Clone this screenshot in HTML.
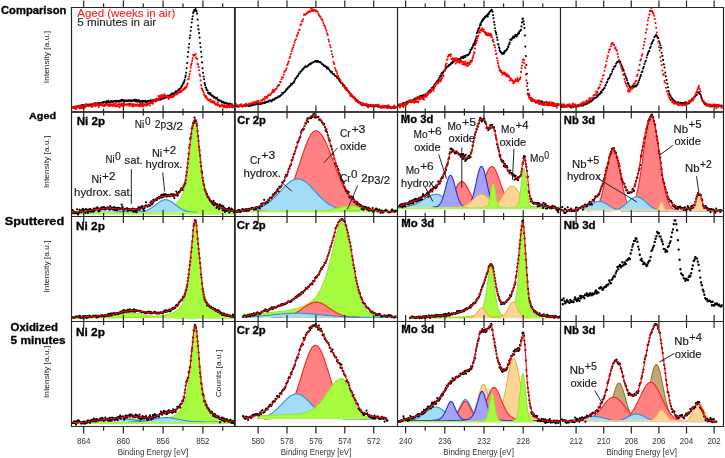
<!DOCTYPE html>
<html><head><meta charset="utf-8"><style>
html,body{margin:0;padding:0;background:#fff;width:725px;height:458px;overflow:hidden}
svg{display:block;will-change:transform}
text{font-family:"Liberation Sans",sans-serif}
</style></head><body><svg width="725" height="458" viewBox="0 0 725 458" font-family="Liberation Sans, sans-serif"><defs><clipPath id="c00"><rect x="71.50" y="7.50" width="163.30" height="104.50"/></clipPath><clipPath id="c01"><rect x="234.80" y="7.50" width="162.70" height="104.50"/></clipPath><clipPath id="c02"><rect x="397.50" y="7.50" width="163.00" height="104.50"/></clipPath><clipPath id="c03"><rect x="560.50" y="7.50" width="163.00" height="104.50"/></clipPath><clipPath id="c10"><rect x="71.50" y="112.00" width="163.30" height="104.50"/></clipPath><clipPath id="c11"><rect x="234.80" y="112.00" width="162.70" height="104.50"/></clipPath><clipPath id="c12"><rect x="397.50" y="112.00" width="163.00" height="104.50"/></clipPath><clipPath id="c13"><rect x="560.50" y="112.00" width="163.00" height="104.50"/></clipPath><clipPath id="c20"><rect x="71.50" y="216.50" width="163.30" height="105.00"/></clipPath><clipPath id="c21"><rect x="234.80" y="216.50" width="162.70" height="105.00"/></clipPath><clipPath id="c22"><rect x="397.50" y="216.50" width="163.00" height="105.00"/></clipPath><clipPath id="c23"><rect x="560.50" y="216.50" width="163.00" height="105.00"/></clipPath><clipPath id="c30"><rect x="71.50" y="321.50" width="163.30" height="105.00"/></clipPath><clipPath id="c31"><rect x="234.80" y="321.50" width="162.70" height="105.00"/></clipPath><clipPath id="c32"><rect x="397.50" y="321.50" width="163.00" height="105.00"/></clipPath><clipPath id="c33"><rect x="560.50" y="321.50" width="163.00" height="105.00"/></clipPath></defs><g clip-path="url(#c00)"><path d="M73 107.4h0M73.5 107.5h0M74 107.1h0M74.5 106.7h0M75 106.9h0M75.5 106.5h0M76 107h0M76.5 107.6h0M77 106.6h0M77.5 106.5h0M78 106.9h0M78.5 106.8h0M79 106.6h0M79.5 106h0M80 106.4h0M80.4 106.7h0M80.9 105.6h0M81.4 106h0M81.9 105.2h0M82.4 105.4h0M82.9 105.1h0M83.4 105.8h0M83.9 105.2h0M84.4 105.9h0M84.9 105.8h0M85.4 105.6h0M85.9 104.3h0M86.4 105.3h0M86.9 105.4h0M87.4 105.4h0M87.9 104.5h0M88.4 105h0M88.9 104.7h0M89.4 104.7h0M89.9 105.5h0M90.4 104.5h0M90.9 104.9h0M91.4 105.2h0M91.9 104.4h0M92.4 104.6h0M92.9 104.6h0M93.4 104.5h0M93.9 103.8h0M94.3 104.3h0M94.8 104.9h0M95.3 103.3h0M95.8 104.4h0M96.3 104h0M96.8 103.5h0M97.3 104.7h0M97.8 104h0M98.3 103h0M98.8 103.5h0M99.3 103.7h0M99.8 103.2h0M100.3 103.5h0M100.8 103.1h0M101.3 103.3h0M101.8 103.6h0M102.3 102.5h0M102.8 102.8h0M103.3 102.4h0M103.8 102.6h0M104.3 101.9h0M104.8 102.1h0M105.3 102.2h0M105.8 102.7h0M106.3 102.7h0M106.8 101.4h0M107.3 101.6h0M107.8 102.3h0M108.3 100.9h0M108.7 101.6h0M109.2 101.7h0M109.7 102.3h0M110.2 102h0M110.7 101.4h0M111.2 101.4h0M111.7 101.4h0M112.2 102.2h0M112.7 101.2h0M113.2 101.2h0M113.7 101.5h0M114.2 101.3h0M114.7 101.2h0M115.2 100.7h0M115.7 101.2h0M116.2 101h0M116.7 101.8h0M117.2 101.5h0M117.7 101.1h0M118.2 101.4h0M118.7 100.9h0M119.2 101.6h0M119.7 101h0M120.2 101.3h0M120.7 100.3h0M121.2 101.1h0M121.7 100.1h0M122.2 99.9h0M122.6 100.7h0M123.1 100.4h0M123.6 100.9h0M124.1 101.9h0M124.6 100.4h0M125.1 100.5h0M125.6 100.9h0M126.1 101h0M126.6 100.6h0M127.1 100.6h0M127.6 101.1h0M128.1 101h0M128.6 100.2h0M129.1 100.7h0M129.6 100.7h0M130.1 100.2h0M130.6 100.8h0M131.1 100.3h0M131.6 101.2h0M132.1 100.8h0M132.6 100.8h0M133.1 100.5h0M133.6 100.7h0M134.1 99.8h0M134.6 100.3h0M135.1 101.1h0M135.6 99.9h0M136.1 101.4h0M136.6 100.1h0M137 101.4h0M137.5 100.6h0M138 101.5h0M138.5 101.2h0M139 100.4h0M139.5 101.8h0M140 101.9h0M140.5 101.2h0M141 101.1h0M141.5 101.2h0M142 100.8h0M142.5 101.9h0M143 101.1h0M143.5 101.4h0M144 101h0M144.5 101.1h0M145 100.8h0M145.5 102h0M146 101.3h0M146.5 101.9h0M147 101.4h0M147.5 101h0M148 101.1h0M148.5 101h0M149 101.2h0M149.5 101h0M150 101h0M150.5 100.4h0M151 100.6h0M151.4 101.8h0M151.9 100.6h0M152.4 100.3h0M152.9 100.9h0M153.4 101.4h0M153.9 99.9h0M154.4 100.5h0M154.9 100.2h0M155.4 99.6h0M155.9 100.7h0M156.4 100.2h0M156.9 100.2h0M157.4 99.7h0M157.9 100.1h0M158.4 99.5h0M158.9 99.6h0M159.4 98.9h0M159.9 98.7h0M160.4 99.8h0M160.9 98.8h0M161.4 99h0M161.9 98.7h0M162.4 98.3h0M162.9 98.1h0M163.4 98.4h0M163.9 97.8h0M164.4 97.7h0M164.9 97.6h0M165.3 98h0M165.8 97.5h0M166.3 97.1h0M166.8 96.4h0M167.3 95.8h0M167.8 96.7h0M168.3 96.4h0M168.8 95.6h0M169.3 95.7h0M169.8 95.5h0M170.3 95.3h0M170.8 95h0M171.3 94.1h0M171.8 94.8h0M172.3 93.2h0M172.8 94h0M173.3 93.6h0M173.8 93.6h0M174.3 93.9h0M174.8 93.4h0M175.3 91.9h0M175.8 91.4h0M176.3 92.4h0M176.8 91.3h0M177.3 91.5h0M177.8 91.6h0M178.3 90h0M178.8 89.4h0M179.3 90.1h0M179.7 89.4h0M180.2 88.7h0M180.7 88.2h0M181.2 87.1h0M181.7 86h0M182.2 85.8h0M182.7 84.5h0M183.2 83.1h0M183.7 83h0M184.2 81.4h0M184.7 80h0M185.2 77.5h0M185.7 75.6h0M186.2 72.8h0M186.7 68.3h0M187.2 63.1h0M187.7 56.8h0M188.2 52.1h0M188.7 47.6h0M189.2 44h0M189.7 38.1h0M190.2 35.2h0M190.7 30.8h0M191.2 27.1h0M191.7 22.5h0M192.2 19.1h0M192.7 16.2h0M193.2 13.1h0M193.6 11.7h0M194.1 10.4h0M194.6 10.5h0M195.1 9.7h0M195.6 9.1h0M196.1 10.8h0M196.6 11.4h0M197.1 13.8h0M197.6 19.6h0M198.1 25.5h0M198.6 29.4h0M199.1 33.1h0M199.6 37.6h0M200.1 43.1h0M200.6 47.2h0M201.1 51.8h0M201.6 56.8h0M202.1 62.4h0M202.6 68.2h0M203.1 72.8h0M203.6 76.5h0M204.1 79.3h0M204.6 83.1h0M205.1 84.9h0M205.6 87.5h0M206.1 87.6h0M206.6 89.3h0M207.1 90.3h0M207.6 90.5h0M208 92.7h0M208.5 93.3h0M209 92.9h0M209.5 94h0M210 94.3h0M210.5 93.3h0M211 95.1h0M211.5 95.3h0M212 95.7h0M212.5 95.5h0M213 96.2h0M213.5 96.6h0M214 97.5h0M214.5 97.4h0M215 97.5h0M215.5 98.5h0M216 97.8h0M216.5 98.1h0M217 97.7h0M217.5 99.7h0M218 99.7h0M218.5 100h0M219 100.2h0M219.5 100.2h0M220 100.6h0M220.5 100.7h0M221 101h0M221.5 101.4h0M221.9 102.4h0M222.4 102.2h0M222.9 102.1h0M223.4 102.1h0M223.9 102.3h0M224.4 103.6h0M224.9 103.2h0M225.4 103.2h0M225.9 103.1h0M226.4 102.9h0M226.9 103.6h0M227.4 104.2h0M227.9 103.7h0M228.4 103.9h0M228.9 104h0M229.4 104.3h0M229.9 103.6h0M230.4 104.4h0M230.9 104.2h0M231.4 105.1h0M231.9 104.4h0M232.4 105.1h0M232.9 105.7h0" stroke="#000" stroke-width="2.1" stroke-linecap="round" fill="none"/><path d="M73 107.6h0M73.5 107.2h0M74 107.9h0M74.5 107.6h0M75 106.6h0M75.5 107.9h0M76 109.2h0M76.5 107.1h0M77 107h0M77.5 106.2h0M78 107.3h0M78.5 105.9h0M79 105.9h0M79.5 108h0M80 105.9h0M80.4 107.7h0M80.9 108h0M81.4 106.8h0M81.9 107h0M82.4 108.2h0M82.9 106.2h0M83.4 105.7h0M83.9 105h0M84.4 106.2h0M84.9 107.4h0M85.4 106.9h0M85.9 105.1h0M86.4 105.1h0M86.9 105.4h0M87.4 106h0M87.9 105.5h0M88.4 105.9h0M88.9 105.9h0M89.4 105.3h0M89.9 105.5h0M90.4 105.7h0M90.9 105.4h0M91.4 105.8h0M91.9 107h0M92.4 105.8h0M92.9 105.3h0M93.4 103.7h0M93.9 105.6h0M94.3 103.4h0M94.8 103.9h0M95.3 105.9h0M95.8 105.7h0M96.3 104.9h0M96.8 103.5h0M97.3 104.7h0M97.8 104.4h0M98.3 105.6h0M98.8 107h0M99.3 105.2h0M99.8 104.3h0M100.3 103.9h0M100.8 104.9h0M101.3 104.8h0M101.8 104h0M102.3 105.1h0M102.8 104h0M103.3 106h0M103.8 106h0M104.3 106h0M104.8 104.6h0M105.3 105.5h0M105.8 104.9h0M106.3 104.7h0M106.8 104.7h0M107.3 103.8h0M107.8 103.7h0M108.3 105.7h0M108.7 104.8h0M109.2 105.2h0M109.7 105.9h0M110.2 103.4h0M110.7 104.3h0M111.2 105.2h0M111.7 105.4h0M112.2 104.7h0M112.7 105.9h0M113.2 105.2h0M113.7 103.9h0M114.2 104.2h0M114.7 105.7h0M115.2 105.4h0M115.7 103.3h0M116.2 106.2h0M116.7 105.5h0M117.2 106.2h0M117.7 104.7h0M118.2 104.7h0M118.7 104h0M119.2 107.3h0M119.7 104.8h0M120.2 106.4h0M120.7 104.4h0M121.2 105.1h0M121.7 103.5h0M122.2 104.7h0M122.6 105.9h0M123.1 103.9h0M123.6 106h0M124.1 105.3h0M124.6 104.1h0M125.1 104.5h0M125.6 104.6h0M126.1 105h0M126.6 104.5h0M127.1 104.3h0M127.6 104.7h0M128.1 104.1h0M128.6 103.8h0M129.1 105h0M129.6 105.8h0M130.1 103.6h0M130.6 105h0M131.1 104.4h0M131.6 104.1h0M132.1 105.8h0M132.6 104.6h0M133.1 106.4h0M133.6 104.4h0M134.1 105.5h0M134.6 104.9h0M135.1 104.5h0M135.6 105.7h0M136.1 105.1h0M136.6 105.8h0M137 105.2h0M137.5 104.3h0M138 105.2h0M138.5 105.4h0M139 106.3h0M139.5 104.6h0M140 105.4h0M140.5 103.9h0M141 106.1h0M141.5 104.5h0M142 103.9h0M142.5 105.4h0M143 106.5h0M143.5 104.1h0M144 104.5h0M144.5 104.7h0M145 104.3h0M145.5 105.5h0M146 104.3h0M146.5 104.3h0M147 105.3h0M147.5 103.9h0M148 104.8h0M148.5 103.3h0M149 102.9h0M149.5 102.1h0M150 105.2h0M150.5 103h0M151 103.3h0M151.4 102.8h0M151.9 102.7h0M152.4 102.3h0M152.9 103.7h0M153.4 100.8h0M153.9 100.1h0M154.4 100.4h0M154.9 99.8h0M155.4 101.5h0M155.9 101.2h0M156.4 99.3h0M156.9 98.5h0M157.4 99h0M157.9 100.2h0M158.4 96h0M158.9 98.6h0M159.4 96.7h0M159.9 98.3h0M160.4 96h0M160.9 96.4h0M161.4 95.1h0M161.9 95.3h0M162.4 97.3h0M162.9 96.7h0M163.4 95.6h0M163.9 95.3h0M164.4 94.4h0M164.9 95.9h0M165.3 96.3h0M165.8 96.4h0M166.3 96.6h0M166.8 95.8h0M167.3 96.9h0M167.8 97h0M168.3 98.4h0M168.8 99h0M169.3 97.2h0M169.8 96.7h0M170.3 97.3h0M170.8 96.8h0M171.3 96.5h0M171.8 97h0M172.3 95.9h0M172.8 97.1h0M173.3 96.2h0M173.8 96.2h0M174.3 95.5h0M174.8 94.6h0M175.3 94.1h0M175.8 94.4h0M176.3 93.8h0M176.8 94.2h0M177.3 93.6h0M177.8 92.1h0M178.3 93.2h0M178.8 91.6h0M179.3 92h0M179.7 92.1h0M180.2 90.2h0M180.7 91.9h0M181.2 91.7h0M181.7 91.1h0M182.2 90.5h0M182.7 90.2h0M183.2 89.3h0M183.7 89.6h0M184.2 88.8h0M184.7 88.9h0M185.2 87.2h0M185.7 87.9h0M186.2 87.2h0M186.7 86.1h0M187.2 84.5h0M187.7 83.5h0M188.2 79.4h0M188.7 78.9h0M189.2 76.3h0M189.7 74h0M190.2 71.3h0M190.7 67.4h0M191.2 64.9h0M191.7 63.3h0M192.2 60.8h0M192.7 58.4h0M193.2 55h0M193.6 55.7h0M194.1 55.4h0M194.6 55h0M195.1 54.8h0M195.6 54h0M196.1 57.5h0M196.6 58.6h0M197.1 58.9h0M197.6 63.9h0M198.1 64.5h0M198.6 67.1h0M199.1 70.2h0M199.6 74.6h0M200.1 76.1h0M200.6 80.4h0M201.1 85.4h0M201.6 88.2h0M202.1 88.7h0M202.6 90.3h0M203.1 90.8h0M203.6 92.5h0M204.1 94.5h0M204.6 95.4h0M205.1 95.9h0M205.6 97.4h0M206.1 96.4h0M206.6 97.6h0M207.1 98.8h0M207.6 99.2h0M208 100h0M208.5 99.9h0M209 99.7h0M209.5 100.7h0M210 99.8h0M210.5 99.7h0M211 102h0M211.5 101.8h0M212 102.5h0M212.5 101h0M213 102.5h0M213.5 102.6h0M214 102.6h0M214.5 101.6h0M215 103.5h0M215.5 104.8h0M216 104.5h0M216.5 103.8h0M217 104.4h0M217.5 105.2h0M218 102.2h0M218.5 104.6h0M219 105.3h0M219.5 105.6h0M220 106.6h0M220.5 106.2h0M221 105.5h0M221.5 105.6h0M221.9 106.1h0M222.4 105h0M222.9 105.5h0M223.4 106.5h0M223.9 107.5h0M224.4 105.6h0M224.9 105.8h0M225.4 106.1h0M225.9 107.2h0M226.4 106h0M226.9 107.4h0M227.4 105.3h0M227.9 106h0M228.4 106.1h0M228.9 107h0M229.4 107.3h0M229.9 105h0M230.4 105.6h0M230.9 106.7h0M231.4 105.9h0M231.9 105.1h0M232.4 107.4h0M232.9 106.9h0" stroke="#f00" stroke-width="2.1" stroke-linecap="round" fill="none"/><text x="77.3" y="17" font-size="10.4" font-weight="normal" fill="#ff1a1a" text-anchor="start" textLength="98" lengthAdjust="spacingAndGlyphs" stroke="#ff1a1a" stroke-width="0.1">Aged (weeks in air)</text><text x="77.3" y="26.4" font-size="10.4" font-weight="normal" fill="#222" text-anchor="start" textLength="78.8" lengthAdjust="spacingAndGlyphs" stroke="#222" stroke-width="0.1">5 minutes in air</text></g><g clip-path="url(#c01)"><path d="M236 106.2h0M236.7 105.8h0M237.4 106.4h0M238.2 105.9h0M238.9 106.4h0M239.6 105.6h0M240.3 105.6h0M241.1 106h0M241.8 105.6h0M242.5 106.1h0M243.2 105.9h0M243.9 105.3h0M244.7 105.7h0M245.4 105.5h0M246.1 105.9h0M246.8 105.2h0M247.6 105.2h0M248.3 105.8h0M249 106.2h0M249.7 106h0M250.4 105.2h0M251.2 105.1h0M251.9 105.6h0M252.6 104.8h0M253.3 104.4h0M254.1 104.8h0M254.8 104.8h0M255.5 104.2h0M256.2 103.8h0M257 103.8h0M257.7 104.5h0M258.4 103.9h0M259.1 104h0M259.8 104h0M260.6 104h0M261.3 103.5h0M262 103.6h0M262.7 102.9h0M263.5 102.9h0M264.2 102.4h0M264.9 103.1h0M265.6 102.4h0M266.3 101.9h0M267.1 101.8h0M267.8 101.6h0M268.5 101.7h0M269.2 100.6h0M270 100.5h0M270.7 100.5h0M271.4 101.4h0M272.1 100.4h0M272.8 99.6h0M273.6 99.6h0M274.3 99.8h0M275 98.5h0M275.7 98h0M276.5 98.2h0M277.2 97.5h0M277.9 97.1h0M278.6 96.2h0M279.3 96.7h0M280.1 96.1h0M280.8 95.2h0M281.5 94.7h0M282.2 93h0M283 93.5h0M283.7 92.5h0M284.4 92.1h0M285.1 91.5h0M285.9 90.4h0M286.6 89.1h0M287.3 89.1h0M288 87.9h0M288.7 87.3h0M289.5 86.4h0M290.2 85.7h0M290.9 84.1h0M291.6 84.7h0M292.4 83.5h0M293.1 82.9h0M293.8 82.4h0M294.5 80.7h0M295.2 78.9h0M296 78.3h0M296.7 77.1h0M297.4 76.3h0M298.1 75.5h0M298.9 73.6h0M299.6 73.5h0M300.3 71.8h0M301 71.6h0M301.7 70.5h0M302.5 69.6h0M303.2 68.9h0M303.9 68h0M304.6 67.4h0M305.4 66.4h0M306.1 66.5h0M306.8 66.7h0M307.5 66.3h0M308.2 65.5h0M309 64.8h0M309.7 63.9h0M310.4 64.3h0M311.1 63.4h0M311.9 63h0M312.6 62.5h0M313.3 62.3h0M314 61.7h0M314.8 61.6h0M315.5 60.9h0M316.2 61h0M316.9 62h0M317.6 61.1h0M318.4 61.2h0M319.1 61.9h0M319.8 62.3h0M320.5 62.1h0M321.3 63h0M322 64h0M322.7 64.3h0M323.4 64.9h0M324.1 66.1h0M324.9 65.8h0M325.6 66.6h0M326.3 66.9h0M327 68.4h0M327.8 67.6h0M328.5 68.8h0M329.2 69.5h0M329.9 70.7h0M330.6 71.4h0M331.4 72.4h0M332.1 72h0M332.8 73.7h0M333.5 74h0M334.3 74.6h0M335 75.8h0M335.7 76h0M336.4 76.3h0M337.1 77.8h0M337.9 78.1h0M338.6 79.3h0M339.3 80.5h0M340 81.3h0M340.8 82.7h0M341.5 82.8h0M342.2 83.1h0M342.9 84.3h0M343.7 85.1h0M344.4 85.8h0M345.1 87.3h0M345.8 87.8h0M346.5 88.2h0M347.3 90.1h0M348 90.7h0M348.7 91.8h0M349.4 92.6h0M350.2 93.7h0M350.9 94.3h0M351.6 95.6h0M352.3 96.1h0M353 96.8h0M353.8 97.5h0M354.5 97.5h0M355.2 98.7h0M355.9 99.4h0M356.7 100.3h0M357.4 100.4h0M358.1 102.2h0M358.8 102.3h0M359.5 102.3h0M360.3 102.6h0M361 103.6h0M361.7 104h0M362.4 104h0M363.2 104.5h0M363.9 104.4h0M364.6 105h0M365.3 104.6h0M366 105h0M366.8 105.6h0M367.5 106.3h0M368.2 105h0M368.9 105.3h0M369.7 105.2h0M370.4 106h0M371.1 105.3h0M371.8 105.6h0M372.6 105.9h0M373.3 105.5h0M374 105.6h0M374.7 105.9h0M375.4 105.3h0M376.2 105.6h0M376.9 106.1h0M377.6 106.4h0M378.3 106.3h0M379.1 105.7h0M379.8 106.3h0M380.5 106.9h0M381.2 106.9h0M381.9 106.7h0M382.7 106.4h0M383.4 107.1h0M384.1 106.6h0M384.8 106.4h0M385.6 106.6h0M386.3 107.6h0M387 107.1h0M387.7 107.6h0M388.4 106.9h0M389.2 107.5h0M389.9 107h0M390.6 107.2h0M391.3 108.3h0M392.1 107.6h0M392.8 107.1h0M393.5 107.3h0M394.2 107.5h0M394.9 107.9h0M395.7 107.2h0" stroke="#000" stroke-width="2.1" stroke-linecap="round" fill="none"/><path d="M236 104.1h0M236.7 105.3h0M237.4 105.5h0M238.2 105.5h0M238.9 106.5h0M239.6 105.6h0M240.3 106h0M241.1 104.4h0M241.8 105.9h0M242.5 106.8h0M243.2 105.6h0M243.9 105.1h0M244.7 104.9h0M245.4 106.1h0M246.1 103.8h0M246.8 104.4h0M247.6 104.7h0M248.3 104.8h0M249 103.7h0M249.7 104.1h0M250.4 103.5h0M251.2 103.7h0M251.9 103.3h0M252.6 102.3h0M253.3 103h0M254.1 103.6h0M254.8 101.9h0M255.5 102.3h0M256.2 102.8h0M257 101.3h0M257.7 102.1h0M258.4 100.8h0M259.1 102.3h0M259.8 102.9h0M260.6 102.4h0M261.3 100.2h0M262 100.5h0M262.7 99.6h0M263.5 99.1h0M264.2 99.8h0M264.9 97h0M265.6 98.4h0M266.3 97h0M267.1 97.6h0M267.8 96.1h0M268.5 94.8h0M269.2 95h0M270 94.9h0M270.7 93.7h0M271.4 93.5h0M272.1 92.1h0M272.8 90.1h0M273.6 91.9h0M274.3 91h0M275 89.8h0M275.7 89h0M276.5 88.9h0M277.2 86.8h0M277.9 85.7h0M278.6 85.1h0M279.3 85.1h0M280.1 81.7h0M280.8 82.3h0M281.5 79.3h0M282.2 77.3h0M283 77.5h0M283.7 74.6h0M284.4 71.9h0M285.1 70.8h0M285.9 70h0M286.6 68.2h0M287.3 64.9h0M288 63.4h0M288.7 61.4h0M289.5 58h0M290.2 56.6h0M290.9 54h0M291.6 51.3h0M292.4 49.1h0M293.1 47.4h0M293.8 45.1h0M294.5 42.4h0M295.2 40.3h0M296 39.3h0M296.7 36.3h0M297.4 34.7h0M298.1 32.9h0M298.9 30.3h0M299.6 29.7h0M300.3 25.2h0M301 24.4h0M301.7 21.5h0M302.5 21.2h0M303.2 19.3h0M303.9 14.8h0M304.6 14.3h0M305.4 14.8h0M306.1 14.3h0M306.8 13.6h0M307.5 12.4h0M308.2 12.4h0M309 12.1h0M309.7 11.1h0M310.4 11.6h0M311.1 8.7h0M311.9 10.8h0M312.6 9.3h0M313.3 10.9h0M314 10h0M314.8 9.7h0M315.5 11.1h0M316.2 10.7h0M316.9 11.4h0M317.6 11.7h0M318.4 13.8h0M319.1 15.2h0M319.8 16.6h0M320.5 16.6h0M321.3 18.7h0M322 19.3h0M322.7 20.7h0M323.4 23h0M324.1 25.3h0M324.9 26.2h0M325.6 28.4h0M326.3 30.6h0M327 33.2h0M327.8 35.1h0M328.5 39.6h0M329.2 41.5h0M329.9 45.3h0M330.6 47.3h0M331.4 51.2h0M332.1 54.3h0M332.8 56.9h0M333.5 62.1h0M334.3 63.9h0M335 68h0M335.7 70.1h0M336.4 71.2h0M337.1 73.4h0M337.9 75.9h0M338.6 77.3h0M339.3 78.9h0M340 80.1h0M340.8 80.3h0M341.5 82.9h0M342.2 82.6h0M342.9 85.8h0M343.7 86h0M344.4 87h0M345.1 88.4h0M345.8 89.8h0M346.5 89.3h0M347.3 89.9h0M348 91.3h0M348.7 91.3h0M349.4 92.9h0M350.2 95.7h0M350.9 94.3h0M351.6 96.4h0M352.3 95.4h0M353 97.4h0M353.8 97.6h0M354.5 98.4h0M355.2 99.6h0M355.9 101.2h0M356.7 100.7h0M357.4 101.3h0M358.1 101h0M358.8 102.8h0M359.5 102.7h0M360.3 104h0M361 103.7h0M361.7 105.4h0M362.4 102.7h0M363.2 104.2h0M363.9 105.3h0M364.6 104.5h0M365.3 104.3h0M366 104.8h0M366.8 104.1h0M367.5 105.4h0M368.2 107.3h0M368.9 106.4h0M369.7 104.7h0M370.4 104.9h0M371.1 105.4h0M371.8 106.6h0M372.6 105.2h0M373.3 105.4h0M374 106.7h0M374.7 106.7h0M375.4 105.8h0M376.2 105.3h0M376.9 105h0M377.6 105.7h0M378.3 104.6h0M379.1 107h0M379.8 106h0M380.5 106.9h0M381.2 108.1h0M381.9 107.6h0M382.7 105.8h0M383.4 107.5h0M384.1 107.8h0M384.8 106.3h0M385.6 106.2h0M386.3 106.9h0M387 105.8h0M387.7 108.3h0M388.4 105.2h0M389.2 106.3h0M389.9 107h0M390.6 107h0M391.3 107.4h0M392.1 107.5h0M392.8 107.1h0M393.5 108.2h0M394.2 105.6h0M394.9 107.4h0M395.7 106.8h0" stroke="#f00" stroke-width="2.1" stroke-linecap="round" fill="none"/></g><g clip-path="url(#c02)"><path d="M399 105.6h0M399.5 105.4h0M400 104.6h0M400.5 104.6h0M401 105.2h0M401.5 104.8h0M401.9 104h0M402.4 105.4h0M402.9 105.4h0M403.4 102.9h0M403.9 103.8h0M404.4 104.9h0M404.9 103.7h0M405.4 103.2h0M405.9 102.7h0M406.4 102.3h0M406.8 102.3h0M407.3 101.9h0M407.8 102.5h0M408.3 101.6h0M408.8 101.4h0M409.3 100.8h0M409.8 101.3h0M410.3 100.6h0M410.8 100.8h0M411.3 101.3h0M411.7 100.7h0M412.2 100.6h0M412.7 100.4h0M413.2 100h0M413.7 99.7h0M414.2 99.4h0M414.7 99.9h0M415.2 98.6h0M415.7 99.9h0M416.2 98.9h0M416.6 98.3h0M417.1 98.3h0M417.6 98h0M418.1 98.3h0M418.6 97.6h0M419.1 98.5h0M419.6 97.2h0M420.1 96.1h0M420.6 96.8h0M421.1 95.8h0M421.5 96.8h0M422 97.2h0M422.5 96.7h0M423 95.3h0M423.5 95.4h0M424 96.6h0M424.5 95.5h0M425 95h0M425.5 95.3h0M426 95.8h0M426.4 94.8h0M426.9 93.7h0M427.4 93.4h0M427.9 93.1h0M428.4 91.9h0M428.9 91.2h0M429.4 91.4h0M429.9 90.3h0M430.4 90.3h0M430.9 89.8h0M431.3 90.6h0M431.8 88.1h0M432.3 88h0M432.8 87.4h0M433.3 87.2h0M433.8 87h0M434.3 85.4h0M434.8 84.7h0M435.3 83.5h0M435.8 83.3h0M436.2 83.5h0M436.7 82.4h0M437.2 81h0M437.7 80.7h0M438.2 80.1h0M438.7 79.6h0M439.2 78.1h0M439.7 77.5h0M440.2 75.8h0M440.7 75.4h0M441.1 76.3h0M441.6 73.3h0M442.1 73.6h0M442.6 73.2h0M443.1 72.2h0M443.6 71.3h0M444.1 71.1h0M444.6 70.5h0M445.1 69.8h0M445.6 68h0M446 68.4h0M446.5 67.4h0M447 66.9h0M447.5 66.8h0M448 66.5h0M448.5 66.1h0M449 64.7h0M449.5 65.1h0M450 64.8h0M450.5 64.3h0M450.9 64.1h0M451.4 62.9h0M451.9 62.6h0M452.4 62.9h0M452.9 61.3h0M453.4 62h0M453.9 61.3h0M454.4 61.1h0M454.9 60.1h0M455.4 60.4h0M455.8 60.7h0M456.3 61h0M456.8 60.9h0M457.3 60h0M457.8 59.7h0M458.3 59.1h0M458.8 59.7h0M459.3 59.1h0M459.8 59.3h0M460.3 59.8h0M460.7 58.5h0M461.2 57.4h0M461.7 57.5h0M462.2 57h0M462.7 56.9h0M463.2 58.2h0M463.7 57.3h0M464.2 56.1h0M464.7 57.1h0M465.2 57.2h0M465.6 56h0M466.1 55.5h0M466.6 55.4h0M467.1 55.4h0M467.6 55.2h0M468.1 55h0M468.6 54.4h0M469.1 53.8h0M469.6 53.2h0M470.1 52h0M470.5 49.9h0M471 49.8h0M471.5 49.2h0M472 47.8h0M472.5 47.6h0M473 45.8h0M473.5 44.4h0M474 44.8h0M474.5 43.1h0M475 41.5h0M475.4 40.3h0M475.9 38.7h0M476.4 36.5h0M476.9 33h0M477.4 32.3h0M477.9 30.8h0M478.4 28.9h0M478.9 28.3h0M479.4 27.8h0M479.9 25.6h0M480.3 24.1h0M480.8 24.9h0M481.3 22.4h0M481.8 21h0M482.3 21h0M482.8 20.3h0M483.3 18.9h0M483.8 19.1h0M484.3 17.8h0M484.8 17h0M485.2 17.2h0M485.7 17.1h0M486.2 15.8h0M486.7 15.9h0M487.2 15.2h0M487.7 16.4h0M488.2 13.8h0M488.7 14.3h0M489.2 12.7h0M489.7 11.8h0M490.1 11.5h0M490.6 10.9h0M491.1 10.6h0M491.6 9.9h0M492.1 10h0M492.6 11.8h0M493.1 15.1h0M493.6 18.2h0M494.1 22.1h0M494.6 24.8h0M495 28.2h0M495.5 31h0M496 32.9h0M496.5 34.7h0M497 37.6h0M497.5 40h0M498 44.1h0M498.5 44.6h0M499 47.4h0M499.5 48.6h0M499.9 50.7h0M500.4 51.6h0M500.9 52.1h0M501.4 52.9h0M501.9 53.6h0M502.4 53.7h0M502.9 53.1h0M503.4 53.2h0M503.9 53.8h0M504.4 51.4h0M504.8 52h0M505.3 50.7h0M505.8 50.8h0M506.3 50.5h0M506.8 49.4h0M507.3 49.1h0M507.8 46.7h0M508.3 47.1h0M508.8 44.8h0M509.3 44.2h0M509.7 42.6h0M510.2 39.7h0M510.7 39.7h0M511.2 39.4h0M511.7 39.6h0M512.2 38.3h0M512.7 37.9h0M513.2 36.5h0M513.7 37.8h0M514.2 37.7h0M514.6 36.3h0M515.1 35.9h0M515.6 34.7h0M516.1 35.8h0M516.6 36.6h0M517.1 34.9h0M517.6 34.8h0M518.1 33.9h0M518.6 32.5h0M519.1 33.3h0M519.5 31.2h0M520 31.1h0M520.5 30.5h0M521 29.7h0M521.5 26.4h0M522 22.4h0M522.5 18.9h0M523 18.6h0M523.5 21.4h0M524 24.3h0M524.4 28h0M524.9 35.5h0M525.4 46.6h0M525.9 56.1h0M526.4 65h0M526.9 73.8h0M527.4 83.2h0M527.9 89.7h0M528.4 94h0M528.9 93.7h0M529.3 95.8h0M529.8 97.9h0M530.3 98.2h0M530.8 98.9h0M531.3 100.6h0M531.8 99.6h0M532.3 99.4h0M532.8 99.6h0M533.3 100.8h0M533.8 101h0M534.2 100.1h0M534.7 100.6h0M535.2 101.6h0M535.7 101.8h0M536.2 101.2h0M536.7 102.1h0M537.2 102.2h0M537.7 100.9h0M538.2 101.8h0M538.7 102.4h0M539.1 101.9h0M539.6 101h0M540.1 102.2h0M540.6 102.9h0M541.1 103.5h0M541.6 101.3h0M542.1 104.3h0M542.6 102.1h0M543.1 103.5h0M543.6 103.7h0M544 103.7h0M544.5 103.3h0M545 102.6h0M545.5 103.7h0M546 103h0M546.5 102h0M547 105.3h0M547.5 104.1h0M548 104.9h0M548.5 103.3h0M548.9 104.8h0M549.4 105h0M549.9 105h0M550.4 104.1h0M550.9 103.5h0M551.4 104.2h0M551.9 103h0M552.4 103.4h0M552.9 104.5h0M553.4 103.9h0M553.8 104.5h0M554.3 104.6h0M554.8 105.8h0M555.3 105.5h0M555.8 104.7h0M556.3 105.5h0M556.8 104.4h0M557.3 104.7h0M557.8 105.5h0M558.3 104.2h0M558.7 104.8h0" stroke="#000" stroke-width="2.1" stroke-linecap="round" fill="none"/><path d="M399 104.5h0M399.5 106h0M400 107.5h0M400.5 104.7h0M401 105.6h0M401.5 104.2h0M401.9 103.8h0M402.4 103.6h0M402.9 106.4h0M403.4 107.2h0M403.9 105h0M404.4 103.5h0M404.9 104.9h0M405.4 103.6h0M405.9 104.7h0M406.4 103.9h0M406.8 103.8h0M407.3 104h0M407.8 102.5h0M408.3 102.5h0M408.8 100.9h0M409.3 102.1h0M409.8 100.9h0M410.3 102.1h0M410.8 101h0M411.3 102h0M411.7 102.2h0M412.2 100h0M412.7 100.5h0M413.2 100.2h0M413.7 101.9h0M414.2 102.8h0M414.7 101.7h0M415.2 100.2h0M415.7 102h0M416.2 98.6h0M416.6 101.8h0M417.1 99.2h0M417.6 96.7h0M418.1 102.5h0M418.6 101.2h0M419.1 98.1h0M419.6 99.2h0M420.1 98.6h0M420.6 98.8h0M421.1 96.8h0M421.5 97.5h0M422 98.5h0M422.5 98h0M423 98.9h0M423.5 97.4h0M424 99.6h0M424.5 96h0M425 96.8h0M425.5 94.1h0M426 94.5h0M426.4 97h0M426.9 94.1h0M427.4 95.3h0M427.9 94.2h0M428.4 92.7h0M428.9 92.9h0M429.4 92.3h0M429.9 91.8h0M430.4 92.6h0M430.9 91.9h0M431.3 90h0M431.8 89.1h0M432.3 89.8h0M432.8 88.8h0M433.3 89.5h0M433.8 90.7h0M434.3 88.1h0M434.8 86.5h0M435.3 85.8h0M435.8 84.5h0M436.2 83.8h0M436.7 83.2h0M437.2 83.3h0M437.7 82.6h0M438.2 83.3h0M438.7 81.4h0M439.2 81h0M439.7 79.2h0M440.2 81.6h0M440.7 79.6h0M441.1 80.2h0M441.6 78.2h0M442.1 78.1h0M442.6 75.2h0M443.1 75.2h0M443.6 76.2h0M444.1 70.5h0M444.6 71.2h0M445.1 69.5h0M445.6 65.9h0M446 64.4h0M446.5 63.5h0M447 59.8h0M447.5 59.4h0M448 56.6h0M448.5 55.7h0M449 54.9h0M449.5 55.1h0M450 55.4h0M450.5 56.1h0M450.9 54.4h0M451.4 58.9h0M451.9 58.6h0M452.4 58.8h0M452.9 58.3h0M453.4 59.1h0M453.9 60.3h0M454.4 60.4h0M454.9 58.2h0M455.4 61h0M455.8 63.6h0M456.3 58.3h0M456.8 61.6h0M457.3 61h0M457.8 60.5h0M458.3 62.2h0M458.8 59.4h0M459.3 61.1h0M459.8 62.7h0M460.3 60.9h0M460.7 60.9h0M461.2 61.8h0M461.7 61.5h0M462.2 64.1h0M462.7 61.8h0M463.2 64.2h0M463.7 62.2h0M464.2 64.7h0M464.7 64.1h0M465.2 61.5h0M465.6 64.6h0M466.1 63.4h0M466.6 64h0M467.1 66.1h0M467.6 62.9h0M468.1 62.7h0M468.6 65.1h0M469.1 63.2h0M469.6 64.3h0M470.1 62.4h0M470.5 60.5h0M471 60.8h0M471.5 61.7h0M472 60.6h0M472.5 58.5h0M473 57h0M473.5 55h0M474 52.4h0M474.5 53h0M475 48.5h0M475.4 44.9h0M475.9 43.3h0M476.4 42.6h0M476.9 40.6h0M477.4 38.1h0M477.9 36.2h0M478.4 35.6h0M478.9 32.4h0M479.4 31.5h0M479.9 32.7h0M480.3 30.1h0M480.8 30.2h0M481.3 30.4h0M481.8 29.3h0M482.3 28.4h0M482.8 31h0M483.3 29.9h0M483.8 29.6h0M484.3 31.9h0M484.8 32.6h0M485.2 32.2h0M485.7 34.2h0M486.2 34.7h0M486.7 33.1h0M487.2 35.2h0M487.7 35.1h0M488.2 34.9h0M488.7 33.5h0M489.2 35h0M489.7 35.4h0M490.1 35.5h0M490.6 34.1h0M491.1 36.5h0M491.6 35.2h0M492.1 37.5h0M492.6 40.6h0M493.1 39.9h0M493.6 41.7h0M494.1 45h0M494.6 45.2h0M495 47.5h0M495.5 50.6h0M496 54.3h0M496.5 53.5h0M497 58h0M497.5 60.6h0M498 63.1h0M498.5 65.6h0M499 67.5h0M499.5 70.1h0M499.9 69.6h0M500.4 71.2h0M500.9 72h0M501.4 71.1h0M501.9 72.5h0M502.4 74.5h0M502.9 73.3h0M503.4 72.5h0M503.9 73.4h0M504.4 72.6h0M504.8 74.2h0M505.3 75.1h0M505.8 73.5h0M506.3 74.5h0M506.8 76.4h0M507.3 74.9h0M507.8 76.2h0M508.3 75.3h0M508.8 76.1h0M509.3 77h0M509.7 80.5h0M510.2 78.2h0M510.7 78.6h0M511.2 79h0M511.7 79.9h0M512.2 81.1h0M512.7 80.9h0M513.2 83.2h0M513.7 81.2h0M514.2 82.6h0M514.6 81.3h0M515.1 81.6h0M515.6 79.3h0M516.1 80.7h0M516.6 80.7h0M517.1 80.4h0M517.6 78.2h0M518.1 81.4h0M518.6 79.8h0M519.1 79.6h0M519.5 79.6h0M520 78.9h0M520.5 77.3h0M521 71.9h0M521.5 68.2h0M522 65.6h0M522.5 62.2h0M523 59.7h0M523.5 59.4h0M524 60.3h0M524.4 63.2h0M524.9 67.2h0M525.4 67.7h0M525.9 74.6h0M526.4 80.4h0M526.9 86.1h0M527.4 93.6h0M527.9 94.4h0M528.4 95.1h0M528.9 96.4h0M529.3 98h0M529.8 98.7h0M530.3 98.9h0M530.8 100h0M531.3 97.8h0M531.8 101h0M532.3 99.1h0M532.8 100.2h0M533.3 100.7h0M533.8 100h0M534.2 100h0M534.7 100.5h0M535.2 101.8h0M535.7 102.6h0M536.2 102.7h0M536.7 101.1h0M537.2 101.4h0M537.7 101.4h0M538.2 103h0M538.7 100.4h0M539.1 104.1h0M539.6 102.3h0M540.1 102h0M540.6 103.3h0M541.1 104.2h0M541.6 103.5h0M542.1 104.4h0M542.6 103.5h0M543.1 104.8h0M543.6 104.9h0M544 103.5h0M544.5 105.2h0M545 103.9h0M545.5 103.9h0M546 102.9h0M546.5 103.7h0M547 104.9h0M547.5 102.7h0M548 104.9h0M548.5 104.7h0M548.9 104.7h0M549.4 102h0M549.9 104.4h0M550.4 105.3h0M550.9 103.8h0M551.4 104.8h0M551.9 102.2h0M552.4 105.6h0M552.9 104.2h0M553.4 105.9h0M553.8 103h0M554.3 105.8h0M554.8 104.9h0M555.3 106.1h0M555.8 104.2h0M556.3 104.6h0M556.8 107.8h0M557.3 104.4h0M557.8 104.6h0M558.3 105.1h0M558.7 104.3h0" stroke="#f00" stroke-width="2.1" stroke-linecap="round" fill="none"/></g><g clip-path="url(#c03)"><path d="M561 106.6h0M561.7 106.9h0M562.4 105.6h0M563.1 105.1h0M563.8 106.6h0M564.5 106.6h0M565.1 106.4h0M565.8 106.6h0M566.5 105.6h0M567.2 105.9h0M567.9 105.3h0M568.6 105.3h0M569.3 106.5h0M570 105.7h0M570.7 107.1h0M571.4 106h0M572 105.7h0M572.7 106.4h0M573.4 106.9h0M574.1 106.2h0M574.8 105.4h0M575.5 106.2h0M576.2 106.7h0M576.9 105.8h0M577.6 105.6h0M578.3 106.5h0M578.9 106h0M579.6 105.3h0M580.3 105.5h0M581 105.2h0M581.7 105.5h0M582.4 105.2h0M583.1 105.5h0M583.8 105h0M584.5 103.5h0M585.2 104.2h0M585.8 104.2h0M586.5 103.6h0M587.2 103.6h0M587.9 102.4h0M588.6 101.9h0M589.3 102.5h0M590 101.2h0M590.7 100.3h0M591.4 101.4h0M592.1 100.1h0M592.7 99.9h0M593.4 98.8h0M594.1 98.4h0M594.8 97.9h0M595.5 97.7h0M596.2 97.5h0M596.9 95.6h0M597.6 96.4h0M598.3 94.8h0M599 94.2h0M599.6 94.4h0M600.3 93.2h0M601 91.7h0M601.7 92.4h0M602.4 90.1h0M603.1 89.7h0M603.8 88.6h0M604.5 88h0M605.2 85.7h0M605.9 85h0M606.5 82.7h0M607.2 82.1h0M607.9 79.7h0M608.6 78.4h0M609.3 78.1h0M610 76h0M610.7 74.4h0M611.4 74h0M612.1 71.7h0M612.8 69.7h0M613.4 69.1h0M614.1 66.8h0M614.8 66.8h0M615.5 65.7h0M616.2 63.6h0M616.9 62.4h0M617.6 61.8h0M618.3 61.2h0M619 60.7h0M619.7 62.2h0M620.3 62.1h0M621 64.3h0M621.7 65.9h0M622.4 67.4h0M623.1 69.4h0M623.8 70.6h0M624.5 73.6h0M625.2 75.3h0M625.9 77.1h0M626.6 78.5h0M627.2 80.3h0M627.9 82.9h0M628.6 84h0M629.3 85.9h0M630 87.2h0M630.7 87.3h0M631.4 87.5h0M632.1 86.5h0M632.8 86h0M633.5 86.9h0M634.1 86.4h0M634.8 86.6h0M635.5 85.8h0M636.2 86.1h0M636.9 85.3h0M637.6 84h0M638.3 82.3h0M639 80.4h0M639.7 78.4h0M640.4 76.4h0M641 75h0M641.7 72.3h0M642.4 71.4h0M643.1 68.4h0M643.8 66.8h0M644.5 64h0M645.2 61.8h0M645.9 60.8h0M646.6 57.6h0M647.3 55.1h0M647.9 53.4h0M648.6 51.6h0M649.3 50.9h0M650 48h0M650.7 46.6h0M651.4 44h0M652.1 42.9h0M652.8 41.3h0M653.5 40.1h0M654.2 37.2h0M654.8 36.6h0M655.5 35.7h0M656.2 34.9h0M656.9 36.1h0M657.6 37.2h0M658.3 37.9h0M659 41.2h0M659.7 43.2h0M660.4 45.2h0M661.1 47.9h0M661.7 52.8h0M662.4 55.9h0M663.1 59.9h0M663.8 64.2h0M664.5 67.5h0M665.2 72.6h0M665.9 76.3h0M666.6 80.1h0M667.3 83.7h0M668 87.3h0M668.6 91.1h0M669.3 93.3h0M670 95h0M670.7 96.2h0M671.4 97.7h0M672.1 98.2h0M672.8 99.3h0M673.5 100.4h0M674.2 100.8h0M674.9 101.5h0M675.5 101.6h0M676.2 103.1h0M676.9 102.9h0M677.6 102.6h0M678.3 102.4h0M679 103.7h0M679.7 102.8h0M680.4 102.7h0M681.1 103h0M681.8 103.1h0M682.4 103.7h0M683.1 103h0M683.8 104.1h0M684.5 102.7h0M685.2 103.5h0M685.9 102.7h0M686.6 104.1h0M687.3 103h0M688 103.1h0M688.7 103.4h0M689.3 103.2h0M690 101.5h0M690.7 101.2h0M691.4 100h0M692.1 100h0M692.8 99.1h0M693.5 98.2h0M694.2 97.3h0M694.9 96.7h0M695.6 95.6h0M696.2 95.3h0M696.9 94.8h0M697.6 92.3h0M698.3 92.7h0M699 92.4h0M699.7 93.7h0M700.4 94.5h0M701.1 96.8h0M701.8 98.3h0M702.5 100.7h0M703.1 101.5h0M703.8 102.5h0M704.5 103.8h0M705.2 104.3h0M705.9 104.1h0M706.6 105.4h0M707.3 105.3h0M708 105.2h0M708.7 105.8h0M709.4 106h0M710 104.9h0M710.7 105.2h0M711.4 106.4h0M712.1 106.4h0M712.8 105.3h0M713.5 105.2h0M714.2 105.5h0M714.9 105.6h0M715.6 105.1h0M716.3 105.9h0M716.9 105.3h0M717.6 105.3h0M718.3 106.4h0M719 105.6h0M719.7 105.9h0M720.4 106.3h0M721.1 106.4h0M721.8 105.8h0" stroke="#000" stroke-width="2.1" stroke-linecap="round" fill="none"/><path d="M561 105h0M561.7 104.3h0M562.4 106.7h0M563.1 105.7h0M563.8 104.2h0M564.5 105.3h0M565.1 105.9h0M565.8 105.8h0M566.5 107h0M567.2 106.6h0M567.9 104.9h0M568.6 105.3h0M569.3 104.3h0M570 105.7h0M570.7 105.6h0M571.4 107.9h0M572 105.6h0M572.7 103.6h0M573.4 104.9h0M574.1 105.6h0M574.8 104.4h0M575.5 104.7h0M576.2 105.2h0M576.9 105.8h0M577.6 105.4h0M578.3 104.7h0M578.9 106.1h0M579.6 104.8h0M580.3 104.6h0M581 103.6h0M581.7 103.8h0M582.4 104.8h0M583.1 102.4h0M583.8 103.4h0M584.5 103.7h0M585.2 102.2h0M585.8 102.3h0M586.5 100.6h0M587.2 102.3h0M587.9 101.7h0M588.6 100.4h0M589.3 98.1h0M590 98.2h0M590.7 99.5h0M591.4 99.6h0M592.1 97.8h0M592.7 98h0M593.4 95.6h0M594.1 95.3h0M594.8 94.7h0M595.5 94.2h0M596.2 91.6h0M596.9 92.8h0M597.6 92.1h0M598.3 88.8h0M599 87.4h0M599.6 87.5h0M600.3 84.8h0M601 81.2h0M601.7 81.7h0M602.4 78.7h0M603.1 75.5h0M603.8 75.2h0M604.5 70.7h0M605.2 67.2h0M605.9 65.3h0M606.5 61.3h0M607.2 58.3h0M607.9 56.1h0M608.6 52.3h0M609.3 49.9h0M610 49.3h0M610.7 46.2h0M611.4 44.3h0M612.1 43h0M612.8 43h0M613.4 44.8h0M614.1 44.9h0M614.8 48.2h0M615.5 47.2h0M616.2 49.6h0M616.9 50.7h0M617.6 53.9h0M618.3 57h0M619 60.1h0M619.7 60.8h0M620.3 64h0M621 66.5h0M621.7 68.8h0M622.4 71h0M623.1 74.5h0M623.8 75.1h0M624.5 79.1h0M625.2 81.5h0M625.9 83.3h0M626.6 85.1h0M627.2 86.6h0M627.9 91h0M628.6 88.9h0M629.3 91.7h0M630 90.6h0M630.7 89.1h0M631.4 87.6h0M632.1 88.6h0M632.8 88.1h0M633.5 84.4h0M634.1 83.6h0M634.8 83.4h0M635.5 81.2h0M636.2 80.7h0M636.9 76.1h0M637.6 74.5h0M638.3 70.2h0M639 70.3h0M639.7 64.9h0M640.4 60.6h0M641 59.2h0M641.7 55.8h0M642.4 54.1h0M643.1 48.5h0M643.8 45.1h0M644.5 41.9h0M645.2 38.7h0M645.9 32.8h0M646.6 29.4h0M647.3 24.7h0M647.9 20.3h0M648.6 17.7h0M649.3 14.6h0M650 10.9h0M650.7 10.9h0M651.4 8h0M652.1 11h0M652.8 12.4h0M653.5 13.7h0M654.2 15.7h0M654.8 19h0M655.5 23.1h0M656.2 27.8h0M656.9 32.5h0M657.6 38.3h0M658.3 41.8h0M659 47.2h0M659.7 50.4h0M660.4 57.2h0M661.1 61.3h0M661.7 65.1h0M662.4 70.6h0M663.1 74.2h0M663.8 74.9h0M664.5 81h0M665.2 82.8h0M665.9 87.7h0M666.6 91.6h0M667.3 91.3h0M668 94.1h0M668.6 95.7h0M669.3 97.8h0M670 99.1h0M670.7 100.5h0M671.4 99.2h0M672.1 102.3h0M672.8 100.7h0M673.5 102.4h0M674.2 103.7h0M674.9 103.8h0M675.5 102.7h0M676.2 103.3h0M676.9 103.7h0M677.6 104.2h0M678.3 105.3h0M679 103.1h0M679.7 104.7h0M680.4 104.8h0M681.1 104.7h0M681.8 104.5h0M682.4 105.4h0M683.1 104.4h0M683.8 104.6h0M684.5 104.3h0M685.2 105.3h0M685.9 101.8h0M686.6 104.5h0M687.3 103h0M688 102.8h0M688.7 101.9h0M689.3 100.7h0M690 101.6h0M690.7 100.7h0M691.4 101.1h0M692.1 98.6h0M692.8 100.4h0M693.5 98.4h0M694.2 97h0M694.9 95.6h0M695.6 94.5h0M696.2 92.8h0M696.9 91.2h0M697.6 89.4h0M698.3 87.6h0M699 86.1h0M699.7 88.9h0M700.4 91.4h0M701.1 95.6h0M701.8 99.4h0M702.5 100.1h0M703.1 101.1h0M703.8 101.4h0M704.5 102.6h0M705.2 102.8h0M705.9 105.1h0M706.6 103.9h0M707.3 104.8h0M708 104.3h0M708.7 105.1h0M709.4 106.4h0M710 104.6h0M710.7 105h0M711.4 104.7h0M712.1 106.3h0M712.8 104.7h0M713.5 104.6h0M714.2 104.5h0M714.9 104.5h0M715.6 106.2h0M716.3 108.2h0M716.9 105h0M717.6 106.8h0M718.3 106.2h0M719 105h0M719.7 105.7h0M720.4 105.8h0M721.1 105.4h0M721.8 107.7h0" stroke="#f00" stroke-width="2.1" stroke-linecap="round" fill="none"/></g><g clip-path="url(#c10)"><path d="M72,212.3 L72,212.1 74,212.1 76,212.1 78,212.1 80,212.1 82,212 84,212 86,212 88,212 90,212 92,212 94,212 96,212 98,212 100,211.9 102,211.9 104,211.9 106,211.9 108,211.9 110,211.8 112,211.8 114,211.8 116,211.8 118,211.7 120,211.7 122,211.7 124,211.7 126,211.6 128,211.6 130,211.5 132,211.5 134,211.4 136,211.4 138,211.3 140,211.2 142,211.1 144,211.1 146,210.9 148,210.8 150,210.7 152,210.6 154,210.4 156,210.2 158,210 160,209.7 162,209.4 164,209 164.5,208.9 165,208.8 165.5,208.7 166,208.5 166.5,208.4 167,208.3 167.5,208.1 168,208 168.5,207.8 169,207.7 169.5,207.5 170,207.3 170.5,207.1 171,206.9 171.5,206.7 172,206.5 172.5,206.2 173,206 173.5,205.7 174,205.4 174.5,205.1 175,204.7 175.5,204.4 176,204 176.5,203.6 177,203.1 177.5,202.7 178,202.1 178.5,201.6 179,200.9 179.5,200.3 180,199.5 180.5,198.7 181,197.9 181.5,196.9 182,195.8 182.5,194.7 183,193.4 183.5,191.9 184,190.4 184.5,188.6 185,186.7 185.5,184.6 186,182.2 186.5,179.7 187,176.9 187.5,173.8 188,170.4 188.5,166.8 189,162.8 189.5,158.6 190,154.1 190.5,149.5 191,144.7 191.5,139.8 192,135.1 192.5,130.6 193,126.6 193.5,123.2 194,120.7 194.5,119.3 195,118.9 195.5,119.7 196,121.6 196.5,124.5 197,128.1 197.5,132.4 198,137 198.5,141.8 199,146.6 199.5,151.4 200,156 200.5,160.3 201,164.4 201.5,168.2 202,171.8 202.5,175 203,178 203.5,180.7 204,183.2 204.5,185.5 205,187.5 205.5,189.3 206,191 206.5,192.5 207,193.9 207.5,195.1 208,196.3 208.5,197.3 209,198.2 209.5,199.1 210,199.8 210.5,200.5 211,201.2 211.5,201.8 212,202.3 212.5,202.8 213,203.3 213.5,203.8 214,204.2 214.5,204.5 215,204.9 215.5,205.2 216,205.5 216.5,205.8 217,206.1 217.5,206.3 218,206.6 218.5,206.8 219,207 219.5,207.2 220,207.4 220.5,207.6 221,207.7 221.5,207.9 222,208.1 222.5,208.2 223,208.3 223.5,208.5 224,208.6 224.5,208.7 225,208.8 225.5,208.9 226,209 228,209.4 230,209.7 232,210 234,210.2 L234,212.3" fill="#a6fb3e" stroke="#8ee82c" stroke-width="1.05" stroke-linejoin="round"/><path d="M74.5,212.3 L74.5,212.2 75,212.2 75.5,212.2 76,212.2 76.5,212.2 77,212.2 77.5,212.2 78,212.2 78.5,212.1 79,212.1 79.5,212.1 80,212.1 80.5,212 81,212 81.5,212 82,211.9 82.5,211.9 83,211.9 83.5,211.8 84,211.8 84.5,211.7 85,211.6 85.5,211.6 86,211.5 86.5,211.5 87,211.4 87.5,211.3 88,211.2 88.5,211.1 89,211 89.5,211 90,210.9 90.5,210.8 91,210.7 91.5,210.6 92,210.4 92.5,210.3 93,210.2 93.5,210.1 94,210 94.5,209.9 95,209.8 95.5,209.7 96,209.6 96.5,209.5 97,209.4 97.5,209.3 98,209.2 98.5,209.1 99,209 99.5,208.9 100,208.9 100.5,208.8 101,208.8 101.5,208.7 102,208.7 102.5,208.6 103,208.6 103.5,208.6 104,208.6 104.5,208.6 105,208.6 105.5,208.6 106,208.7 106.5,208.7 107,208.8 107.5,208.8 108,208.9 108.5,208.9 109,209 109.5,209.1 110,209.2 110.5,209.3 111,209.4 111.5,209.5 112,209.6 112.5,209.7 113,209.8 113.5,209.9 114,210 114.5,210.1 115,210.2 115.5,210.3 116,210.4 116.5,210.6 117,210.7 117.5,210.8 118,210.9 118.5,211 119,211 119.5,211.1 120,211.2 120.5,211.3 121,211.4 121.5,211.5 122,211.5 122.5,211.6 123,211.6 123.5,211.7 124,211.8 124.5,211.8 125,211.9 125.5,211.9 126,211.9 126.5,212 127,212 127.5,212 128,212.1 128.5,212.1 129,212.1 129.5,212.1 130,212.2 130.5,212.2 131,212.2 131.5,212.2 132,212.2 132.5,212.2 133,212.2 133.5,212.2 L133.5,212.3" fill="#a3dcf7" stroke="#1f8fe0" stroke-width="1.05" stroke-linejoin="round"/><path d="M115,212.3 L115,212.2 115.5,212.2 116,212.2 116.5,212.2 117,212.2 117.5,212.2 118,212.1 118.5,212.1 119,212.1 119.5,212 120,212 120.5,212 121,211.9 121.5,211.8 122,211.8 122.5,211.7 123,211.6 123.5,211.6 124,211.5 124.5,211.4 125,211.3 125.5,211.2 126,211.1 126.5,211 127,210.9 127.5,210.8 128,210.7 128.5,210.6 129,210.5 129.5,210.4 130,210.3 130.5,210.2 131,210.2 131.5,210.1 132,210.1 132.5,210 133,210 133.5,210 134,210 134.5,210 135,210 135.5,210.1 136,210.1 136.5,210.2 137,210.3 137.5,210.3 138,210.4 138.5,210.5 139,210.6 139.5,210.7 140,210.8 140.5,210.9 141,211 141.5,211.1 142,211.2 142.5,211.3 143,211.4 143.5,211.5 144,211.6 144.5,211.6 145,211.7 145.5,211.8 146,211.9 146.5,211.9 147,212 147.5,212 148,212 148.5,212.1 149,212.1 149.5,212.1 150,212.2 150.5,212.2 151,212.2 151.5,212.2 152,212.2 152.5,212.2 L152.5,212.3" fill="#a3dcf7" stroke="#1f8fe0" stroke-width="1.05" stroke-linejoin="round"/><path d="M133.5,212.3 L133.5,212.2 134,212.2 134.5,212.2 135,212.2 135.5,212.2 136,212.2 136.5,212.2 137,212.1 137.5,212.1 138,212.1 138.5,212 139,212 139.5,211.9 140,211.9 140.5,211.8 141,211.8 141.5,211.7 142,211.6 142.5,211.5 143,211.4 143.5,211.3 144,211.2 144.5,211.1 145,210.9 145.5,210.8 146,210.6 146.5,210.4 147,210.2 147.5,210 148,209.8 148.5,209.6 149,209.3 149.5,209.1 150,208.8 150.5,208.5 151,208.2 151.5,207.9 152,207.5 152.5,207.2 153,206.8 153.5,206.5 154,206.1 154.5,205.7 155,205.3 155.5,204.9 156,204.5 156.5,204.1 157,203.7 157.5,203.4 158,203 158.5,202.6 159,202.3 159.5,201.9 160,201.6 160.5,201.3 161,201 161.5,200.8 162,200.5 162.5,200.3 163,200.1 163.5,200 164,199.9 164.5,199.8 165,199.7 165.5,199.7 166,199.7 166.5,199.8 167,199.8 167.5,199.9 168,200.1 168.5,200.2 169,200.4 169.5,200.7 170,200.9 170.5,201.2 171,201.5 171.5,201.8 172,202.1 172.5,202.5 173,202.8 173.5,203.2 174,203.6 174.5,204 175,204.4 175.5,204.8 176,205.2 176.5,205.5 177,205.9 177.5,206.3 178,206.7 178.5,207 179,207.4 179.5,207.7 180,208.1 180.5,208.4 181,208.7 181.5,209 182,209.2 182.5,209.5 183,209.7 183.5,210 184,210.2 184.5,210.4 185,210.5 185.5,210.7 186,210.9 186.5,211 187,211.2 187.5,211.3 188,211.4 188.5,211.5 189,211.6 189.5,211.7 190,211.7 190.5,211.8 191,211.9 191.5,211.9 192,212 192.5,212 193,212.1 193.5,212.1 194,212.1 194.5,212.1 195,212.2 195.5,212.2 196,212.2 196.5,212.2 197,212.2 197.5,212.2 198,212.2 L198,212.3" fill="#a3dcf7" stroke="#1f8fe0" stroke-width="1.05" stroke-linejoin="round"/><rect x="72" y="212.3" width="162.6" height="2.3" fill="#a6fb3e"/><path d="M72.5 210.2h0M73 212.9h0M73.5 212.8h0M74 211.6h0M74.5 212.4h0M75 213.2h0M75.5 212.3h0M76 212.5h0M76.5 212.8h0M77 209.4h0M77.5 213.6h0M78 214.5h0M78.5 212.9h0M79 212.8h0M79.5 209.8h0M79.9 211.3h0M80.4 210.4h0M80.9 210.6h0M81.4 212.4h0M81.9 210.2h0M82.4 211h0M82.9 208.8h0M83.4 210.8h0M83.9 211h0M84.4 210h0M84.9 209.9h0M85.4 213h0M85.9 209.2h0M86.4 209.4h0M86.9 209.6h0M87.4 211.9h0M87.9 213h0M88.4 210.8h0M88.9 209.5h0M89.4 209.7h0M89.9 211.5h0M90.4 209h0M90.9 211.8h0M91.4 211.7h0M91.9 210.1h0M92.4 210.7h0M92.9 210.8h0M93.4 211.7h0M93.8 208.5h0M94.3 211.1h0M94.8 209.2h0M95.3 208.6h0M95.8 209.6h0M96.3 209.2h0M96.8 208.2h0M97.3 207.4h0M97.8 208.1h0M98.3 210.9h0M98.8 211.5h0M99.3 209.9h0M99.8 210.4h0M100.3 208.3h0M100.8 208.8h0M101.3 209.2h0M101.8 207.4h0M102.3 207.5h0M102.8 208.7h0M103.3 208.1h0M103.8 207.1h0M104.3 208.8h0M104.8 207.9h0M105.3 209.4h0M105.8 208.1h0M106.3 207.8h0M106.8 208.3h0M107.3 207.9h0M107.8 207.3h0M108.2 207.6h0M108.7 209h0M109.2 208.9h0M109.7 209.7h0M110.2 206.2h0M110.7 207.8h0M111.2 207.8h0M111.7 208.5h0M112.2 207.8h0M112.7 207.8h0M113.2 209.4h0M113.7 208.7h0M114.2 207.1h0M114.7 210.2h0M115.2 209.8h0M115.7 208h0M116.2 209.7h0M116.7 207.9h0M117.2 210.2h0M117.7 208.6h0M118.2 207.9h0M118.7 208.5h0M119.2 208h0M119.7 209.2h0M120.2 209.2h0M120.7 209.1h0M121.2 208.4h0M121.7 204.7h0M122.1 209.2h0M122.6 206.9h0M123.1 209.5h0M123.6 210.6h0M124.1 209.6h0M124.6 208.8h0M125.1 209.1h0M125.6 209.1h0M126.1 208.7h0M126.6 208.7h0M127.1 208.3h0M127.6 210.8h0M128.1 209.4h0M128.6 210.6h0M129.1 209.2h0M129.6 209.6h0M130.1 209.3h0M130.6 210.1h0M131.1 210.5h0M131.6 209.8h0M132.1 208.8h0M132.6 208.6h0M133.1 211.6h0M133.6 209.3h0M134.1 209.2h0M134.6 211.4h0M135.1 210.9h0M135.6 210.2h0M136.1 209.1h0M136.5 212.3h0M137 209.9h0M137.5 210h0M138 209h0M138.5 207.4h0M139 207.4h0M139.5 209.4h0M140 209.2h0M140.5 208.3h0M141 207h0M141.5 206.5h0M142 207.7h0M142.5 206.2h0M143 208.9h0M143.5 209h0M144 210.8h0M144.5 208.3h0M145 206.3h0M145.5 205.7h0M146 202.3h0M146.5 205.5h0M147 205.7h0M147.5 206.8h0M148 206h0M148.5 205.7h0M149 204.9h0M149.5 205.1h0M150 205.8h0M150.5 202.4h0M150.9 202.8h0M151.4 201.3h0M151.9 204.5h0M152.4 203.7h0M152.9 202.7h0M153.4 199.9h0M153.9 201.2h0M154.4 200.3h0M154.9 200.4h0M155.4 199.7h0M155.9 200.2h0M156.4 198.7h0M156.9 199.9h0M157.4 198.8h0M157.9 197.8h0M158.4 197.7h0M158.9 197.1h0M159.4 198.3h0M159.9 196.8h0M160.4 197.3h0M160.9 196.3h0M161.4 194.9h0M161.9 197.6h0M162.4 195.1h0M162.9 197.1h0M163.4 196.7h0M163.9 194.1h0M164.4 194.8h0M164.8 195.3h0M165.3 194.9h0M165.8 194.4h0M166.3 196.7h0M166.8 195.5h0M167.3 196.2h0M167.8 195.2h0M168.3 196.1h0M168.8 194.8h0M169.3 195.6h0M169.8 196.3h0M170.3 195.6h0M170.8 195h0M171.3 194.2h0M171.8 195.6h0M172.3 195.8h0M172.8 195h0M173.3 194.3h0M173.8 195.8h0M174.3 198.1h0M174.8 194.6h0M175.3 195.3h0M175.8 195.2h0M176.3 191.5h0M176.8 194.6h0M177.3 193.4h0M177.8 195.7h0M178.3 193.3h0M178.8 192.1h0M179.2 192.2h0M179.7 192.1h0M180.2 190.7h0M180.7 190.6h0M181.2 188.4h0M181.7 188.9h0M182.2 189.3h0M182.7 189.8h0M183.2 187.3h0M183.7 185.6h0M184.2 185.4h0M184.7 183.8h0M185.2 183h0M185.7 180.2h0M186.2 175.7h0M186.7 172.2h0M187.2 167.8h0M187.7 163.4h0M188.2 159h0M188.7 153.7h0M189.2 147.7h0M189.7 144.9h0M190.2 138.9h0M190.7 137.4h0M191.2 133.8h0M191.7 128.5h0M192.2 128.2h0M192.7 125.7h0M193.1 122.8h0M193.6 123.2h0M194.1 122.1h0M194.6 117.6h0M195.1 120.2h0M195.6 120.2h0M196.1 121.4h0M196.6 123.7h0M197.1 125.5h0M197.6 131.2h0M198.1 136h0M198.6 141.1h0M199.1 147h0M199.6 150.4h0M200.1 155.6h0M200.6 162.2h0M201.1 166.2h0M201.6 171.4h0M202.1 172.9h0M202.6 177.9h0M203.1 181h0M203.6 184.1h0M204.1 185.5h0M204.6 189.3h0M205.1 189.8h0M205.6 191.3h0M206.1 192.5h0M206.6 194.4h0M207.1 194h0M207.5 196.8h0M208 196.9h0M208.5 197.4h0M209 198h0M209.5 199.4h0M210 200.6h0M210.5 201.2h0M211 201.2h0M211.5 202.3h0M212 202h0M212.5 203.8h0M213 202.8h0M213.5 200.8h0M214 205.3h0M214.5 204.2h0M215 203.1h0M215.5 204.6h0M216 204.1h0M216.5 208h0M217 206.4h0M217.5 204.2h0M218 207h0M218.5 206.1h0M219 209.2h0M219.5 205.8h0M220 204.6h0M220.5 207.6h0M221 207.3h0M221.4 207.4h0M221.9 205.5h0M222.4 208.7h0M222.9 210.4h0M223.4 206.3h0M223.9 210.1h0M224.4 208.2h0M224.9 211.8h0M225.4 209.7h0M225.9 209.1h0M226.4 210.8h0M226.9 210.2h0M227.4 209h0M227.9 210.7h0M228.4 209.3h0M228.9 207.9h0M229.4 212.6h0M229.9 209.8h0M230.4 209.6h0M230.9 210.9h0M231.4 208.7h0M231.9 209h0M232.4 210.1h0M232.9 210.2h0M233.4 210.9h0M233.9 212.3h0" stroke="#000" stroke-width="2.2" stroke-linecap="round" fill="none"/><polyline points="72.5,212.5 73.5,212.4 74.5,212.2 75.5,212.1 76.5,212 77.5,211.8 78.5,211.7 79.5,211.5 80.5,211.4 81.5,211.3 82.5,211.1 83.5,211 84.5,210.9 85.5,210.7 86.5,210.6 87.5,210.5 88.5,210.4 89.5,210.2 90.5,210.1 91.5,210 92.5,209.9 93.5,209.8 94.5,209.7 95.5,209.5 96.5,209.4 97.5,209.3 98.5,209.2 99.5,209.1 100.5,208.9 101.5,208.8 102.5,208.6 103.5,208.4 104.5,208.3 105.5,208.2 106.5,208.1 107.5,208.1 108.5,208.1 109.5,208.2 110.5,208.2 111.5,208.3 112.5,208.4 113.5,208.5 114.5,208.6 115.5,208.7 116.5,208.7 117.5,208.8 118.5,208.9 119.5,209 120.5,209 121.5,209.1 122.5,209.1 123.5,209.2 124.5,209.2 125.5,209.3 126.5,209.3 127.5,209.4 128.5,209.4 129.5,209.5 130.5,209.5 131.5,209.5 132.5,209.6 133.5,209.6 134.5,209.6 135.5,209.6 136.5,209.5 137.5,209.4 138.5,209.1 139.5,208.9 140.5,208.6 141.5,208.3 142.5,208 143.5,207.6 144.5,207.2 145.5,206.7 146.5,206.2 147.5,205.6 148.5,205 149.5,204.3 150.5,203.7 151.5,202.9 152.5,202.1 153.5,201.3 154.5,200.6 155.5,199.9 156.5,199.1 157.5,198.4 158.5,197.8 159.5,197.3 160.5,196.9 161.5,196.6 162.5,196.3 163.5,196.1 164.5,196 165.5,195.9 166.5,195.8 167.5,195.7 168.5,195.7 169.5,195.6 170.5,195.6 171.5,195.5 172.5,195.3 173.5,195.2 174.5,195 175.5,194.8 176.5,194.6 177.5,194.2 178.5,193.3 179.5,192.2 180.5,191 181.5,189.6 182.5,187.9 183.5,185.8 184.5,183.2 185.5,179.9 186.5,173.5 187.5,164.7 188.5,156.2 189.5,147.3 190.5,138.6 191.5,131.5 192.5,125.4 193.5,121.6 194.5,119.2 195.5,119.4 196.5,122.1 197.5,130.5 198.5,140.9 199.5,151.1 200.5,160.6 201.5,170.1 202.5,178.3 203.5,183.7 204.5,187.9 205.5,191.1 206.5,193.4 207.5,195.4 208.5,197.1 209.5,198.7 210.5,200.1 211.5,201.3 212.5,202.3 213.5,203.3 214.5,204.1 215.5,204.8 216.5,205.5 217.5,206.1 218.5,206.6 219.5,207.1 220.5,207.5 221.5,207.9 222.5,208.2 223.5,208.6 224.5,208.9 225.5,209.2 226.5,209.5 227.5,209.7 228.5,210 229.5,210.2 230.5,210.4 231.5,210.6 232.5,210.7 233.5,210.9" fill="none" stroke="#ff0000" stroke-width="1.1" stroke-linejoin="round"/></g><text x="76.7" y="125" font-size="10.6" font-weight="bold" fill="#000" stroke="#000" stroke-width="0.3" textLength="28.4" lengthAdjust="spacingAndGlyphs">Ni 2p</text><text x="134.7" y="127.9" font-size="10.3" fill="#161616" stroke="#161616" stroke-width="0.15" textLength="9.5" lengthAdjust="spacingAndGlyphs">Ni</text><text x="144.9" y="124.8" font-size="10.3" fill="#161616" stroke="#161616" stroke-width="0.15" textLength="5.6" lengthAdjust="spacingAndGlyphs">0</text><text x="154.8" y="127.9" font-size="10.3" fill="#161616" stroke="#161616" stroke-width="0.15" textLength="11.4" lengthAdjust="spacingAndGlyphs">2p</text><text x="166.2" y="130.3" font-size="10.3" fill="#161616" stroke="#161616" stroke-width="0.15" textLength="17" lengthAdjust="spacingAndGlyphs">3/2</text><text x="105.6" y="163.4" font-size="10.3" fill="#161616" stroke="#161616" stroke-width="0.15" textLength="9.1" lengthAdjust="spacingAndGlyphs">Ni</text><text x="115" y="159.6" font-size="10.3" fill="#161616" stroke="#161616" stroke-width="0.15" textLength="5.8" lengthAdjust="spacingAndGlyphs">0</text><text x="124.6" y="163.8" font-size="10.3" fill="#161616" stroke="#161616" stroke-width="0.15" textLength="18.1" lengthAdjust="spacingAndGlyphs">sat.</text><text x="152" y="157.1" font-size="10.3" fill="#161616" stroke="#161616" stroke-width="0.15" textLength="10.2" lengthAdjust="spacingAndGlyphs">Ni</text><text x="163" y="153.6" font-size="10.3" fill="#161616" stroke="#161616" stroke-width="0.15" textLength="13.1" lengthAdjust="spacingAndGlyphs">+2</text><text x="145.6" y="168.1" font-size="10.3" fill="#161616" stroke="#161616" stroke-width="0.15" textLength="36.9" lengthAdjust="spacingAndGlyphs">hydrox.</text><text x="91.5" y="183.2" font-size="10.3" fill="#161616" stroke="#161616" stroke-width="0.15" textLength="10" lengthAdjust="spacingAndGlyphs">Ni</text><text x="102" y="179.6" font-size="10.3" fill="#161616" stroke="#161616" stroke-width="0.15" textLength="13.5" lengthAdjust="spacingAndGlyphs">+2</text><text x="74.1" y="196.1" font-size="10.3" fill="#161616" stroke="#161616" stroke-width="0.15" textLength="58.8" lengthAdjust="spacingAndGlyphs">hydrox. sat.</text><line x1="131.3" y1="169.1" x2="131.3" y2="203.9" stroke="#222" stroke-width="1"/><line x1="162.7" y1="172.4" x2="164.7" y2="191.5" stroke="#222" stroke-width="1"/><g clip-path="url(#c11)"><path d="M255.8,210.6 L255.8,210.5 256.3,210.5 256.8,210.5 257.3,210.5 257.8,210.5 258.3,210.5 258.8,210.5 259.3,210.5 259.8,210.5 260.3,210.4 260.8,210.4 261.3,210.4 261.8,210.4 262.3,210.4 262.8,210.3 263.3,210.3 263.8,210.3 264.3,210.2 264.8,210.2 265.3,210.1 265.8,210.1 266.3,210 266.8,210 267.3,209.9 267.8,209.8 268.3,209.8 268.8,209.7 269.3,209.6 269.8,209.5 270.3,209.4 270.8,209.3 271.3,209.2 271.8,209 272.3,208.9 272.8,208.7 273.3,208.5 273.8,208.4 274.3,208.2 274.8,207.9 275.3,207.7 275.8,207.5 276.3,207.2 276.8,206.9 277.3,206.6 277.8,206.3 278.3,206 278.8,205.6 279.3,205.2 279.8,204.8 280.3,204.4 280.8,203.9 281.3,203.4 281.8,202.9 282.3,202.4 282.8,201.8 283.3,201.2 283.8,200.6 284.3,199.9 284.8,199.2 285.3,198.5 285.8,197.7 286.3,196.9 286.8,196.1 287.3,195.2 287.8,194.3 288.3,193.3 288.8,192.4 289.3,191.4 289.8,190.3 290.3,189.2 290.8,188.1 291.3,186.9 291.8,185.7 292.3,184.5 292.8,183.3 293.3,182 293.8,180.7 294.3,179.3 294.8,177.9 295.3,176.5 295.8,175.1 296.3,173.7 296.8,172.2 297.3,170.7 297.8,169.2 298.3,167.7 298.8,166.2 299.3,164.6 299.8,163.1 300.3,161.5 300.8,160 301.3,158.5 301.8,156.9 302.3,155.4 302.8,153.9 303.3,152.4 303.8,151 304.3,149.6 304.8,148.1 305.3,146.8 305.8,145.4 306.3,144.1 306.8,142.9 307.3,141.7 307.8,140.5 308.3,139.4 308.8,138.3 309.3,137.3 309.8,136.4 310.3,135.5 310.8,134.7 311.3,134 311.8,133.3 312.3,132.8 312.8,132.2 313.3,131.8 313.8,131.4 314.3,131.2 314.8,131 315.3,130.8 315.8,130.8 316.3,130.8 316.8,130.9 317.3,131.1 317.8,131.3 318.3,131.6 318.8,131.9 319.3,132.3 319.8,132.8 320.3,133.3 320.8,133.9 321.3,134.5 321.8,135.2 322.3,135.9 322.8,136.7 323.3,137.6 323.8,138.4 324.3,139.4 324.8,140.3 325.3,141.4 325.8,142.4 326.3,143.5 326.8,144.6 327.3,145.8 327.8,147 328.3,148.2 328.8,149.4 329.3,150.7 329.8,152 330.3,153.3 330.8,154.6 331.3,155.9 331.8,157.2 332.3,158.6 332.8,159.9 333.3,161.3 333.8,162.6 334.3,164 334.8,165.4 335.3,166.7 335.8,168 336.3,169.4 336.8,170.7 337.3,172 337.8,173.3 338.3,174.6 338.8,175.9 339.3,177.1 339.8,178.3 340.3,179.5 340.8,180.7 341.3,181.9 341.8,183 342.3,184.1 342.8,185.2 343.3,186.3 343.8,187.3 344.3,188.3 344.8,189.3 345.3,190.3 345.8,191.2 346.3,192.1 346.8,193 347.3,193.8 347.8,194.6 348.3,195.4 348.8,196.2 349.3,196.9 349.8,197.6 350.3,198.3 350.8,199 351.3,199.6 351.8,200.2 352.3,200.8 352.8,201.3 353.3,201.8 353.8,202.4 354.3,202.8 354.8,203.3 355.3,203.7 355.8,204.1 356.3,204.5 356.8,204.9 357.3,205.3 357.8,205.6 358.3,205.9 358.8,206.2 359.3,206.5 359.8,206.8 360.3,207 360.8,207.3 361.3,207.5 361.8,207.7 362.3,207.9 362.8,208.1 363.3,208.3 363.8,208.5 364.3,208.6 364.8,208.8 365.3,208.9 365.8,209 366.3,209.2 366.8,209.3 367.3,209.4 367.8,209.5 368.3,209.6 368.8,209.6 369.3,209.7 369.8,209.8 370.3,209.9 370.8,209.9 371.3,210 371.8,210 372.3,210.1 372.8,210.1 373.3,210.2 373.8,210.2 374.3,210.2 374.8,210.3 375.3,210.3 375.8,210.3 376.3,210.3 376.8,210.4 377.3,210.4 377.8,210.4 378.3,210.4 378.8,210.4 379.3,210.5 379.8,210.5 380.3,210.5 380.8,210.5 381.3,210.5 381.8,210.5 382.3,210.5 382.8,210.5 383.3,210.5 383.8,210.5 L383.8,210.6" fill="#ff8282" stroke="#ff1a1a" stroke-width="1.05" stroke-linejoin="round"/><path d="M235.8,210.6 L235.8,210.5 236.3,210.5 236.8,210.5 237.3,210.5 237.8,210.5 238.3,210.5 238.8,210.5 239.3,210.5 239.8,210.5 240.3,210.5 240.8,210.4 241.3,210.4 241.8,210.4 242.3,210.4 242.8,210.4 243.3,210.4 243.8,210.3 244.3,210.3 244.8,210.3 245.3,210.3 245.8,210.2 246.3,210.2 246.8,210.2 247.3,210.1 247.8,210.1 248.3,210 248.8,210 249.3,209.9 249.8,209.9 250.3,209.8 250.8,209.8 251.3,209.7 251.8,209.6 252.3,209.5 252.8,209.5 253.3,209.4 253.8,209.3 254.3,209.2 254.8,209.1 255.3,209 255.8,208.8 256.3,208.7 256.8,208.6 257.3,208.5 257.8,208.3 258.3,208.2 258.8,208 259.3,207.8 259.8,207.6 260.3,207.4 260.8,207.2 261.3,207 261.8,206.8 262.3,206.6 262.8,206.3 263.3,206.1 263.8,205.8 264.3,205.6 264.8,205.3 265.3,205 265.8,204.7 266.3,204.4 266.8,204 267.3,203.7 267.8,203.3 268.3,203 268.8,202.6 269.3,202.2 269.8,201.8 270.3,201.4 270.8,201 271.3,200.6 271.8,200.1 272.3,199.7 272.8,199.2 273.3,198.7 273.8,198.2 274.3,197.8 274.8,197.3 275.3,196.7 275.8,196.2 276.3,195.7 276.8,195.2 277.3,194.6 277.8,194.1 278.3,193.6 278.8,193 279.3,192.5 279.8,191.9 280.3,191.4 280.8,190.8 281.3,190.3 281.8,189.7 282.3,189.2 282.8,188.6 283.3,188.1 283.8,187.6 284.3,187 284.8,186.5 285.3,186 285.8,185.5 286.3,185 286.8,184.5 287.3,184.1 287.8,183.6 288.3,183.2 288.8,182.8 289.3,182.4 289.8,182 290.3,181.6 290.8,181.3 291.3,181 291.8,180.7 292.3,180.4 292.8,180.1 293.3,179.9 293.8,179.7 294.3,179.5 294.8,179.3 295.3,179.2 295.8,179.1 296.3,179 296.8,178.9 297.3,178.9 297.8,178.9 298.3,178.9 298.8,179 299.3,179 299.8,179.1 300.3,179.3 300.8,179.4 301.3,179.6 301.8,179.8 302.3,180 302.8,180.2 303.3,180.5 303.8,180.8 304.3,181.1 304.8,181.4 305.3,181.8 305.8,182.2 306.3,182.5 306.8,182.9 307.3,183.4 307.8,183.8 308.3,184.3 308.8,184.7 309.3,185.2 309.8,185.7 310.3,186.2 310.8,186.7 311.3,187.2 311.8,187.8 312.3,188.3 312.8,188.8 313.3,189.4 313.8,189.9 314.3,190.5 314.8,191 315.3,191.6 315.8,192.1 316.3,192.7 316.8,193.2 317.3,193.8 317.8,194.3 318.3,194.9 318.8,195.4 319.3,195.9 319.8,196.4 320.3,196.9 320.8,197.5 321.3,197.9 321.8,198.4 322.3,198.9 322.8,199.4 323.3,199.8 323.8,200.3 324.3,200.7 324.8,201.2 325.3,201.6 325.8,202 326.3,202.4 326.8,202.8 327.3,203.1 327.8,203.5 328.3,203.8 328.8,204.2 329.3,204.5 329.8,204.8 330.3,205.1 330.8,205.4 331.3,205.7 331.8,205.9 332.3,206.2 332.8,206.4 333.3,206.7 333.8,206.9 334.3,207.1 334.8,207.3 335.3,207.5 335.8,207.7 336.3,207.9 336.8,208.1 337.3,208.2 337.8,208.4 338.3,208.5 338.8,208.6 339.3,208.8 339.8,208.9 340.3,209 340.8,209.1 341.3,209.2 341.8,209.3 342.3,209.4 342.8,209.5 343.3,209.6 343.8,209.6 344.3,209.7 344.8,209.8 345.3,209.8 345.8,209.9 346.3,210 346.8,210 347.3,210.1 347.8,210.1 348.3,210.1 348.8,210.2 349.3,210.2 349.8,210.2 350.3,210.3 350.8,210.3 351.3,210.3 351.8,210.3 352.3,210.4 352.8,210.4 353.3,210.4 353.8,210.4 354.3,210.4 354.8,210.5 355.3,210.5 355.8,210.5 356.3,210.5 356.8,210.5 357.3,210.5 357.8,210.5 358.3,210.5 358.8,210.5 359.3,210.5 359.8,210.5 L359.8,210.6" fill="#a3dcf7" stroke="#1f8fe0" stroke-width="1.05" stroke-linejoin="round"/><path d="M316.8,210.6 L316.8,210.5 317.3,210.5 317.8,210.5 318.3,210.5 318.8,210.5 319.3,210.5 319.8,210.5 320.3,210.5 320.8,210.5 321.3,210.4 321.8,210.4 322.3,210.4 322.8,210.4 323.3,210.3 323.8,210.3 324.3,210.3 324.8,210.2 325.3,210.2 325.8,210.2 326.3,210.1 326.8,210.1 327.3,210 327.8,210 328.3,209.9 328.8,209.8 329.3,209.8 329.8,209.7 330.3,209.6 330.8,209.5 331.3,209.5 331.8,209.4 332.3,209.3 332.8,209.2 333.3,209.1 333.8,209 334.3,208.9 334.8,208.7 335.3,208.6 335.8,208.5 336.3,208.4 336.8,208.3 337.3,208.2 337.8,208 338.3,207.9 338.8,207.8 339.3,207.6 339.8,207.5 340.3,207.4 340.8,207.3 341.3,207.2 341.8,207 342.3,206.9 342.8,206.8 343.3,206.7 343.8,206.6 344.3,206.5 344.8,206.4 345.3,206.4 345.8,206.3 346.3,206.2 346.8,206.2 347.3,206.1 347.8,206.1 348.3,206 348.8,206 349.3,206 349.8,206 350.3,206 350.8,206 351.3,206 351.8,206.1 352.3,206.1 352.8,206.2 353.3,206.2 353.8,206.3 354.3,206.4 354.8,206.5 355.3,206.6 355.8,206.7 356.3,206.8 356.8,206.9 357.3,207 357.8,207.1 358.3,207.2 358.8,207.3 359.3,207.4 359.8,207.6 360.3,207.7 360.8,207.8 361.3,208 361.8,208.1 362.3,208.2 362.8,208.3 363.3,208.4 363.8,208.6 364.3,208.7 364.8,208.8 365.3,208.9 365.8,209 366.3,209.1 366.8,209.2 367.3,209.3 367.8,209.4 368.3,209.5 368.8,209.6 369.3,209.6 369.8,209.7 370.3,209.8 370.8,209.9 371.3,209.9 371.8,210 372.3,210 372.8,210.1 373.3,210.1 373.8,210.2 374.3,210.2 374.8,210.3 375.3,210.3 375.8,210.3 376.3,210.3 376.8,210.4 377.3,210.4 377.8,210.4 378.3,210.4 378.8,210.5 379.3,210.5 379.8,210.5 380.3,210.5 380.8,210.5 381.3,210.5 381.8,210.5 382.3,210.5 L382.3,210.6" fill="#a6fb3e" stroke="#8ee82c" stroke-width="1.05" stroke-linejoin="round"/><rect x="235" y="210.6" width="162.2" height="1.8" fill="#a6fb3e"/><path d="M236 211h0M236.7 212h0M237.4 212h0M238.2 210.1h0M238.9 211.4h0M239.6 210h0M240.3 212.1h0M241.1 211.3h0M241.8 210.7h0M242.5 209.1h0M243.2 210.6h0M243.9 209.5h0M244.7 211h0M245.4 210h0M246.1 209.1h0M246.8 210.8h0M247.6 210.5h0M248.3 208.9h0M249 210.6h0M249.7 208.9h0M250.4 208.7h0M251.2 209h0M251.9 207.8h0M252.6 208h0M253.3 208.1h0M254.1 209.7h0M254.8 209.5h0M255.5 207.3h0M256.2 209.1h0M257 207.1h0M257.7 207.3h0M258.4 207.5h0M259.1 206.5h0M259.8 208.5h0M260.6 205.7h0M261.3 203.7h0M262 206h0M262.7 203.6h0M263.5 203.3h0M264.2 199.8h0M264.9 203.7h0M265.6 202.9h0M266.3 202.4h0M267.1 202h0M267.8 202.2h0M268.5 199.7h0M269.2 200.2h0M270 197.8h0M270.7 197.6h0M271.4 198.5h0M272.1 197.1h0M272.8 194.5h0M273.6 195.7h0M274.3 194.3h0M275 192.9h0M275.7 193.4h0M276.5 191.7h0M277.2 189.6h0M277.9 189.2h0M278.6 191.4h0M279.3 186.8h0M280.1 187.7h0M280.8 187.1h0M281.5 185.9h0M282.2 182.6h0M283 182.2h0M283.7 181.3h0M284.4 180.5h0M285.1 177.4h0M285.9 175.2h0M286.6 176h0M287.3 174.4h0M288 171.9h0M288.7 169h0M289.5 168.2h0M290.2 165.9h0M290.9 164.7h0M291.6 160.3h0M292.4 159.8h0M293.1 157.4h0M293.8 154.2h0M294.5 153.5h0M295.2 151h0M296 148.2h0M296.7 146.8h0M297.4 142.6h0M298.1 141.9h0M298.9 140.4h0M299.6 138.2h0M300.3 137.1h0M301 132.6h0M301.7 130.4h0M302.5 130.5h0M303.2 129h0M303.9 129.1h0M304.6 126h0M305.4 123h0M306.1 123.5h0M306.8 120.3h0M307.5 118.4h0M308.2 121.8h0M309 118.4h0M309.7 118h0M310.4 117.3h0M311.1 118.2h0M311.9 116.1h0M312.6 116.8h0M313.3 114.3h0M314 114h0M314.8 117.3h0M315.5 117.6h0M316.2 116.8h0M316.9 116.9h0M317.6 117.2h0M318.4 116.8h0M319.1 119.8h0M319.8 119.4h0M320.5 120h0M321.3 120.7h0M322 122.5h0M322.7 123.1h0M323.4 124.6h0M324.1 123.9h0M324.9 127.2h0M325.6 130.7h0M326.3 129.4h0M327 131.9h0M327.8 135.4h0M328.5 138.1h0M329.2 140.4h0M329.9 140.7h0M330.6 145.7h0M331.4 146.4h0M332.1 149.3h0M332.8 153.3h0M333.5 155h0M334.3 158.7h0M335 163.7h0M335.7 163.5h0M336.4 165.8h0M337.1 166.3h0M337.9 168.8h0M338.6 170.6h0M339.3 173.4h0M340 174.8h0M340.8 177.2h0M341.5 179.5h0M342.2 180.3h0M342.9 181.5h0M343.7 183.2h0M344.4 186.7h0M345.1 187.8h0M345.8 190.2h0M346.5 191.5h0M347.3 191.2h0M348 193.4h0M348.7 192.2h0M349.4 197.3h0M350.2 197.1h0M350.9 196.6h0M351.6 196.5h0M352.3 199h0M353 197.4h0M353.8 199.4h0M354.5 201.8h0M355.2 201.7h0M355.9 201.7h0M356.7 203.9h0M357.4 202.3h0M358.1 204.4h0M358.8 204.1h0M359.5 204.3h0M360.3 206.2h0M361 205.1h0M361.7 208.8h0M362.4 206.5h0M363.2 209.7h0M363.9 206.6h0M364.6 208.7h0M365.3 207h0M366 207h0M366.8 208.9h0M367.5 209.6h0M368.2 207.7h0M368.9 210.6h0M369.7 208.5h0M370.4 209.7h0M371.1 210.2h0M371.8 210.5h0M372.6 208h0M373.3 211.9h0M374 210.9h0M374.7 209.9h0M375.4 209.3h0M376.2 208.7h0M376.9 209.2h0M377.6 211.4h0M378.3 210.5h0M379.1 209.7h0M379.8 210.4h0M380.5 212.8h0M381.2 210.7h0M381.9 210.5h0M382.7 212.7h0M383.4 211.8h0M384.1 211.4h0M384.8 210.8h0M385.6 209.8h0M386.3 210.2h0M387 211.1h0M387.7 211.4h0M388.4 212.1h0M389.2 212.3h0M389.9 212h0M390.6 212.1h0M391.3 210.7h0M392.1 209.5h0M392.8 211.3h0M393.5 210.9h0M394.2 211.2h0M394.9 211.7h0M395.7 210.6h0M396.4 210.8h0" stroke="#000" stroke-width="2.2" stroke-linecap="round" fill="none"/><polyline points="236,211.5 237,211.4 238,211.3 239,211.1 240,211 241,210.8 242,210.7 243,210.5 244,210.3 245,210.2 246,210 247,209.8 248,209.6 249,209.4 250,209.1 251,208.9 252,208.6 253,208.3 254,208.1 255,207.8 256,207.4 257,207.1 258,206.7 259,206.3 260,205.8 261,205.2 262,204.6 263,203.9 264,203.2 265,202.5 266,201.7 267,201 268,200.2 269,199.4 270,198.6 271,197.7 272,196.8 273,195.8 274,194.8 275,193.8 276,192.7 277,191.5 278,190.3 279,189 280,187.6 281,186.1 282,184.4 283,182.5 284,180.5 285,178.4 286,176.2 287,173.9 288,171.5 289,169 290,166.3 291,163.5 292,160.7 293,157.8 294,154.8 295,151.7 296,148.6 297,145.4 298,142.4 299,139.5 300,136.8 301,134 302,131.4 303,128.9 304,126.6 305,124.6 306,122.7 307,120.9 308,119.3 309,118 310,117 311,116.3 312,115.7 313,115.4 314,115.5 315,115.8 316,116.2 317,116.7 318,117.3 319,118 320,118.9 321,120 322,121.4 323,123 324,124.9 325,127 326,129.2 327,131.9 328,135.3 329,139 330,142.8 331,146.4 332,149.9 333,153.4 334,156.9 335,160.3 336,163.6 337,166.8 338,170 339,173 340,175.9 341,178.5 342,180.9 343,183.3 344,185.4 345,187.5 346,189.4 347,191.1 348,192.7 349,194.2 350,195.6 351,197 352,198.2 353,199.4 354,200.4 355,201.4 356,202.3 357,203.2 358,204 359,204.8 360,205.5 361,206.2 362,206.9 363,207.4 364,207.8 365,208.2 366,208.5 367,208.8 368,209 369,209.3 370,209.5 371,209.7 372,209.9 373,210.1 374,210.3 375,210.4 376,210.6 377,210.7 378,210.8 379,210.9 380,211 381,211.1 382,211.2 383,211.3 384,211.4 385,211.4 386,211.5 387,211.6 388,211.7 389,211.7 390,211.8 391,211.8 392,211.9 393,211.9 394,212 395,212 396,212" fill="none" stroke="#ff0000" stroke-width="1.1" stroke-linejoin="round"/></g><text x="237.2" y="123.6" font-size="10.6" font-weight="bold" fill="#000" stroke="#000" stroke-width="0.3" textLength="28.7" lengthAdjust="spacingAndGlyphs">Cr 2p</text><text x="339.9" y="136.6" font-size="10.3" fill="#161616" stroke="#161616" stroke-width="0.15" textLength="10.7" lengthAdjust="spacingAndGlyphs">Cr</text><text x="351.4" y="133.3" font-size="10.3" fill="#161616" stroke="#161616" stroke-width="0.15" textLength="14.1" lengthAdjust="spacingAndGlyphs">+3</text><text x="339.9" y="149.8" font-size="10.3" fill="#161616" stroke="#161616" stroke-width="0.15" textLength="26.5" lengthAdjust="spacingAndGlyphs">oxide</text><line x1="337.6" y1="147.8" x2="323.8" y2="162.9" stroke="#222" stroke-width="1"/><text x="250" y="164.2" font-size="10.3" fill="#161616" stroke="#161616" stroke-width="0.15" textLength="10.7" lengthAdjust="spacingAndGlyphs">Cr</text><text x="261.3" y="158.9" font-size="10.3" fill="#161616" stroke="#161616" stroke-width="0.15" textLength="13.9" lengthAdjust="spacingAndGlyphs">+3</text><text x="243.6" y="176.6" font-size="10.3" fill="#161616" stroke="#161616" stroke-width="0.15" textLength="37.4" lengthAdjust="spacingAndGlyphs">hydrox.</text><line x1="281" y1="181.9" x2="291.7" y2="191" stroke="#222" stroke-width="1"/><text x="339.9" y="182.2" font-size="10.3" fill="#161616" stroke="#161616" stroke-width="0.15" textLength="10.7" lengthAdjust="spacingAndGlyphs">Cr</text><text x="351.1" y="178.4" font-size="10.3" fill="#161616" stroke="#161616" stroke-width="0.15" textLength="6.4" lengthAdjust="spacingAndGlyphs">0</text><text x="361.3" y="182.2" font-size="10.3" fill="#161616" stroke="#161616" stroke-width="0.15" textLength="13" lengthAdjust="spacingAndGlyphs">2p</text><text x="374.3" y="183.7" font-size="10.3" fill="#161616" stroke="#161616" stroke-width="0.15" textLength="15.6" lengthAdjust="spacingAndGlyphs">3/2</text><line x1="357.7" y1="185.3" x2="347.4" y2="209.4" stroke="#222" stroke-width="1"/><g clip-path="url(#c12)"><path d="M398,207.2 L398,207 398.5,206.9 399,206.9 399.5,206.9 400,206.9 400.5,206.9 401,206.8 401.5,206.8 402,206.8 402.5,206.8 403,206.7 403.5,206.7 404,206.6 404.5,206.6 405,206.5 405.5,206.5 406,206.4 406.5,206.4 407,206.3 407.5,206.2 408,206.1 408.5,206 409,205.9 409.5,205.8 410,205.7 410.5,205.6 411,205.5 411.5,205.4 412,205.2 412.5,205.1 413,204.9 413.5,204.7 414,204.6 414.5,204.4 415,204.2 415.5,204 416,203.7 416.5,203.5 417,203.3 417.5,203 418,202.8 418.5,202.5 419,202.2 419.5,201.9 420,201.7 420.5,201.4 421,201.1 421.5,200.8 422,200.4 422.5,200.1 423,199.8 423.5,199.5 424,199.2 424.5,198.8 425,198.5 425.5,198.2 426,197.9 426.5,197.6 427,197.3 427.5,197 428,196.7 428.5,196.4 429,196.1 429.5,195.9 430,195.7 430.5,195.4 431,195.2 431.5,195 432,194.9 432.5,194.7 433,194.6 433.5,194.5 434,194.4 434.5,194.3 435,194.3 435.5,194.3 436,194.3 436.5,194.4 437,194.4 437.5,194.5 438,194.6 438.5,194.8 439,195 439.5,195.1 440,195.4 440.5,195.6 441,195.9 441.5,196.1 442,196.4 442.5,196.7 443,197 443.5,197.3 444,197.7 444.5,198 445,198.3 445.5,198.7 446,199 446.5,199.4 447,199.7 447.5,200.1 448,200.4 448.5,200.8 449,201.1 449.5,201.4 450,201.7 450.5,202 451,202.3 451.5,202.6 452,202.9 452.5,203.2 453,203.4 453.5,203.7 454,203.9 454.5,204.1 455,204.4 455.5,204.6 456,204.8 456.5,204.9 457,205.1 457.5,205.3 458,205.4 458.5,205.6 459,205.7 459.5,205.8 460,205.9 460.5,206 461,206.1 461.5,206.2 462,206.3 462.5,206.4 463,206.4 463.5,206.5 464,206.6 464.5,206.6 465,206.7 465.5,206.7 466,206.7 466.5,206.8 467,206.8 467.5,206.8 468,206.9 468.5,206.9 469,206.9 469.5,206.9 470,207 470.5,207 471,207 471.5,207 472,207 472.5,207 473,207 473.5,207 474,207 474.5,207 475,207.1 475.5,207.1 476,207.1 476.5,207.1 477,207.1 477.5,207.1 478,207.1 478.5,207.1 479,207.1 479.5,207.1 480,207.1 480.5,207.1 481,207.1 481.5,207.1 482,207.1 482.5,207.1 483,207.1 483.5,207.1 484,207.1 484.5,207.1 485,207.1 485.5,207.1 486,207.1 486.5,207.1 487,207.1 487.5,207.1 488,207.1 488.5,207.1 489,207.1 489.5,207.1 490,207.1 490.5,207.1 491,207.1 491.5,207.1 492,207.1 492.5,207.1 493,207.1 493.5,207.1 494,207.1 494.5,207.1 560,207.2 L560,207.2" fill="#a3dcf7" stroke="#1f8fe0" stroke-width="1.05" stroke-linejoin="round"/><path d="M435,207.2 L435,207.1 435.5,207.1 436,207.1 436.5,207.1 437,207.1 437.5,207 438,207 438.5,207 439,206.9 439.5,206.8 440,206.8 440.5,206.7 441,206.6 441.5,206.4 442,206.3 442.5,206.1 443,206 443.5,205.7 444,205.5 444.5,205.2 445,204.9 445.5,204.6 446,204.2 446.5,203.7 447,203.3 447.5,202.8 448,202.2 448.5,201.6 449,200.9 449.5,200.2 450,199.4 450.5,198.6 451,197.8 451.5,196.9 452,195.9 452.5,195 453,194 453.5,193 454,192 454.5,191 455,190 455.5,189 456,188 456.5,187.1 457,186.2 457.5,185.3 458,184.6 458.5,183.9 459,183.3 459.5,182.7 460,182.3 460.5,182 461,181.7 461.5,181.6 462,181.6 462.5,181.7 463,181.9 463.5,182.2 464,182.6 464.5,183.1 465,183.7 465.5,184.4 466,185.2 466.5,186 467,186.9 467.5,187.8 468,188.8 468.5,189.8 469,190.8 469.5,191.8 470,192.8 470.5,193.8 471,194.8 471.5,195.8 472,196.7 472.5,197.6 473,198.4 473.5,199.3 474,200 474.5,200.8 475,201.4 475.5,202.1 476,202.6 476.5,203.2 477,203.7 477.5,204.1 478,204.5 478.5,204.8 479,205.2 479.5,205.4 480,205.7 480.5,205.9 481,206.1 481.5,206.3 482,206.4 482.5,206.5 483,206.7 483.5,206.7 484,206.8 484.5,206.9 485,206.9 485.5,207 486,207 486.5,207.1 487,207.1 487.5,207.1 488,207.1 488.5,207.1 L488.5,207.2" fill="#ff8282" stroke="#ff1a1a" stroke-width="1.05" stroke-linejoin="round"/><path d="M461,207.2 L461,207.1 461.5,207.1 462,207.1 462.5,207.1 463,207.1 463.5,207 464,207 464.5,207 465,206.9 465.5,206.9 466,206.8 466.5,206.7 467,206.6 467.5,206.5 468,206.4 468.5,206.3 469,206.1 469.5,205.9 470,205.7 470.5,205.5 471,205.2 471.5,204.9 472,204.5 472.5,204.1 473,203.7 473.5,203.2 474,202.7 474.5,202.1 475,201.5 475.5,200.8 476,200 476.5,199.2 477,198.3 477.5,197.4 478,196.4 478.5,195.3 479,194.2 479.5,193 480,191.7 480.5,190.4 481,189.1 481.5,187.7 482,186.3 482.5,184.9 483,183.5 483.5,182 484,180.6 484.5,179.1 485,177.7 485.5,176.4 486,175 486.5,173.8 487,172.6 487.5,171.5 488,170.5 488.5,169.6 489,168.7 489.5,168.1 490,167.5 490.5,167.1 491,166.8 491.5,166.6 492,166.6 492.5,166.7 493,167 493.5,167.4 494,167.9 494.5,168.6 495,169.4 495.5,170.3 496,171.3 496.5,172.4 497,173.5 497.5,174.8 498,176.1 498.5,177.5 499,178.9 499.5,180.3 500,181.7 500.5,183.2 501,184.6 501.5,186.1 502,187.5 502.5,188.8 503,190.2 503.5,191.5 504,192.7 504.5,193.9 505,195.1 505.5,196.1 506,197.2 506.5,198.1 507,199 507.5,199.8 508,200.6 508.5,201.3 509,202 509.5,202.6 510,203.1 510.5,203.6 511,204 511.5,204.4 512,204.8 512.5,205.1 513,205.4 513.5,205.6 514,205.9 514.5,206.1 515,206.2 515.5,206.4 516,206.5 516.5,206.6 517,206.7 517.5,206.8 518,206.9 518.5,206.9 519,207 519.5,207 520,207 520.5,207.1 521,207.1 521.5,207.1 522,207.1 522.5,207.1 L522.5,207.2" fill="#ff8282" stroke="#ff1a1a" stroke-width="1.05" stroke-linejoin="round"/><path d="M433,207.2 L433,207.1 433.5,207.1 434,207.1 434.5,207.1 435,207 435.5,206.9 436,206.8 436.5,206.7 437,206.5 437.5,206.3 438,206 438.5,205.6 439,205.2 439.5,204.7 440,204 440.5,203.3 441,202.4 441.5,201.4 442,200.2 442.5,198.9 443,197.4 443.5,195.8 444,194 444.5,192.2 445,190.3 445.5,188.3 446,186.3 446.5,184.4 447,182.5 447.5,180.8 448,179.2 448.5,177.9 449,176.8 449.5,176 450,175.5 450.5,175.3 451,175.5 451.5,176 452,176.8 452.5,177.9 453,179.2 453.5,180.8 454,182.5 454.5,184.4 455,186.3 455.5,188.3 456,190.3 456.5,192.2 457,194 457.5,195.8 458,197.4 458.5,198.9 459,200.2 459.5,201.4 460,202.4 460.5,203.3 461,204 461.5,204.7 462,205.2 462.5,205.6 463,206 463.5,206.3 464,206.5 464.5,206.7 465,206.8 465.5,206.9 466,207 466.5,207.1 467,207.1 467.5,207.1 468,207.1 L468,207.2" fill="#a3a3f7" stroke="#2222ee" stroke-width="1.05" stroke-linejoin="round"/><path d="M462,207.2 L462,207.2 462.5,207.1 463,207.1 463.5,207.1 464,207 464.5,207 465,206.9 465.5,206.8 466,206.6 466.5,206.4 467,206.2 467.5,205.9 468,205.6 468.5,205.2 469,204.6 469.5,204 470,203.3 470.5,202.4 471,201.4 471.5,200.3 472,199 472.5,197.5 473,195.9 473.5,194.1 474,192.1 474.5,190.1 475,187.9 475.5,185.6 476,183.3 476.5,181 477,178.6 477.5,176.4 478,174.3 478.5,172.3 479,170.6 479.5,169.1 480,167.9 480.5,167 481,166.5 481.5,166.3 482,166.5 482.5,167 483,167.9 483.5,169.1 484,170.6 484.5,172.3 485,174.3 485.5,176.4 486,178.6 486.5,181 487,183.3 487.5,185.6 488,187.9 488.5,190.1 489,192.1 489.5,194.1 490,195.9 490.5,197.5 491,199 491.5,200.3 492,201.4 492.5,202.4 493,203.3 493.5,204 494,204.6 494.5,205.2 495,205.6 495.5,205.9 496,206.2 496.5,206.4 497,206.6 497.5,206.8 498,206.9 498.5,207 499,207 499.5,207.1 500,207.1 500.5,207.1 501,207.2 L501,207.2" fill="#a3a3f7" stroke="#2222ee" stroke-width="1.05" stroke-linejoin="round"/><path d="M454.5,207.2 L454.5,207.1 455,207.1 455.5,207.1 456,207.1 456.5,207.1 457,207.1 457.5,207 458,207 458.5,207 459,206.9 459.5,206.9 460,206.8 460.5,206.7 461,206.6 461.5,206.6 462,206.5 462.5,206.3 463,206.2 463.5,206.1 464,205.9 464.5,205.7 465,205.5 465.5,205.3 466,205 466.5,204.8 467,204.5 467.5,204.2 468,203.8 468.5,203.5 469,203.1 469.5,202.7 470,202.3 470.5,201.9 471,201.4 471.5,200.9 472,200.5 472.5,200 473,199.5 473.5,199 474,198.5 474.5,198 475,197.5 475.5,197.1 476,196.6 476.5,196.2 477,195.8 477.5,195.5 478,195.2 478.5,194.9 479,194.6 479.5,194.4 480,194.3 480.5,194.2 481,194.1 481.5,194.1 482,194.1 482.5,194.2 483,194.4 483.5,194.6 484,194.8 484.5,195.1 485,195.4 485.5,195.8 486,196.1 486.5,196.6 487,197 487.5,197.4 488,197.9 488.5,198.4 489,198.9 489.5,199.4 490,199.9 490.5,200.4 491,200.8 491.5,201.3 492,201.8 492.5,202.2 493,202.6 493.5,203 494,203.4 494.5,203.8 495,204.1 495.5,204.4 496,204.7 496.5,205 497,205.2 497.5,205.5 498,205.7 498.5,205.8 499,206 499.5,206.2 500,206.3 500.5,206.4 501,206.5 501.5,206.6 502,206.7 502.5,206.8 503,206.8 503.5,206.9 504,206.9 504.5,207 505,207 505.5,207.1 506,207.1 506.5,207.1 507,207.1 507.5,207.1 508,207.1 L508,207.2" fill="#fcd596" stroke="#f5ad42" stroke-width="1.05" stroke-linejoin="round"/><path d="M484,207.2 L484,207.1 484.5,207.1 485,207.1 485.5,207.1 486,207.1 486.5,207.1 487,207 487.5,207 488,206.9 488.5,206.9 489,206.8 489.5,206.8 490,206.7 490.5,206.6 491,206.5 491.5,206.4 492,206.2 492.5,206.1 493,205.9 493.5,205.7 494,205.4 494.5,205.2 495,204.9 495.5,204.6 496,204.2 496.5,203.8 497,203.4 497.5,203 498,202.5 498.5,201.9 499,201.4 499.5,200.8 500,200.2 500.5,199.5 501,198.8 501.5,198.1 502,197.3 502.5,196.6 503,195.8 503.5,195 504,194.2 504.5,193.4 505,192.6 505.5,191.8 506,191 506.5,190.3 507,189.6 507.5,189 508,188.4 508.5,187.8 509,187.3 509.5,186.9 510,186.5 510.5,186.3 511,186.1 511.5,185.9 512,185.9 512.5,185.9 513,186.1 513.5,186.3 514,186.5 514.5,186.9 515,187.3 515.5,187.8 516,188.4 516.5,189 517,189.6 517.5,190.3 518,191 518.5,191.8 519,192.6 519.5,193.4 520,194.2 520.5,195 521,195.8 521.5,196.6 522,197.3 522.5,198.1 523,198.8 523.5,199.5 524,200.2 524.5,200.8 525,201.4 525.5,201.9 526,202.5 526.5,203 527,203.4 527.5,203.8 528,204.2 528.5,204.6 529,204.9 529.5,205.2 530,205.4 530.5,205.7 531,205.9 531.5,206.1 532,206.2 532.5,206.4 533,206.5 533.5,206.6 534,206.7 534.5,206.8 535,206.8 535.5,206.9 536,206.9 536.5,207 537,207 537.5,207.1 538,207.1 538.5,207.1 539,207.1 539.5,207.1 540,207.1 L540,207.2" fill="#fcd596" stroke="#f5ad42" stroke-width="1.05" stroke-linejoin="round"/><path d="M485,207.2 L485,207.2 485.5,207.1 486,207 486.5,206.8 487,206.5 487.5,206 488,205.2 488.5,204.1 489,202.6 489.5,200.6 490,198.1 490.5,195.3 491,192.2 491.5,189.3 492,186.8 492.5,184.9 493,184 493.5,184.1 494,185.2 494.5,187.2 495,189.9 495.5,192.9 496,195.8 496.5,198.6 497,201 497.5,202.9 498,204.4 498.5,205.4 499,206.1 499.5,206.6 500,206.9 500.5,207 501,207.1 501.5,207.2 L501.5,207.2" fill="#a6fb3e" stroke="#8ee82c" stroke-width="1.05" stroke-linejoin="round"/><path d="M514.5,207.2 L514.5,207.2 515,207.1 515.5,207 516,206.9 516.5,206.6 517,206.2 517.5,205.5 518,204.5 518.5,203.1 519,201.1 519.5,198.5 520,195.2 520.5,191.3 521,187 521.5,182.4 522,177.9 522.5,173.9 523,170.8 523.5,169 524,168.5 524.5,169.6 525,171.9 525.5,175.4 526,179.6 526.5,184.2 527,188.7 527.5,192.9 528,196.6 528.5,199.6 529,202 529.5,203.7 530,205 530.5,205.8 531,206.4 531.5,206.7 532,207 532.5,207.1 533,207.1 533.5,207.2 L533.5,207.2" fill="#a6fb3e" stroke="#8ee82c" stroke-width="1.05" stroke-linejoin="round"/><rect x="398" y="207.2" width="162" height="1.8" fill="#a6fb3e"/><path d="M399 206.4h0M399.5 206.4h0M400 205.2h0M400.5 206.4h0M401 205.3h0M401.5 204.2h0M401.9 205.3h0M402.4 207.3h0M402.9 204.1h0M403.4 206.1h0M403.9 206.2h0M404.4 206.2h0M404.9 203.3h0M405.4 206.5h0M405.9 204.1h0M406.4 203.5h0M406.8 203.4h0M407.3 204.2h0M407.8 203.4h0M408.3 203h0M408.8 204.6h0M409.3 202h0M409.8 201.4h0M410.3 203.5h0M410.8 203.2h0M411.3 203.5h0M411.7 200.7h0M412.2 203.1h0M412.7 202.2h0M413.2 203.6h0M413.7 199.8h0M414.2 201.4h0M414.7 200.6h0M415.2 198.8h0M415.7 199.7h0M416.2 201.7h0M416.6 199.6h0M417.1 199.1h0M417.6 200.8h0M418.1 200.7h0M418.6 200.5h0M419.1 198.2h0M419.6 198.8h0M420.1 199.9h0M420.6 197.6h0M421.1 197.3h0M421.5 198.9h0M422 199.5h0M422.5 196h0M423 194h0M423.5 195.1h0M424 195.3h0M424.5 196h0M425 196.6h0M425.5 195.4h0M426 194.4h0M426.4 195.1h0M426.9 193.4h0M427.4 194.2h0M427.9 193.1h0M428.4 196.7h0M428.9 194.1h0M429.4 191.8h0M429.9 191.2h0M430.4 191.5h0M430.9 189.6h0M431.3 190.3h0M431.8 189.9h0M432.3 191.4h0M432.8 189.4h0M433.3 188.5h0M433.8 187.3h0M434.3 187.1h0M434.8 187.9h0M435.3 187.2h0M435.8 188.3h0M436.2 185.6h0M436.7 187h0M437.2 185.5h0M437.7 184.6h0M438.2 181.5h0M438.7 181.7h0M439.2 183.5h0M439.7 183.6h0M440.2 181.4h0M440.7 181.3h0M441.1 179.1h0M441.6 178.2h0M442.1 177h0M442.6 178h0M443.1 176.3h0M443.6 174.5h0M444.1 173.3h0M444.6 173.2h0M445.1 171.5h0M445.6 168.6h0M446 170h0M446.5 166.6h0M447 164.6h0M447.5 164.7h0M448 162.5h0M448.5 159.3h0M449 157.9h0M449.5 153.8h0M450 152.3h0M450.5 148.9h0M450.9 152.5h0M451.4 148.7h0M451.9 151.8h0M452.4 150.1h0M452.9 149.9h0M453.4 150.9h0M453.9 151.5h0M454.4 152h0M454.9 153.5h0M455.4 151.9h0M455.8 152.8h0M456.3 151.3h0M456.8 153.2h0M457.3 153h0M457.8 152.7h0M458.3 153.6h0M458.8 154.1h0M459.3 154.8h0M459.8 155.4h0M460.3 154.7h0M460.7 154.7h0M461.2 156.9h0M461.7 154.3h0M462.2 156h0M462.7 158.9h0M463.2 154.1h0M463.7 156.7h0M464.2 158.6h0M464.7 155.9h0M465.2 161h0M465.6 154.8h0M466.1 159.6h0M466.6 159.6h0M467.1 158.8h0M467.6 157.3h0M468.1 157.9h0M468.6 156.2h0M469.1 158.1h0M469.6 155.6h0M470.1 156.3h0M470.5 157.1h0M471 153.1h0M471.5 151.9h0M472 150h0M472.5 145.5h0M473 145.8h0M473.5 142.3h0M474 137.8h0M474.5 137.6h0M475 134.7h0M475.4 132.8h0M475.9 131.8h0M476.4 129.1h0M476.9 129.5h0M477.4 126.1h0M477.9 126.6h0M478.4 123.8h0M478.9 123.4h0M479.4 120.5h0M479.9 119.5h0M480.3 117.9h0M480.8 119.6h0M481.3 120h0M481.8 121.4h0M482.3 120.4h0M482.8 119.2h0M483.3 118.6h0M483.8 119.4h0M484.3 119h0M484.8 121.7h0M485.2 122.5h0M485.7 122.1h0M486.2 124.1h0M486.7 128h0M487.2 127.6h0M487.7 127.7h0M488.2 130.1h0M488.7 128.6h0M489.2 128.8h0M489.7 128.2h0M490.1 125.7h0M490.6 128.3h0M491.1 125.1h0M491.6 125.3h0M492.1 124.9h0M492.6 127.1h0M493.1 127h0M493.6 128.2h0M494.1 127.3h0M494.6 130.7h0M495 130.9h0M495.5 135.2h0M496 137.6h0M496.5 139.5h0M497 144.3h0M497.5 144.7h0M498 147.3h0M498.5 149.3h0M499 151.3h0M499.5 154.8h0M499.9 156.7h0M500.4 155.3h0M500.9 159.4h0M501.4 159.9h0M501.9 161.5h0M502.4 161.9h0M502.9 160.8h0M503.4 161.8h0M503.9 166.2h0M504.4 165.1h0M504.8 163.9h0M505.3 166.9h0M505.8 166.8h0M506.3 165.8h0M506.8 166h0M507.3 167.5h0M507.8 170.4h0M508.3 170.7h0M508.8 171h0M509.3 172.3h0M509.7 173.2h0M510.2 170.5h0M510.7 173.2h0M511.2 173.1h0M511.7 173.1h0M512.2 174.4h0M512.7 175.4h0M513.2 175.7h0M513.7 174.7h0M514.2 176.2h0M514.6 179.6h0M515.1 176.2h0M515.6 175.8h0M516.1 178.5h0M516.6 179.2h0M517.1 179.3h0M517.6 177.6h0M518.1 180.2h0M518.6 177.8h0M519.1 176.9h0M519.5 176.7h0M520 176.3h0M520.5 176h0M521 174.6h0M521.5 171.5h0M522 169h0M522.5 164.3h0M523 162.5h0M523.5 157.9h0M524 156.2h0M524.4 158.3h0M524.9 156.7h0M525.4 160.7h0M525.9 164.1h0M526.4 166.9h0M526.9 170.8h0M527.4 177.2h0M527.9 176.7h0M528.4 185h0M528.9 191.4h0M529.3 193h0M529.8 196.2h0M530.3 198.8h0M530.8 201.4h0M531.3 198.9h0M531.8 201.3h0M532.3 201.7h0M532.8 203.1h0M533.3 202.9h0M533.8 203.8h0M534.2 202.8h0M534.7 203.5h0M535.2 202.9h0M535.7 203.1h0M536.2 203.8h0M536.7 204h0M537.2 202.9h0M537.7 206.3h0M538.2 204.3h0M538.7 203h0M539.1 206h0M539.6 203.9h0M540.1 205.5h0M540.6 205h0M541.1 205.4h0M541.6 205.4h0M542.1 204.6h0M542.6 205.4h0M543.1 207.9h0M543.6 202.8h0M544 205.7h0M544.5 206.2h0M545 204.5h0M545.5 204.2h0M546 208.5h0M546.5 205.5h0M547 208.5h0M547.5 206.7h0M548 206.2h0M548.5 206.8h0M548.9 207.1h0M549.4 207.8h0M549.9 207h0M550.4 206.8h0M550.9 206.9h0M551.4 208.4h0M551.9 207.9h0M552.4 205.9h0M552.9 206.5h0M553.4 207.8h0M553.8 206.8h0M554.3 207.2h0M554.8 206.7h0M555.3 207.6h0M555.8 208.6h0M556.3 209.3h0M556.8 208.3h0M557.3 210.8h0M557.8 208.3h0M558.3 212.3h0M558.7 209.7h0M559.2 209.1h0" stroke="#000" stroke-width="2.2" stroke-linecap="round" fill="none"/><polyline points="399,206.5 400,206 401,205.6 402,205.2 403,204.9 404,204.5 405,204.2 406,203.9 407,203.6 408,203.3 409,203 410,202.6 411,202.2 412,201.9 413,201.5 414,201.2 415,200.8 416,200.4 417,200 418,199.6 419,199.2 420,198.7 421,198.2 422,197.7 423,197.1 424,196.5 425,195.9 426,195.2 427,194.5 428,193.8 429,193.1 430,192.3 431,191.5 432,190.6 433,189.7 434,188.7 435,187.7 436,186.6 437,185.4 438,184.2 439,182.9 440,181.4 441,179.8 442,178 443,176.1 444,173.9 445,171.3 446,168.1 447,164.7 448,161.3 449,157.2 450,152.9 451,151 452,151 453,151.1 454,151.2 455,151.4 456,151.8 457,152.5 458,153.4 459,154.3 460,155.1 461,155.8 462,156.5 463,157.2 464,157.7 465,157.9 466,157.9 467,157.7 468,157.5 469,157.1 470,156.7 471,154.5 472,149.9 473,144.4 474,139.5 475,135.4 476,131.5 477,128.1 478,125 479,122.1 480,119.8 481,118.9 482,118.9 483,118.9 484,118.9 485,120.6 486,124.1 487,126.9 488,128.4 489,129.2 490,128.3 491,126.7 492,125.8 493,126.9 494,129.2 495,132.5 496,137.1 497,141.8 498,146.7 499,151.7 500,155.6 501,158.3 502,160.5 503,162.5 504,164.2 505,165.9 506,167.5 507,169 508,170.4 509,171.6 510,172.8 511,173.9 512,174.9 513,175.8 514,176.7 515,177.4 516,178.1 517,178.7 518,179 519,178.3 520,176.5 521,173.9 522,167.8 523,161.3 524,158 525,158.6 526,164.8 527,172.3 528,180.8 529,190.1 530,196.9 531,199.7 532,201.6 533,202.6 534,203.2 535,203.6 536,203.9 537,204.2 538,204.5 539,204.7 540,204.9 541,205.1 542,205.3 543,205.4 544,205.6 545,205.7 546,205.9 547,206 548,206.2 549,206.3 550,206.5 551,206.7 552,207 553,207.3 554,207.6 555,207.8 556,208.1 557,208.3 558,208.4 559,208.5" fill="none" stroke="#ff0000" stroke-width="1.1" stroke-linejoin="round"/></g><text x="400.8" y="122.5" font-size="10.6" font-weight="bold" fill="#000" stroke="#000" stroke-width="0.3" textLength="32.5" lengthAdjust="spacingAndGlyphs">Mo 3d</text><text x="413.5" y="138.4" font-size="10.3" fill="#161616" stroke="#161616" stroke-width="0.15" textLength="14" lengthAdjust="spacingAndGlyphs">Mo</text><text x="428" y="134.5" font-size="10.3" fill="#161616" stroke="#161616" stroke-width="0.15" textLength="13.7" lengthAdjust="spacingAndGlyphs">+6</text><text x="414.2" y="151" font-size="10.3" fill="#161616" stroke="#161616" stroke-width="0.15" textLength="26.4" lengthAdjust="spacingAndGlyphs">oxide</text><line x1="438.7" y1="154.4" x2="446.5" y2="178.8" stroke="#222" stroke-width="1"/><text x="447.4" y="130.3" font-size="10.3" fill="#161616" stroke="#161616" stroke-width="0.15" textLength="14" lengthAdjust="spacingAndGlyphs">Mo</text><text x="462" y="125.6" font-size="10.3" fill="#161616" stroke="#161616" stroke-width="0.15" textLength="14.1" lengthAdjust="spacingAndGlyphs">+5</text><text x="448.6" y="141.8" font-size="10.3" fill="#161616" stroke="#161616" stroke-width="0.15" textLength="26.4" lengthAdjust="spacingAndGlyphs">oxide</text><line x1="461.8" y1="147.5" x2="461.8" y2="187.8" stroke="#222" stroke-width="1"/><text x="405.7" y="173.9" font-size="10.3" fill="#161616" stroke="#161616" stroke-width="0.15" textLength="14" lengthAdjust="spacingAndGlyphs">Mo</text><text x="420.2" y="170" font-size="10.3" fill="#161616" stroke="#161616" stroke-width="0.15" textLength="13.5" lengthAdjust="spacingAndGlyphs">+6</text><text x="401.1" y="186.5" font-size="10.3" fill="#161616" stroke="#161616" stroke-width="0.15" textLength="33" lengthAdjust="spacingAndGlyphs">hydrox</text><line x1="424.9" y1="186.7" x2="432.8" y2="201.5" stroke="#222" stroke-width="1"/><text x="501" y="132.6" font-size="10.3" fill="#161616" stroke="#161616" stroke-width="0.15" textLength="14" lengthAdjust="spacingAndGlyphs">Mo</text><text x="515.5" y="128.7" font-size="10.3" fill="#161616" stroke="#161616" stroke-width="0.15" textLength="13" lengthAdjust="spacingAndGlyphs">+4</text><text x="499.4" y="146" font-size="10.3" fill="#161616" stroke="#161616" stroke-width="0.15" textLength="26.8" lengthAdjust="spacingAndGlyphs">oxide</text><line x1="514" y1="148.7" x2="512.4" y2="179.7" stroke="#222" stroke-width="1"/><text x="530.1" y="162" font-size="10.3" fill="#161616" stroke="#161616" stroke-width="0.15" textLength="14" lengthAdjust="spacingAndGlyphs">Mo</text><text x="544.2" y="158.5" font-size="10.3" fill="#161616" stroke="#161616" stroke-width="0.15" textLength="4.9" lengthAdjust="spacingAndGlyphs">0</text><g clip-path="url(#c13)"><path d="M587,211 L587,210.9 587.5,210.9 588,210.9 588.5,210.9 589,210.8 589.5,210.8 590,210.7 590.5,210.7 591,210.6 591.5,210.5 592,210.4 592.5,210.2 593,210 593.5,209.8 594,209.6 594.5,209.3 595,208.9 595.5,208.5 596,208 596.5,207.4 597,206.8 597.5,206 598,205.2 598.5,204.2 599,203.1 599.5,202 600,200.6 600.5,199.2 601,197.6 601.5,195.8 602,193.9 602.5,191.9 603,189.8 603.5,187.5 604,185.2 604.5,182.7 605,180.1 605.5,177.5 606,174.9 606.5,172.3 607,169.6 607.5,167 608,164.5 608.5,162.1 609,159.9 609.5,157.8 610,155.9 610.5,154.2 611,152.7 611.5,151.6 612,150.7 612.5,150.1 613,149.8 613.5,149.9 614,150.2 614.5,150.8 615,151.8 615.5,153 616,154.5 616.5,156.2 617,158.2 617.5,160.3 618,162.6 618.5,165 619,167.6 619.5,170.1 620,172.8 620.5,175.4 621,178.1 621.5,180.7 622,183.2 622.5,185.6 623,188 623.5,190.2 624,192.3 624.5,194.3 625,196.2 625.5,197.9 626,199.5 626.5,200.9 627,202.2 627.5,203.4 628,204.4 628.5,205.4 629,206.2 629.5,206.9 630,207.5 630.5,208.1 631,208.6 631.5,209 632,209.3 632.5,209.6 633,209.9 633.5,210.1 634,210.3 634.5,210.4 635,210.5 635.5,210.6 636,210.7 636.5,210.8 637,210.8 637.5,210.9 638,210.9 638.5,210.9 639,210.9 639.5,210.9 L639.5,211" fill="#ff8282" stroke="#ff1a1a" stroke-width="1.05" stroke-linejoin="round"/><path d="M621,211 L621,210.9 621.5,210.9 622,210.9 622.5,210.9 623,210.9 623.5,210.8 624,210.8 624.5,210.7 625,210.6 625.5,210.6 626,210.5 626.5,210.3 627,210.2 627.5,210 628,209.8 628.5,209.6 629,209.3 629.5,209 630,208.6 630.5,208.1 631,207.6 631.5,207 632,206.3 632.5,205.6 633,204.7 633.5,203.7 634,202.6 634.5,201.3 635,199.9 635.5,198.4 636,196.7 636.5,194.8 637,192.8 637.5,190.6 638,188.2 638.5,185.7 639,183 639.5,180.1 640,177.1 640.5,173.9 641,170.6 641.5,167.2 642,163.7 642.5,160.1 643,156.4 643.5,152.7 644,149 644.5,145.4 645,141.8 645.5,138.4 646,135 646.5,131.8 647,128.9 647.5,126.1 648,123.7 648.5,121.5 649,119.6 649.5,118.1 650,116.9 650.5,116.1 651,115.7 651.5,115.6 652,116 652.5,116.7 653,117.8 653.5,119.3 654,121.1 654.5,123.2 655,125.6 655.5,128.3 656,131.2 656.5,134.4 657,137.7 657.5,141.1 658,144.7 658.5,148.3 659,152 659.5,155.7 660,159.3 660.5,162.9 661,166.5 661.5,169.9 662,173.3 662.5,176.5 663,179.5 663.5,182.4 664,185.2 664.5,187.7 665,190.1 665.5,192.4 666,194.4 666.5,196.3 667,198 667.5,199.6 668,201 668.5,202.3 669,203.5 669.5,204.5 670,205.4 670.5,206.2 671,206.9 671.5,207.5 672,208 672.5,208.5 673,208.9 673.5,209.2 674,209.5 674.5,209.8 675,210 675.5,210.2 676,210.3 676.5,210.4 677,210.5 677.5,210.6 678,210.7 678.5,210.8 679,210.8 679.5,210.8 680,210.9 680.5,210.9 681,210.9 681.5,210.9 L681.5,211" fill="#ff8282" stroke="#ff1a1a" stroke-width="1.05" stroke-linejoin="round"/><path d="M583,211 L583,208.8 583.5,208.6 584,208.4 584.5,208.1 585,207.9 585.5,207.6 586,207.4 586.5,207.1 587,206.8 587.5,206.5 588,206.2 588.5,205.9 589,205.6 589.5,205.3 590,205 590.5,204.7 591,204.3 591.5,204 592,203.7 592.5,203.5 593,203.2 593.5,202.9 594,202.7 594.5,202.5 595,202.2 595.5,202.1 596,201.9 596.5,201.7 597,201.6 597.5,201.5 598,201.5 598.5,201.4 599,201.4 599.5,201.4 600,201.5 600.5,201.5 601,201.6 601.5,201.7 602,201.9 602.5,202.1 603,202.2 603.5,202.5 604,202.7 604.5,202.9 605,203.2 605.5,203.5 606,203.7 606.5,204 607,204.3 607.5,204.7 608,205 608.5,205.3 609,205.6 609.5,205.9 610,206.2 610.5,206.5 611,206.8 611.5,207.1 612,207.4 612.5,207.6 613,207.9 613.5,208.1 614,208.4 614.5,208.6 615,208.8 615.5,209 616,209.2 616.5,209.3 617,209.5 617.5,209.6 618,209.8 618.5,209.9 619,210 619.5,210.1 620,210.2 620.5,210.3 621,210.4 621.5,210.5 622,210.5 622.5,210.6 623,210.6 623.5,210.7 624,210.7 624.5,210.8 625,210.8 625.5,210.8 626,210.9 626.5,210.9 627,210.9 627.5,210.9 628,210.9 628.5,210.9 629,210.9 723,211 L723,211" fill="#a3dcf7" stroke="#1f8fe0" stroke-width="1.05" stroke-linejoin="round"/><path d="M605.5,211 L605.5,210.9 606,210.9 606.5,210.9 607,210.9 607.5,210.9 608,210.9 608.5,210.9 609,210.8 609.5,210.8 610,210.8 610.5,210.7 611,210.7 611.5,210.6 612,210.6 612.5,210.5 613,210.4 613.5,210.4 614,210.3 614.5,210.2 615,210.1 615.5,209.9 616,209.8 616.5,209.7 617,209.5 617.5,209.3 618,209.1 618.5,208.9 619,208.7 619.5,208.4 620,208.2 620.5,207.9 621,207.6 621.5,207.3 622,207 622.5,206.6 623,206.2 623.5,205.8 624,205.4 624.5,205 625,204.6 625.5,204.2 626,203.7 626.5,203.3 627,202.8 627.5,202.3 628,201.9 628.5,201.4 629,201 629.5,200.5 630,200.1 630.5,199.7 631,199.3 631.5,198.9 632,198.6 632.5,198.2 633,197.9 633.5,197.7 634,197.4 634.5,197.2 635,197.1 635.5,196.9 636,196.9 636.5,196.8 637,196.8 637.5,196.8 638,196.9 638.5,197 639,197.2 639.5,197.4 640,197.6 640.5,197.9 641,198.2 641.5,198.5 642,198.8 642.5,199.2 643,199.6 643.5,200 644,200.4 644.5,200.9 645,201.3 645.5,201.8 646,202.3 646.5,202.7 647,203.2 647.5,203.6 648,204.1 648.5,204.5 649,204.9 649.5,205.4 650,205.8 650.5,206.2 651,206.5 651.5,206.9 652,207.2 652.5,207.5 653,207.8 653.5,208.1 654,208.4 654.5,208.6 655,208.9 655.5,209.1 656,209.3 656.5,209.5 657,209.6 657.5,209.8 658,209.9 658.5,210 659,210.2 659.5,210.3 660,210.3 660.5,210.4 661,210.5 661.5,210.6 662,210.6 662.5,210.7 663,210.7 663.5,210.8 664,210.8 664.5,210.8 665,210.9 665.5,210.9 666,210.9 666.5,210.9 667,210.9 667.5,210.9 668,210.9 L668,211" fill="#a3dcf7" stroke="#1f8fe0" stroke-width="1.05" stroke-linejoin="round"/><path d="M654.5,211 L654.5,211 655,210.9 655.5,210.8 656,210.6 656.5,210.4 657,209.9 657.5,209.3 658,208.5 658.5,207.4 659,206.2 659.5,204.9 660,203.7 660.5,202.7 661,202.1 661.5,201.9 662,202.3 662.5,203 663,204.1 663.5,205.4 664,206.7 664.5,207.9 665,208.8 665.5,209.6 666,210.1 666.5,210.5 667,210.7 667.5,210.9 668,210.9 668.5,211 L668.5,211" fill="#fcd596" stroke="#f5ad42" stroke-width="1.05" stroke-linejoin="round"/><path d="M691,211 L691,211 691.5,210.9 692,210.8 692.5,210.7 693,210.5 693.5,210.1 694,209.5 694.5,208.7 695,207.5 695.5,206 696,204.1 696.5,202 697,199.7 697.5,197.5 698,195.6 698.5,194.2 699,193.5 699.5,193.5 700,194.4 700.5,195.9 701,197.9 701.5,200.2 702,202.4 702.5,204.5 703,206.3 703.5,207.8 704,208.9 704.5,209.7 705,210.2 705.5,210.5 706,210.7 706.5,210.9 707,210.9 707.5,211 L707.5,211" fill="#fcd596" stroke="#f5ad42" stroke-width="1.05" stroke-linejoin="round"/><rect x="583" y="209.6" width="140" height="1.6" fill="#fcd596"/><path d="M561.5 210h0M562.2 207.2h0M562.9 210.4h0M563.6 210.8h0M564.3 212.9h0M565 208.9h0M565.6 212.8h0M566.3 210.2h0M567 211.3h0M567.7 207.3h0M568.4 210.5h0M569.1 209.9h0M569.8 211h0M570.5 210.2h0M571.2 208.7h0M571.9 211.1h0M572.5 210.7h0M573.2 210.5h0M573.9 210.9h0M574.6 210.9h0M575.3 209.4h0M576 207.7h0M576.7 207.5h0M577.4 210.6h0M578.1 209.7h0M578.8 208.7h0M579.4 207.8h0M580.1 208.1h0M580.8 207.9h0M581.5 207.2h0M582.2 206.4h0M582.9 209.6h0M583.6 206.9h0M584.3 205.6h0M585 204.5h0M585.7 204.8h0M586.3 206.2h0M587 205.9h0M587.7 204.3h0M588.4 204.2h0M589.1 203.3h0M589.8 201.9h0M590.5 204.3h0M591.2 202.6h0M591.9 204.6h0M592.6 200.1h0M593.2 200.2h0M593.9 200.8h0M594.6 198.8h0M595.3 196.7h0M596 196.4h0M596.7 196.8h0M597.4 196.1h0M598.1 194.5h0M598.8 194.7h0M599.5 193.4h0M600.1 191.2h0M600.8 189.2h0M601.5 186.9h0M602.2 185.7h0M602.9 183.9h0M603.6 180.4h0M604.3 178.3h0M605 174.8h0M605.7 170.8h0M606.4 168.3h0M607 167.4h0M607.7 164h0M608.4 162.5h0M609.1 157.6h0M609.8 155.6h0M610.5 153.8h0M611.2 151.9h0M611.9 148.9h0M612.6 148.6h0M613.3 148.9h0M613.9 148.1h0M614.6 151h0M615.3 153h0M616 152.7h0M616.7 157.6h0M617.4 157.5h0M618.1 160.5h0M618.8 163.4h0M619.5 165.9h0M620.2 170.6h0M620.8 173.6h0M621.5 178.7h0M622.2 180h0M622.9 182.1h0M623.6 183.3h0M624.3 183.7h0M625 186.9h0M625.7 187.3h0M626.4 190.4h0M627.1 190.1h0M627.7 192.9h0M628.4 192.5h0M629.1 193.1h0M629.8 192.6h0M630.5 192.4h0M631.2 192.5h0M631.9 192.1h0M632.6 189.2h0M633.3 189.6h0M634 190.9h0M634.6 186.2h0M635.3 184.1h0M636 181.2h0M636.7 177.6h0M637.4 177.9h0M638.1 173.6h0M638.8 170.5h0M639.5 168.4h0M640.2 165h0M640.9 156.7h0M641.5 154.9h0M642.2 150.5h0M642.9 146.4h0M643.6 142.8h0M644.3 138.5h0M645 136.9h0M645.7 132.5h0M646.4 129.1h0M647.1 127.1h0M647.8 123.8h0M648.4 120.9h0M649.1 119h0M649.8 119.4h0M650.5 116.7h0M651.2 115.4h0M651.9 114.6h0M652.6 116.5h0M653.3 117.6h0M654 121.2h0M654.7 124.1h0M655.3 124.8h0M656 131.3h0M656.7 136.3h0M657.4 140h0M658.1 143.3h0M658.8 150.8h0M659.5 153.4h0M660.2 157.6h0M660.9 162.8h0M661.6 169.2h0M662.2 175.2h0M662.9 179.5h0M663.6 181.9h0M664.3 183.4h0M665 187.1h0M665.7 189.5h0M666.4 192.6h0M667.1 192.7h0M667.8 196.6h0M668.5 198.8h0M669.1 199.3h0M669.8 201.3h0M670.5 200.8h0M671.2 201.1h0M671.9 202.8h0M672.6 205.6h0M673.3 206.1h0M674 204.9h0M674.7 207.4h0M675.4 206.1h0M676 208.8h0M676.7 207.9h0M677.4 207.1h0M678.1 208.9h0M678.8 207.2h0M679.5 207.2h0M680.2 206.6h0M680.9 208.6h0M681.6 208.2h0M682.3 208.2h0M682.9 207.8h0M683.6 210h0M684.3 207.8h0M685 207.4h0M685.7 209.8h0M686.4 210h0M687.1 208.7h0M687.8 206.2h0M688.5 207.6h0M689.2 209h0M689.8 208.3h0M690.5 210.1h0M691.2 206.3h0M691.9 208.2h0M692.6 205.9h0M693.3 207.4h0M694 204.8h0M694.7 205h0M695.4 201.8h0M696.1 198.8h0M696.7 196.6h0M697.4 195h0M698.1 193.2h0M698.8 195.2h0M699.5 195h0M700.2 194.6h0M700.9 195.2h0M701.6 198.8h0M702.3 200.2h0M703 205h0M703.6 205.9h0M704.3 208h0M705 207.8h0M705.7 206.2h0M706.4 208h0M707.1 207.9h0M707.8 209.9h0M708.5 209.8h0M709.2 208.9h0M709.9 209.6h0M710.5 212.1h0M711.2 209.2h0M711.9 209.3h0M712.6 210.2h0M713.3 209.7h0M714 210.1h0M714.7 211.2h0M715.4 212.7h0M716.1 208.5h0M716.8 210.6h0M717.4 210.6h0M718.1 210.5h0M718.8 210.4h0M719.5 210.2h0M720.2 211.8h0M720.9 210h0M721.6 210.4h0" stroke="#000" stroke-width="2.2" stroke-linecap="round" fill="none"/><polyline points="561.5,210.6 562.5,210.6 563.5,210.6 564.5,210.6 565.5,210.5 566.5,210.5 567.5,210.4 568.5,210.3 569.5,210.2 570.5,210.1 571.5,210 572.5,209.9 573.5,209.7 574.5,209.6 575.5,209.4 576.5,209.2 577.5,209 578.5,208.7 579.5,208.3 580.5,208 581.5,207.6 582.5,207.1 583.5,206.7 584.5,206.2 585.5,205.8 586.5,205.2 587.5,204.7 588.5,204.1 589.5,203.4 590.5,202.7 591.5,201.9 592.5,201.1 593.5,200.2 594.5,199.2 595.5,198.2 596.5,197 597.5,195.5 598.5,193.9 599.5,192.1 600.5,190 601.5,187.3 602.5,184.1 603.5,180.6 604.5,176.9 605.5,173.2 606.5,168.9 607.5,164.5 608.5,160.3 609.5,155.8 610.5,152.2 611.5,150.2 612.5,148.9 613.5,148.9 614.5,150.2 615.5,152.2 616.5,154.6 617.5,158.3 618.5,162.6 619.5,166.9 620.5,171.9 621.5,176.6 622.5,180.2 623.5,183.3 624.5,186 625.5,188 626.5,189.5 627.5,190.7 628.5,191.7 629.5,192.2 630.5,192.2 631.5,191.5 632.5,190.2 633.5,188.6 634.5,186.7 635.5,183.8 636.5,180.2 637.5,176 638.5,171.6 639.5,166 640.5,159.9 641.5,153.8 642.5,148.3 643.5,142.8 644.5,137.5 645.5,132.6 646.5,128.1 647.5,123.7 648.5,120.1 649.5,117.9 650.5,116.1 651.5,115.4 652.5,116.7 653.5,119.6 654.5,123.1 655.5,128.1 656.5,134.1 657.5,140.3 658.5,147.2 659.5,154.4 660.5,161.5 661.5,168.9 662.5,175.7 663.5,181 664.5,185.7 665.5,189.8 666.5,193.2 667.5,195.8 668.5,198.1 669.5,200.2 670.5,201.9 671.5,203.2 672.5,204.2 673.5,205 674.5,205.8 675.5,206.6 676.5,207.2 677.5,207.7 678.5,208.1 679.5,208.3 680.5,208.3 681.5,208.3 682.5,208.3 683.5,208.3 684.5,208.3 685.5,208.3 686.5,208.3 687.5,208.3 688.5,208.3 689.5,208.3 690.5,208.2 691.5,207.7 692.5,206.8 693.5,205.5 694.5,204.1 695.5,202.2 696.5,198.8 697.5,195.5 698.5,194 699.5,193.4 700.5,195.2 701.5,198.7 702.5,201.8 703.5,205.1 704.5,207.7 705.5,208.5 706.5,209 707.5,209.4 708.5,209.7 709.5,210 710.5,210.2 711.5,210.3 712.5,210.5 713.5,210.6 714.5,210.6 715.5,210.6 716.5,210.6 717.5,210.6 718.5,210.6 719.5,210.6 720.5,210.6 721.5,210.6" fill="none" stroke="#ff0000" stroke-width="1.1" stroke-linejoin="round"/></g><text x="563.8" y="123.9" font-size="10.6" font-weight="bold" fill="#000" stroke="#000" stroke-width="0.3" textLength="31.2" lengthAdjust="spacingAndGlyphs">Nb 3d</text><text x="571.9" y="168.2" font-size="10.3" fill="#161616" stroke="#161616" stroke-width="0.15" textLength="14.6" lengthAdjust="spacingAndGlyphs">Nb</text><text x="587" y="164" font-size="10.3" fill="#161616" stroke="#161616" stroke-width="0.15" textLength="12.4" lengthAdjust="spacingAndGlyphs">+5</text><text x="566.9" y="180.3" font-size="10.3" fill="#161616" stroke="#161616" stroke-width="0.15" textLength="33.9" lengthAdjust="spacingAndGlyphs">hydrox</text><line x1="597.8" y1="178.5" x2="636.8" y2="201.9" stroke="#222" stroke-width="1"/><text x="673.5" y="132.6" font-size="10.3" fill="#161616" stroke="#161616" stroke-width="0.15" textLength="14.5" lengthAdjust="spacingAndGlyphs">Nb</text><text x="688.5" y="128.4" font-size="10.3" fill="#161616" stroke="#161616" stroke-width="0.15" textLength="13" lengthAdjust="spacingAndGlyphs">+5</text><text x="674.4" y="145.3" font-size="10.3" fill="#161616" stroke="#161616" stroke-width="0.15" textLength="26.6" lengthAdjust="spacingAndGlyphs">oxide</text><line x1="672.8" y1="145.3" x2="659.1" y2="155.6" stroke="#222" stroke-width="1"/><text x="685" y="172.1" font-size="10.3" fill="#161616" stroke="#161616" stroke-width="0.15" textLength="14.5" lengthAdjust="spacingAndGlyphs">Nb</text><text x="700" y="168.4" font-size="10.3" fill="#161616" stroke="#161616" stroke-width="0.15" textLength="11.8" lengthAdjust="spacingAndGlyphs">+2</text><line x1="696.5" y1="176.2" x2="698.8" y2="192.3" stroke="#222" stroke-width="1"/><g clip-path="url(#c20)"><rect x="72" y="316.2" width="162.6" height="1.9" fill="#a6fb3e"/><path d="M72,318.1 L72,318 72.5,318 73,318 73.5,318 74,318 74.5,318 75,318 75.5,318 76,318 76.5,318 77,318 77.5,317.9 78,317.9 78.5,317.9 79,317.9 79.5,317.9 80,317.9 80.5,317.9 81,317.9 81.5,317.9 82,317.9 82.5,317.9 83,317.9 83.5,317.9 84,317.9 84.5,317.9 85,317.9 85.5,317.9 86,317.9 86.5,317.9 87,317.9 87.5,317.8 88,317.8 88.5,317.8 89,317.8 89.5,317.8 90,317.8 90.5,317.8 91,317.8 91.5,317.8 92,317.7 92.5,317.7 93,317.7 93.5,317.7 94,317.7 94.5,317.7 95,317.6 95.5,317.6 96,317.6 96.5,317.6 97,317.5 97.5,317.5 98,317.5 98.5,317.4 99,317.4 99.5,317.4 100,317.3 100.5,317.3 101,317.3 101.5,317.2 102,317.2 102.5,317.1 103,317.1 103.5,317 104,317 104.5,316.9 105,316.9 105.5,316.8 106,316.7 106.5,316.7 107,316.6 107.5,316.5 108,316.5 108.5,316.4 109,316.3 109.5,316.2 110,316.1 110.5,316 111,316 111.5,315.9 112,315.8 112.5,315.7 113,315.6 113.5,315.5 114,315.4 114.5,315.3 115,315.2 115.5,315.1 116,315 116.5,314.9 117,314.8 117.5,314.7 118,314.6 118.5,314.5 119,314.3 119.5,314.2 120,314.1 120.5,314 121,313.9 121.5,313.8 122,313.7 122.5,313.7 123,313.6 123.5,313.5 124,313.4 124.5,313.3 125,313.2 125.5,313.2 126,313.1 126.5,313 127,313 127.5,312.9 128,312.9 128.5,312.9 129,312.8 129.5,312.8 130,312.8 130.5,312.8 131,312.8 131.5,312.8 132,312.8 132.5,312.8 133,312.9 133.5,312.9 134,313 134.5,313 135,313.1 135.5,313.1 136,313.2 136.5,313.3 137,313.3 137.5,313.4 138,313.5 138.5,313.6 139,313.7 139.5,313.8 140,313.9 140.5,314 141,314.1 141.5,314.2 142,314.3 142.5,314.4 143,314.5 143.5,314.6 144,314.7 144.5,314.8 145,314.9 145.5,315 146,315.1 146.5,315.2 147,315.3 147.5,315.4 148,315.5 148.5,315.6 149,315.7 149.5,315.8 150,315.9 150.5,316 151,316.1 151.5,316.1 152,316.2 152.5,316.3 153,316.4 153.5,316.5 154,316.5 154.5,316.6 155,316.7 155.5,316.7 156,316.8 156.5,316.9 157,316.9 157.5,317 158,317 158.5,317.1 159,317.1 159.5,317.2 160,317.2 160.5,317.3 161,317.3 161.5,317.3 162,317.4 162.5,317.4 163,317.5 163.5,317.5 164,317.5 164.5,317.5 165,317.6 165.5,317.6 166,317.6 166.5,317.6 167,317.7 167.5,317.7 168,317.7 168.5,317.7 169,317.7 169.5,317.7 170,317.8 170.5,317.8 171,317.8 171.5,317.8 172,317.8 172.5,317.8 173,317.8 173.5,317.8 174,317.8 174.5,317.9 175,317.9 175.5,317.9 176,317.9 176.5,317.9 177,317.9 177.5,317.9 178,317.9 178.5,317.9 179,317.9 179.5,317.9 180,317.9 180.5,317.9 181,317.9 181.5,317.9 182,317.9 182.5,317.9 183,317.9 183.5,317.9 184,317.9 184.5,318 185,318 185.5,318 186,318 186.5,318 187,318 187.5,318 188,318 188.5,318 189,318 189.5,318 190,318 190.5,318 191,318 191.5,318 192,318 192.5,318 193,318 193.5,318 194,318 194.5,318 195,318 195.5,318 196,318 196.5,318 197,318 197.5,318 198,318 198.5,318 199,318 199.5,318 200,318 200.5,318 201,318 201.5,318 202,318 202.5,318 203,318 203.5,318 204,318 204.5,318 205,318 205.5,318 206,318 206.5,318 207,318 207.5,318 208,318 208.5,318 209,318 209.5,318 210,318 210.5,318 211,318 211.5,318 212,318 212.5,318 213,318 213.5,318 214,318 214.5,318 215,318 215.5,318 216,318 234,318.1 L234,318.1" fill="#a6fb3e" stroke="#8ee82c" stroke-width="1.05" stroke-linejoin="round"/><path d="M72,318.1 L72,317.9 74,317.9 76,317.9 78,317.9 80,317.9 82,317.9 84,317.9 86,317.9 88,317.9 90,317.9 92,317.8 94,317.8 96,317.8 98,317.8 100,317.8 102,317.8 104,317.8 106,317.8 108,317.7 110,317.7 112,317.7 114,317.7 116,317.7 118,317.6 120,317.6 122,317.6 124,317.6 126,317.5 128,317.5 130,317.5 132,317.4 134,317.4 136,317.3 138,317.3 140,317.2 142,317.1 144,317.1 146,317 148,316.9 150,316.8 152,316.6 154,316.5 156,316.3 158,316.1 160,315.9 162,315.6 164,315.3 166,315 168,314.5 169,314.2 169.5,314.1 170,313.9 170.5,313.8 171,313.6 171.5,313.4 172,313.2 172.5,313 173,312.8 173.5,312.5 174,312.3 174.5,312 175,311.7 175.5,311.4 176,311.1 176.5,310.8 177,310.4 177.5,310 178,309.5 178.5,309.1 179,308.6 179.5,308 180,307.4 180.5,306.8 181,306 181.5,305.3 182,304.4 182.5,303.5 183,302.4 183.5,301.3 184,300.1 184.5,298.7 185,297.1 185.5,295.4 186,293.5 186.5,291.4 187,289 187.5,286.4 188,283.4 188.5,280.1 189,276.5 189.5,272.4 190,267.9 190.5,262.9 191,257.5 191.5,251.8 192,245.8 192.5,239.8 193,234 193.5,228.7 194,224.3 194.5,221.2 195,219.6 195.5,219.8 196,221.7 196.5,225.1 197,229.7 197.5,235.1 198,241 198.5,247 199,253 199.5,258.6 200,263.9 200.5,268.8 201,273.2 201.5,277.2 202,280.8 202.5,284.1 203,287 203.5,289.5 204,291.9 204.5,293.9 205,295.8 205.5,297.5 206,299 206.5,300.3 207,301.5 207.5,302.7 208,303.7 208.5,304.6 209,305.4 209.5,306.2 210,306.9 210.5,307.5 211,308.1 211.5,308.7 212,309.2 212.5,309.6 213,310.1 213.5,310.5 214,310.8 214.5,311.2 215,311.5 215.5,311.8 216,312.1 216.5,312.4 217,312.6 217.5,312.8 218,313 218.5,313.2 219,313.4 219.5,313.6 220,313.8 220.5,314 221,314.1 221.5,314.3 222,314.4 224,314.9 226,315.3 228,315.6 230,315.9 232,316.1 234,316.3 L234,318.1" fill="#a6fb3e" stroke="#8ee82c" stroke-width="1.05" stroke-linejoin="round"/><path d="M72.5 317.4h0M73 317.5h0M73.5 317.3h0M74 317.9h0M74.5 317.3h0M75 317.4h0M75.5 317.2h0M76 316.6h0M76.5 316.6h0M77 316.5h0M77.5 317.2h0M78 316.6h0M78.5 316.4h0M79 317.1h0M79.5 317.3h0M79.9 315.9h0M80.4 317.9h0M80.9 316.9h0M81.4 316.8h0M81.9 317.5h0M82.4 316.8h0M82.9 316.4h0M83.4 318.1h0M83.9 316.1h0M84.4 316.6h0M84.9 317.2h0M85.4 316h0M85.9 316.5h0M86.4 316.8h0M86.9 318h0M87.4 316h0M87.9 316.5h0M88.4 316.9h0M88.9 316.5h0M89.4 315.7h0M89.9 316.7h0M90.4 316.4h0M90.9 316.6h0M91.4 317h0M91.9 316.9h0M92.4 316.5h0M92.9 316.5h0M93.4 315.6h0M93.8 316.2h0M94.3 316.3h0M94.8 316h0M95.3 316.2h0M95.8 315.7h0M96.3 317.1h0M96.8 317.4h0M97.3 315.9h0M97.8 316.3h0M98.3 315.9h0M98.8 316.8h0M99.3 316.3h0M99.8 316h0M100.3 315.8h0M100.8 316h0M101.3 315.3h0M101.8 316.3h0M102.3 315.4h0M102.8 316.1h0M103.3 315.9h0M103.8 316.4h0M104.3 315.7h0M104.8 316.3h0M105.3 315h0M105.8 315.9h0M106.3 315.3h0M106.8 315.5h0M107.3 315.4h0M107.8 315.8h0M108.2 314h0M108.7 315.3h0M109.2 314.1h0M109.7 315.6h0M110.2 313.6h0M110.7 314.1h0M111.2 313.6h0M111.7 315.5h0M112.2 313.7h0M112.7 314.4h0M113.2 313.9h0M113.7 313.1h0M114.2 313.9h0M114.7 314.4h0M115.2 313.7h0M115.7 314.3h0M116.2 313.4h0M116.7 313.5h0M117.2 313.1h0M117.7 313.4h0M118.2 314.2h0M118.7 313.2h0M119.2 312.9h0M119.7 312.3h0M120.2 312h0M120.7 313.2h0M121.2 311.5h0M121.7 311.5h0M122.1 311.9h0M122.6 311.5h0M123.1 312.8h0M123.6 310.1h0M124.1 311.7h0M124.6 311.8h0M125.1 310.6h0M125.6 310.8h0M126.1 311.4h0M126.6 312h0M127.1 310.4h0M127.6 309.9h0M128.1 311.4h0M128.6 311.7h0M129.1 310.5h0M129.6 309.3h0M130.1 311.5h0M130.6 310.4h0M131.1 311.2h0M131.6 310.5h0M132.1 310.3h0M132.6 310.2h0M133.1 311.4h0M133.6 311.4h0M134.1 309.3h0M134.6 310.1h0M135.1 311.7h0M135.6 310.5h0M136.1 310h0M136.5 310.9h0M137 310.9h0M137.5 310.9h0M138 310.8h0M138.5 310.9h0M139 310.9h0M139.5 311.4h0M140 310.8h0M140.5 311.2h0M141 311.3h0M141.5 312.3h0M142 311.8h0M142.5 311.6h0M143 312h0M143.5 312.1h0M144 312.5h0M144.5 312.3h0M145 313.1h0M145.5 312.9h0M146 312.2h0M146.5 312h0M147 312.9h0M147.5 312.7h0M148 312.4h0M148.5 311.7h0M149 311.5h0M149.5 312.9h0M150 313.2h0M150.5 313.2h0M150.9 312h0M151.4 313.4h0M151.9 312.5h0M152.4 313.1h0M152.9 313.2h0M153.4 312.5h0M153.9 312.6h0M154.4 311.8h0M154.9 312.5h0M155.4 312h0M155.9 313.3h0M156.4 313.1h0M156.9 313.6h0M157.4 313.3h0M157.9 312.7h0M158.4 313.3h0M158.9 312.8h0M159.4 313.4h0M159.9 313.2h0M160.4 312.3h0M160.9 312.8h0M161.4 312.8h0M161.9 312.4h0M162.4 313.1h0M162.9 313.4h0M163.4 312.1h0M163.9 312h0M164.4 310.7h0M164.8 311.9h0M165.3 311.6h0M165.8 310.4h0M166.3 311.7h0M166.8 311.8h0M167.3 310.8h0M167.8 310.9h0M168.3 310.3h0M168.8 311.2h0M169.3 309.6h0M169.8 310.1h0M170.3 311.3h0M170.8 309.9h0M171.3 309.9h0M171.8 309.3h0M172.3 308.4h0M172.8 308.8h0M173.3 308.8h0M173.8 307.6h0M174.3 308.1h0M174.8 308.2h0M175.3 307.7h0M175.8 305.7h0M176.3 305.6h0M176.8 304.8h0M177.3 305.9h0M177.8 305h0M178.3 304.5h0M178.8 302.8h0M179.2 302h0M179.7 302.1h0M180.2 301.5h0M180.7 300.4h0M181.2 300.4h0M181.7 300.2h0M182.2 299.5h0M182.7 298.1h0M183.2 296.8h0M183.7 297.1h0M184.2 296.3h0M184.7 294.7h0M185.2 293h0M185.7 290.9h0M186.2 289.7h0M186.7 286.9h0M187.2 284.6h0M187.7 281h0M188.2 277.8h0M188.7 274.4h0M189.2 269.6h0M189.7 265.2h0M190.2 261.5h0M190.7 257.7h0M191.2 252.1h0M191.7 247.6h0M192.2 241.5h0M192.7 236.4h0M193.1 230.4h0M193.6 226.1h0M194.1 224.1h0M194.6 221h0M195.1 220h0M195.6 220.7h0M196.1 222.5h0M196.6 225.6h0M197.1 231.8h0M197.6 238.7h0M198.1 243.9h0M198.6 248.9h0M199.1 253.6h0M199.6 257.9h0M200.1 263.2h0M200.6 268h0M201.1 274.5h0M201.6 277.8h0M202.1 283.6h0M202.6 289.2h0M203.1 291.6h0M203.6 294.5h0M204.1 297.3h0M204.6 299.6h0M205.1 300h0M205.6 301.6h0M206.1 302.2h0M206.6 302.7h0M207.1 305.5h0M207.5 304.2h0M208 304.4h0M208.5 305h0M209 306h0M209.5 306.5h0M210 307.1h0M210.5 307.2h0M211 306.6h0M211.5 308.2h0M212 308.1h0M212.5 308.4h0M213 308h0M213.5 308.9h0M214 309.1h0M214.5 309.8h0M215 309.2h0M215.5 310.4h0M216 310.7h0M216.5 310.2h0M217 310.8h0M217.5 310.9h0M218 312.2h0M218.5 310.4h0M219 312h0M219.5 311.4h0M220 312.4h0M220.5 313.4h0M221 312.8h0M221.4 313.4h0M221.9 313.1h0M222.4 315h0M222.9 314.6h0M223.4 314.9h0M223.9 313.6h0M224.4 313.9h0M224.9 315.4h0M225.4 314.8h0M225.9 314.9h0M226.4 315.4h0M226.9 314.6h0M227.4 315.9h0M227.9 315.5h0M228.4 315.9h0M228.9 315.3h0M229.4 316.1h0M229.9 315.4h0M230.4 316.5h0M230.9 316.7h0M231.4 316.6h0M231.9 316.4h0M232.4 316.6h0M232.9 314.6h0M233.4 316.8h0M233.9 316.1h0" stroke="#000" stroke-width="2.2" stroke-linecap="round" fill="none"/><polyline points="72.5,317.4 73.5,317.4 74.5,317.3 75.5,317.2 76.5,317.1 77.5,317.1 78.5,317 79.5,317 80.5,316.9 81.5,316.8 82.5,316.8 83.5,316.7 84.5,316.7 85.5,316.6 86.5,316.6 87.5,316.5 88.5,316.5 89.5,316.4 90.5,316.4 91.5,316.3 92.5,316.3 93.5,316.2 94.5,316.2 95.5,316.2 96.5,316.1 97.5,316.1 98.5,316.1 99.5,316 100.5,316 101.5,315.9 102.5,315.8 103.5,315.8 104.5,315.7 105.5,315.6 106.5,315.4 107.5,315.3 108.5,315.1 109.5,315 110.5,314.8 111.5,314.6 112.5,314.4 113.5,314.2 114.5,314 115.5,313.8 116.5,313.6 117.5,313.3 118.5,313 119.5,312.7 120.5,312.4 121.5,312.1 122.5,311.8 123.5,311.6 124.5,311.4 125.5,311.2 126.5,311.1 127.5,310.9 128.5,310.8 129.5,310.6 130.5,310.6 131.5,310.5 132.5,310.5 133.5,310.5 134.5,310.6 135.5,310.7 136.5,310.8 137.5,311 138.5,311.1 139.5,311.2 140.5,311.4 141.5,311.5 142.5,311.6 143.5,311.8 144.5,312 145.5,312.1 146.5,312.3 147.5,312.4 148.5,312.6 149.5,312.7 150.5,312.7 151.5,312.8 152.5,312.9 153.5,312.9 154.5,313 155.5,313 156.5,313.1 157.5,313.1 158.5,313.1 159.5,313 160.5,312.9 161.5,312.7 162.5,312.5 163.5,312.3 164.5,312 165.5,311.8 166.5,311.5 167.5,311.2 168.5,310.8 169.5,310.4 170.5,310 171.5,309.5 172.5,309 173.5,308.4 174.5,307.7 175.5,306.9 176.5,306 177.5,305 178.5,303.7 179.5,302.3 180.5,301.1 181.5,300.1 182.5,299 183.5,297.6 184.5,295.5 185.5,292.1 186.5,287.9 187.5,282.7 188.5,275.7 189.5,267.5 190.5,258.6 191.5,248.4 192.5,238.2 193.5,227.7 194.5,221.4 195.5,219.9 196.5,224.7 197.5,236.8 198.5,247.5 199.5,257.3 200.5,267.5 201.5,278.1 202.5,287.1 203.5,294.7 204.5,298.6 205.5,301.1 206.5,302.8 207.5,304.1 208.5,305.2 209.5,306.2 210.5,307.1 211.5,307.9 212.5,308.6 213.5,309.2 214.5,309.8 215.5,310.4 216.5,310.9 217.5,311.4 218.5,311.9 219.5,312.4 220.5,312.9 221.5,313.4 222.5,313.8 223.5,314.2 224.5,314.6 225.5,314.9 226.5,315.2 227.5,315.5 228.5,315.6 229.5,315.8 230.5,315.9 231.5,316.1 232.5,316.2 233.5,316.3" fill="none" stroke="#ff0000" stroke-width="1.1" stroke-linejoin="round"/></g><text x="75.9" y="230" font-size="10.6" font-weight="bold" fill="#000" stroke="#000" stroke-width="0.3" textLength="29" lengthAdjust="spacingAndGlyphs">Ni 2p</text><g clip-path="url(#c21)"><path d="M243,317.4 L243,314.3 245,314.2 247,314.1 249,314 251,313.9 253,313.8 255,313.7 257,313.6 259,313.5 261,313.3 263,313.2 265,313 267,312.9 269,312.7 271,312.5 273,312.3 274.5,312.2 275,312.1 275.5,312.1 276,312 276.5,312 277,311.9 277.5,311.9 278,311.8 278.5,311.7 279,311.7 279.5,311.6 280,311.6 280.5,311.5 281,311.4 281.5,311.4 282,311.3 282.5,311.2 283,311.2 283.5,311.1 284,311 284.5,310.9 285,310.9 285.5,310.8 286,310.7 286.5,310.6 287,310.5 287.5,310.4 288,310.4 288.5,310.3 289,310.2 289.5,310.1 290,310 290.5,309.9 291,309.8 291.5,309.7 292,309.6 292.5,309.5 293,309.4 293.5,309.2 294,309.1 294.5,309 295,308.9 295.5,308.8 296,308.6 296.5,308.5 297,308.4 297.5,308.2 298,308.1 298.5,307.9 299,307.8 299.5,307.6 300,307.4 300.5,307.3 301,307.1 301.5,306.9 302,306.7 302.5,306.5 303,306.3 303.5,306.1 304,305.9 304.5,305.7 305,305.5 305.5,305.2 306,305 306.5,304.7 307,304.4 307.5,304.2 308,303.9 308.5,303.6 309,303.2 309.5,302.9 310,302.5 310.5,302.2 311,301.8 311.5,301.4 312,301 312.5,300.5 313,300.1 313.5,299.6 314,299.1 314.5,298.6 315,298 315.5,297.4 316,296.8 316.5,296.2 317,295.5 317.5,294.8 318,294 318.5,293.2 319,292.4 319.5,291.5 320,290.6 320.5,289.7 321,288.7 321.5,287.6 322,286.6 322.5,285.4 323,284.2 323.5,283 324,281.7 324.5,280.3 325,278.9 325.5,277.5 326,275.9 326.5,274.4 327,272.7 327.5,271 328,269.3 328.5,267.4 329,265.6 329.5,263.7 330,261.7 330.5,259.7 331,257.6 331.5,255.5 332,253.4 332.5,251.2 333,249 333.5,246.8 334,244.6 334.5,242.5 335,240.3 335.5,238.2 336,236.2 336.5,234.2 337,232.3 337.5,230.6 338,228.9 338.5,227.5 339,226.1 339.5,225 340,224.1 340.5,223.3 341,222.8 341.5,222.6 342,222.5 342.5,222.7 343,223.2 343.5,223.9 344,224.8 344.5,226 345,227.3 345.5,228.9 346,230.6 346.5,232.5 347,234.6 347.5,236.8 348,239.1 348.5,241.6 349,244.1 349.5,246.7 350,249.3 350.5,252 351,254.8 351.5,257.5 352,260.2 352.5,263 353,265.7 353.5,268.4 354,271 354.5,273.6 355,276.1 355.5,278.5 356,280.9 356.5,283.2 357,285.4 357.5,287.5 358,289.6 358.5,291.5 359,293.3 359.5,295.1 360,296.7 360.5,298.3 361,299.7 361.5,301.1 362,302.4 362.5,303.6 363,304.7 363.5,305.7 364,306.7 364.5,307.5 365,308.3 365.5,309.1 366,309.8 366.5,310.4 367,311 367.5,311.5 368,312 368.5,312.4 369,312.8 369.5,313.1 370,313.5 370.5,313.8 371,314 371.5,314.2 372,314.5 372.5,314.6 373,314.8 373.5,315 374,315.1 374.5,315.2 375,315.4 375.5,315.5 376,315.6 376.5,315.6 377,315.7 377.5,315.8 378,315.8 378.5,315.9 379,316 379.5,316 380,316 380.5,316.1 381,316.1 381.5,316.2 382,316.2 382.5,316.2 383,316.3 383.5,316.3 384,316.3 384.5,316.3 385,316.4 385.5,316.4 386,316.4 386.5,316.4 387,316.5 387.5,316.5 388,316.5 388.5,316.5 389,316.5 389.5,316.6 390,316.6 390.5,316.6 391,316.6 391.5,316.6 392,316.6 392.5,316.6 393,316.7 393.5,316.7 394,316.7 394.5,316.7 395,316.7 395.5,316.7 396,316.7 396.5,316.7 397,316.8 L397,317.4" fill="#a6fb3e" stroke="#8ee82c" stroke-width="1.05" stroke-linejoin="round"/><path d="M272,317.4 L272,317.3 272.5,317.3 273,317.3 273.5,317.3 274,317.3 274.5,317.3 275,317.3 275.5,317.3 276,317.3 276.5,317.2 277,317.2 277.5,317.2 278,317.2 278.5,317.1 279,317.1 279.5,317.1 280,317.1 280.5,317 281,317 281.5,316.9 282,316.9 282.5,316.8 283,316.8 283.5,316.7 284,316.6 284.5,316.6 285,316.5 285.5,316.4 286,316.3 286.5,316.2 287,316.1 287.5,316 288,315.9 288.5,315.7 289,315.6 289.5,315.4 290,315.3 290.5,315.1 291,315 291.5,314.8 292,314.6 292.5,314.4 293,314.2 293.5,313.9 294,313.7 294.5,313.5 295,313.2 295.5,313 296,312.7 296.5,312.4 297,312.1 297.5,311.8 298,311.5 298.5,311.2 299,310.9 299.5,310.6 300,310.2 300.5,309.9 301,309.5 301.5,309.2 302,308.8 302.5,308.5 303,308.1 303.5,307.8 304,307.4 304.5,307.1 305,306.7 305.5,306.4 306,306.1 306.5,305.7 307,305.4 307.5,305.1 308,304.8 308.5,304.5 309,304.2 309.5,304 310,303.7 310.5,303.5 311,303.2 311.5,303 312,302.9 312.5,302.7 313,302.5 313.5,302.4 314,302.3 314.5,302.2 315,302.2 315.5,302.1 316,302.1 316.5,302.1 317,302.1 317.5,302.2 318,302.2 318.5,302.3 319,302.4 319.5,302.6 320,302.7 320.5,302.9 321,303.1 321.5,303.3 322,303.5 322.5,303.8 323,304 323.5,304.3 324,304.6 324.5,304.9 325,305.2 325.5,305.5 326,305.8 326.5,306.1 327,306.5 327.5,306.8 328,307.2 328.5,307.5 329,307.9 329.5,308.2 330,308.6 330.5,308.9 331,309.3 331.5,309.6 332,310 332.5,310.3 333,310.6 333.5,310.9 334,311.3 334.5,311.6 335,311.9 335.5,312.2 336,312.5 336.5,312.7 337,313 337.5,313.3 338,313.5 338.5,313.8 339,314 339.5,314.2 340,314.4 340.5,314.6 341,314.8 341.5,315 342,315.2 342.5,315.3 343,315.5 343.5,315.6 344,315.8 344.5,315.9 345,316 345.5,316.1 346,316.2 346.5,316.3 347,316.4 347.5,316.5 348,316.6 348.5,316.6 349,316.7 349.5,316.8 350,316.8 350.5,316.9 351,316.9 351.5,317 352,317 352.5,317.1 353,317.1 353.5,317.1 354,317.2 354.5,317.2 355,317.2 355.5,317.2 356,317.2 356.5,317.3 357,317.3 357.5,317.3 358,317.3 358.5,317.3 359,317.3 359.5,317.3 360,317.3 360.5,317.3 L360.5,317.4" fill="#ff8282" stroke="#ff1a1a" stroke-width="1.05" stroke-linejoin="round"/><path d="M243,317.4 L243,317 243.5,317 244,317 244.5,316.9 245,316.9 245.5,316.9 246,316.9 246.5,316.9 247,316.8 247.5,316.8 248,316.8 248.5,316.8 249,316.7 249.5,316.7 250,316.7 250.5,316.7 251,316.6 251.5,316.6 252,316.6 252.5,316.5 253,316.5 253.5,316.5 254,316.5 254.5,316.4 255,316.4 255.5,316.3 256,316.3 256.5,316.3 257,316.2 257.5,316.2 258,316.2 258.5,316.1 259,316.1 259.5,316 260,316 260.5,316 261,315.9 261.5,315.9 262,315.8 262.5,315.8 263,315.7 263.5,315.7 264,315.6 264.5,315.6 265,315.5 265.5,315.5 266,315.4 266.5,315.4 267,315.4 267.5,315.3 268,315.2 268.5,315.2 269,315.1 269.5,315.1 270,315 270.5,315 271,314.9 271.5,314.9 272,314.8 272.5,314.8 273,314.7 273.5,314.7 274,314.6 274.5,314.6 275,314.5 275.5,314.5 276,314.4 276.5,314.4 277,314.3 277.5,314.3 278,314.2 278.5,314.2 279,314.1 279.5,314.1 280,314 280.5,314 281,314 281.5,313.9 282,313.9 282.5,313.8 283,313.8 283.5,313.7 284,313.7 284.5,313.7 285,313.6 285.5,313.6 286,313.6 286.5,313.5 287,313.5 287.5,313.5 288,313.4 288.5,313.4 289,313.4 289.5,313.4 290,313.3 290.5,313.3 291,313.3 291.5,313.3 292,313.3 292.5,313.3 293,313.2 293.5,313.2 294,313.2 294.5,313.2 295,313.2 295.5,313.2 296,313.2 296.5,313.2 297,313.2 297.5,313.2 298,313.2 298.5,313.2 299,313.2 299.5,313.2 300,313.2 300.5,313.3 301,313.3 301.5,313.3 302,313.3 302.5,313.3 303,313.3 303.5,313.4 304,313.4 304.5,313.4 305,313.4 305.5,313.5 306,313.5 306.5,313.5 307,313.6 307.5,313.6 308,313.6 308.5,313.7 309,313.7 309.5,313.7 310,313.8 310.5,313.8 311,313.9 311.5,313.9 312,314 312.5,314 313,314 313.5,314.1 314,314.1 314.5,314.2 315,314.2 315.5,314.3 316,314.3 316.5,314.4 317,314.4 317.5,314.5 318,314.5 318.5,314.6 319,314.6 319.5,314.7 320,314.7 320.5,314.8 321,314.8 321.5,314.9 322,314.9 322.5,315 323,315 323.5,315.1 324,315.1 324.5,315.2 325,315.2 325.5,315.3 326,315.4 326.5,315.4 327,315.4 327.5,315.5 328,315.5 328.5,315.6 329,315.6 329.5,315.7 330,315.7 330.5,315.8 331,315.8 331.5,315.9 332,315.9 332.5,316 333,316 333.5,316 334,316.1 334.5,316.1 335,316.2 335.5,316.2 336,316.2 336.5,316.3 337,316.3 337.5,316.3 338,316.4 338.5,316.4 339,316.5 339.5,316.5 340,316.5 340.5,316.5 341,316.6 341.5,316.6 342,316.6 342.5,316.7 343,316.7 343.5,316.7 344,316.7 344.5,316.8 345,316.8 345.5,316.8 346,316.8 346.5,316.9 347,316.9 347.5,316.9 348,316.9 348.5,316.9 349,317 349.5,317 350,317 350.5,317 351,317 351.5,317.1 352,317.1 352.5,317.1 353,317.1 353.5,317.1 354,317.1 354.5,317.1 355,317.1 355.5,317.2 356,317.2 356.5,317.2 357,317.2 357.5,317.2 358,317.2 358.5,317.2 359,317.2 359.5,317.2 360,317.2 360.5,317.3 361,317.3 361.5,317.3 362,317.3 362.5,317.3 363,317.3 363.5,317.3 364,317.3 364.5,317.3 365,317.3 365.5,317.3 366,317.3 366.5,317.3 367,317.3 367.5,317.3 368,317.3 368.5,317.3 397,317.4 L397,317.4" fill="#a3dcf7" stroke="#1f8fe0" stroke-width="1.05" stroke-linejoin="round"/><path d="M243 316.8h0M243.7 316.4h0M244.4 315.6h0M245.2 315.9h0M245.9 316.5h0M246.6 316.8h0M247.3 315.4h0M248.1 315.1h0M248.8 316.3h0M249.5 314.7h0M250.2 316.3h0M250.9 315h0M251.7 314.2h0M252.4 315.1h0M253.1 315.4h0M253.8 313.3h0M254.6 314.9h0M255.3 313.6h0M256 314.5h0M256.7 313.2h0M257.4 312.3h0M258.2 313.3h0M258.9 313.4h0M259.6 313.9h0M260.3 313.4h0M261.1 312.6h0M261.8 311.8h0M262.5 311.4h0M263.2 311.3h0M264 310.8h0M264.7 310.9h0M265.4 309.3h0M266.1 310.7h0M266.8 310.3h0M267.6 311.6h0M268.3 310.3h0M269 309.3h0M269.7 309.7h0M270.5 308.3h0M271.2 308.5h0M271.9 307.4h0M272.6 309.2h0M273.3 308.4h0M274.1 307h0M274.8 307.4h0M275.5 307.8h0M276.2 307.2h0M277 306.9h0M277.7 305.9h0M278.4 305.7h0M279.1 305.9h0M279.8 306.1h0M280.6 304.7h0M281.3 304.3h0M282 305.3h0M282.7 303.8h0M283.5 304.7h0M284.2 303.9h0M284.9 303.9h0M285.6 304.1h0M286.3 303.1h0M287.1 302.9h0M287.8 301.5h0M288.5 301.3h0M289.2 301.7h0M290 301.9h0M290.7 301.4h0M291.4 301.5h0M292.1 299.9h0M292.9 299.5h0M293.6 299.5h0M294.3 298.5h0M295 298h0M295.7 296.9h0M296.5 297.6h0M297.2 295.9h0M297.9 296.3h0M298.6 294.7h0M299.4 295.6h0M300.1 293.8h0M300.8 294.4h0M301.5 292.3h0M302.2 292.4h0M303 292.8h0M303.7 291h0M304.4 290.9h0M305.1 289.9h0M305.9 288.1h0M306.6 289h0M307.3 288.4h0M308 286.8h0M308.7 287.1h0M309.5 285.6h0M310.2 284.7h0M310.9 284.5h0M311.6 283.3h0M312.4 284.2h0M313.1 281h0M313.8 281.5h0M314.5 280.7h0M315.2 277.9h0M316 277h0M316.7 277.4h0M317.4 275.7h0M318.1 275.1h0M318.9 274.4h0M319.6 272.4h0M320.3 270.8h0M321 268.6h0M321.8 269.2h0M322.5 267.2h0M323.2 266.7h0M323.9 265.2h0M324.6 262.8h0M325.4 263.2h0M326.1 261.2h0M326.8 259.4h0M327.5 256.5h0M328.3 254.9h0M329 252.6h0M329.7 250.3h0M330.4 247.4h0M331.1 245.7h0M331.9 243h0M332.6 240.6h0M333.3 237.5h0M334 235.9h0M334.8 232.6h0M335.5 228.4h0M336.2 227.6h0M336.9 226h0M337.6 224.8h0M338.4 222.5h0M339.1 221.5h0M339.8 220.5h0M340.5 220.6h0M341.3 219.4h0M342 219.1h0M342.7 219.3h0M343.4 220.8h0M344.1 221.2h0M344.9 221.7h0M345.6 224.6h0M346.3 226.1h0M347 229.6h0M347.8 232.6h0M348.5 236.2h0M349.2 239.5h0M349.9 242.3h0M350.7 246.4h0M351.4 249.8h0M352.1 256h0M352.8 259.9h0M353.5 265h0M354.3 268.2h0M355 271.4h0M355.7 277.6h0M356.4 280.5h0M357.2 283.8h0M357.9 286.8h0M358.6 289.9h0M359.3 292.4h0M360 293.4h0M360.8 297.1h0M361.5 297.9h0M362.2 299.5h0M362.9 302.3h0M363.7 303.2h0M364.4 303.7h0M365.1 304h0M365.8 306.2h0M366.5 307.3h0M367.3 307.8h0M368 307.9h0M368.7 308.9h0M369.4 309.4h0M370.2 310.9h0M370.9 311.8h0M371.6 312.4h0M372.3 311.7h0M373 312.7h0M373.8 313.2h0M374.5 312.9h0M375.2 313.5h0M375.9 315.1h0M376.7 314.2h0M377.4 314.9h0M378.1 314.3h0M378.8 314.8h0M379.6 313.9h0M380.3 315h0M381 315.9h0M381.7 316.6h0M382.4 316.1h0M383.2 315.9h0M383.9 315.7h0M384.6 315.4h0M385.3 315.8h0M386.1 316.3h0M386.8 315.6h0M387.5 316.7h0M388.2 315.6h0M388.9 315.2h0M389.7 315.8h0M390.4 315.4h0M391.1 315.7h0M391.8 317.2h0M392.6 316.5h0M393.3 316.8h0M394 317.4h0M394.7 317.4h0M395.4 316.4h0" stroke="#000" stroke-width="2.2" stroke-linecap="round" fill="none"/><polyline points="243,316.7 244,316.5 245,316.3 246,316.1 247,315.8 248,315.6 249,315.4 250,315.2 251,314.9 252,314.7 253,314.4 254,314.1 255,313.9 256,313.6 257,313.3 258,313.1 259,312.8 260,312.5 261,312.2 262,311.9 263,311.6 264,311.3 265,310.9 266,310.6 267,310.3 268,309.9 269,309.6 270,309.2 271,308.9 272,308.5 273,308.2 274,307.8 275,307.4 276,307 277,306.6 278,306.2 279,305.9 280,305.5 281,305.1 282,304.6 283,304.2 284,303.8 285,303.3 286,302.9 287,302.4 288,301.9 289,301.4 290,300.9 291,300.4 292,299.8 293,299.3 294,298.6 295,298 296,297.4 297,296.7 298,296 299,295.2 300,294.5 301,293.7 302,292.9 303,292.1 304,291.2 305,290.3 306,289.4 307,288.5 308,287.5 309,286.5 310,285.5 311,284.4 312,283.3 313,282.1 314,280.8 315,279.4 316,278 317,276.6 318,275.1 319,273.5 320,271.9 321,270.3 322,268.6 323,266.8 324,264.9 325,262.9 326,260.8 327,258.5 328,255.9 329,252.9 330,249.5 331,246 332,242.4 333,239 334,235.3 335,231.6 336,228.5 337,225.8 338,223.4 339,221.8 340,220.7 341,219.8 342,219.5 343,220 344,221.3 345,222.9 346,225.5 347,229.2 348,233.4 349,237.9 350,243 351,248.4 352,254.4 353,260.8 354,266.9 355,272.7 356,278.3 357,283.1 358,287.2 359,291 360,294.3 361,297 362,299.3 363,301.4 364,303.3 365,304.9 366,306.3 367,307.5 368,308.7 369,309.7 370,310.6 371,311.4 372,312 373,312.5 374,313 375,313.5 376,313.9 377,314.2 378,314.5 379,314.8 380,315 381,315.2 382,315.3 383,315.5 384,315.7 385,315.8 386,316 387,316.1 388,316.2 389,316.3 390,316.4 391,316.5 392,316.6 393,316.6 394,316.7 395,316.7 396,316.7" fill="none" stroke="#ff0000" stroke-width="1.1" stroke-linejoin="round"/></g><text x="236.8" y="228.6" font-size="10.6" font-weight="bold" fill="#000" stroke="#000" stroke-width="0.3" textLength="29" lengthAdjust="spacingAndGlyphs">Cr 2p</text><g clip-path="url(#c22)"><rect x="410" y="316.5" width="150" height="1.7" fill="#fcd596"/><path d="M410,317.9 L410,317.8 412,317.8 414,317.8 416,317.8 418,317.8 420,317.7 422,317.7 424,317.7 426,317.7 428,317.7 430,317.7 432,317.7 434,317.7 436,317.6 438,317.6 440,317.6 442,317.6 444,317.5 446,317.5 448,317.5 450,317.4 452,317.4 454,317.3 456,317.3 458,317.2 460,317.1 462,317 464,316.8 466,316.7 468,316.4 468.5,316.4 469,316.3 469.5,316.2 470,316.2 470.5,316.1 471,316 471.5,315.9 472,315.8 472.5,315.7 473,315.6 473.5,315.4 474,315.3 474.5,315.1 475,315 475.5,314.8 476,314.6 476.5,314.4 477,314.2 477.5,313.9 478,313.6 478.5,313.3 479,312.9 479.5,312.4 480,312 480.5,311.4 481,310.7 481.5,309.9 482,309 482.5,308 483,306.7 483.5,305.3 484,303.6 484.5,301.7 485,299.5 485.5,297 486,294.2 486.5,291.1 487,287.7 487.5,284.1 488,280.3 488.5,276.5 489,273 489.5,269.8 490,267.4 490.5,265.9 491,265.5 491.5,266.5 492,268.7 492.5,271.9 493,275.7 493.5,279.9 494,284.3 494.5,288.5 495,292.5 495.5,296.1 496,299.4 496.5,302.3 497,304.8 497.5,306.9 498,308.6 498.5,310.1 499,311.2 499.5,312.2 500,312.9 500.5,313.5 501,314 501.5,314.4 502,314.8 502.5,315 503,315.3 503.5,315.5 504,315.7 504.5,315.8 505,315.9 505.5,316.1 506,316.2 506.5,316.3 507,316.4 507.5,316.5 508,316.5 508.5,316.6 509,316.7 509.5,316.7 510,316.8 510.5,316.9 511,316.9 511.5,316.9 512,317 512.5,317 513,317.1 514,317.1 516,317.3 518,317.3 520,317.4 522,317.5 524,317.5 526,317.6 528,317.6 530,317.6 532,317.7 534,317.7 536,317.7 538,317.7 540,317.7 542,317.7 544,317.8 546,317.8 548,317.8 550,317.8 552,317.8 554,317.8 556,317.8 558,317.8 560,317.8 L560,317.9" fill="#a6fb3e" stroke="#8ee82c" stroke-width="1.05" stroke-linejoin="round"/><path d="M410,317.9 L410,317.8 412,317.8 414,317.8 416,317.8 418,317.8 420,317.8 422,317.8 424,317.8 426,317.8 428,317.8 430,317.8 432,317.8 434,317.8 436,317.8 438,317.7 440,317.7 442,317.7 444,317.7 446,317.7 448,317.7 450,317.7 452,317.7 454,317.7 456,317.7 458,317.6 460,317.6 462,317.6 464,317.6 466,317.6 468,317.5 470,317.5 472,317.5 474,317.4 476,317.4 478,317.4 480,317.3 482,317.2 484,317.2 486,317.1 488,317 490,316.9 492,316.8 494,316.6 496,316.4 498,316.2 500,315.8 502,315.4 503.5,315 504,314.9 504.5,314.7 505,314.6 505.5,314.4 506,314.2 506.5,314 507,313.7 507.5,313.5 508,313.2 508.5,312.9 509,312.5 509.5,312.1 510,311.7 510.5,311.2 511,310.7 511.5,310 512,309.3 512.5,308.5 513,307.6 513.5,306.4 514,305.1 514.5,303.5 515,301.6 515.5,299.3 516,296.6 516.5,293.4 517,289.5 517.5,285 518,279.8 518.5,273.9 519,267.2 519.5,259.9 520,252.1 520.5,244.1 521,236.4 521.5,229.7 522,224.8 522.5,222.2 523,222.6 523.5,226.1 524,232.2 524.5,240.1 525,248.9 525.5,257.9 526,266.6 526.5,274.7 527,281.9 527.5,288.2 528,293.6 528.5,298 529,301.5 529.5,304.4 530,306.6 530.5,308.3 531,309.7 531.5,310.8 532,311.6 532.5,312.3 533,312.8 533.5,313.3 534,313.7 534.5,314 535,314.3 535.5,314.6 536,314.8 536.5,315 537,315.2 537.5,315.4 538,315.5 538.5,315.7 539,315.8 539.5,315.9 540,316 540.5,316.1 541,316.2 541.5,316.3 542,316.4 544,316.6 546,316.8 548,317 550,317.1 552,317.2 554,317.3 556,317.4 558,317.4 560,317.5 L560,317.9" fill="#a6fb3e" stroke="#8ee82c" stroke-width="1.05" stroke-linejoin="round"/><path d="M468,317.9 L468,317.8 468.5,317.8 469,317.8 469.5,317.7 470,317.7 470.5,317.6 471,317.5 471.5,317.3 472,317.2 472.5,316.9 473,316.7 473.5,316.3 474,316 474.5,315.5 475,315 475.5,314.5 476,313.8 476.5,313.2 477,312.5 477.5,311.8 478,311.1 478.5,310.4 479,309.7 479.5,309.2 480,308.7 480.5,308.3 481,308 481.5,307.9 482,307.9 482.5,308.1 483,308.4 483.5,308.8 484,309.3 484.5,309.9 485,310.5 485.5,311.2 486,311.9 486.5,312.6 487,313.3 487.5,314 488,314.6 488.5,315.1 489,315.6 489.5,316 490,316.4 490.5,316.7 491,317 491.5,317.2 492,317.4 492.5,317.5 493,317.6 493.5,317.7 494,317.7 494.5,317.8 495,317.8 495.5,317.8 L495.5,317.9" fill="#fcd596" stroke="#f5ad42" stroke-width="1.05" stroke-linejoin="round"/><path d="M497,317.9 L497,317.9 497.5,317.8 498,317.8 498.5,317.8 499,317.7 499.5,317.6 500,317.6 500.5,317.4 501,317.3 501.5,317.1 502,316.9 502.5,316.6 503,316.2 503.5,315.8 504,315.3 504.5,314.8 505,314.1 505.5,313.4 506,312.6 506.5,311.7 507,310.8 507.5,309.8 508,308.8 508.5,307.8 509,306.7 509.5,305.8 510,304.9 510.5,304.1 511,303.4 511.5,302.8 512,302.4 512.5,302.2 513,302.1 513.5,302.2 514,302.5 514.5,303 515,303.6 515.5,304.4 516,305.2 516.5,306.2 517,307.2 517.5,308.2 518,309.2 518.5,310.2 519,311.2 519.5,312.1 520,312.9 520.5,313.7 521,314.4 521.5,315 522,315.5 522.5,316 523,316.4 523.5,316.7 524,317 524.5,317.2 525,317.3 525.5,317.5 526,317.6 526.5,317.7 527,317.7 527.5,317.8 528,317.8 528.5,317.8 L528.5,317.9" fill="#fcd596" stroke="#f5ad42" stroke-width="1.05" stroke-linejoin="round"/><path d="M410 318.1h0M410.5 317.5h0M411 317.3h0M411.5 317.6h0M412 316.4h0M412.5 316.8h0M412.9 317.2h0M413.4 317.6h0M413.9 317h0M414.4 317.2h0M414.9 317.8h0M415.4 318.1h0M415.9 317.7h0M416.4 318h0M416.9 316.9h0M417.4 317h0M417.8 317.3h0M418.3 316.9h0M418.8 316.8h0M419.3 318.1h0M419.8 316.9h0M420.3 316.5h0M420.8 317.3h0M421.3 318.1h0M421.8 317h0M422.3 317.7h0M422.7 316.7h0M423.2 316.6h0M423.7 316.4h0M424.2 316.7h0M424.7 317.9h0M425.2 316.1h0M425.7 317.7h0M426.2 316.1h0M426.7 316.5h0M427.2 317.1h0M427.6 317h0M428.1 316.7h0M428.6 315.6h0M429.1 316.7h0M429.6 315.9h0M430.1 318h0M430.6 316.3h0M431.1 316.5h0M431.6 315.6h0M432.1 316h0M432.5 315.5h0M433 316.8h0M433.5 316h0M434 316.5h0M434.5 315.7h0M435 315.7h0M435.5 316.8h0M436 315.4h0M436.5 314.8h0M437 316.1h0M437.4 315.1h0M437.9 315.5h0M438.4 316.3h0M438.9 315.2h0M439.4 316.2h0M439.9 315.2h0M440.4 316.5h0M440.9 316.3h0M441.4 315.2h0M441.9 315.3h0M442.3 314.9h0M442.8 315.4h0M443.3 315.9h0M443.8 314.3h0M444.3 315.7h0M444.8 314.3h0M445.3 314.5h0M445.8 313.9h0M446.3 316.1h0M446.8 314.8h0M447.2 314.9h0M447.7 314.2h0M448.2 315.2h0M448.7 313.2h0M449.2 314.4h0M449.7 315.6h0M450.2 314h0M450.7 314.1h0M451.2 314.4h0M451.7 313.4h0M452.1 313.8h0M452.6 314.3h0M453.1 313.7h0M453.6 313.7h0M454.1 313.2h0M454.6 313.5h0M455.1 313.2h0M455.6 313.9h0M456.1 313.4h0M456.6 312.7h0M457 311.2h0M457.5 313h0M458 312.9h0M458.5 311.7h0M459 310.9h0M459.5 311.3h0M460 312.4h0M460.5 311h0M461 311.2h0M461.5 311.4h0M461.9 311.8h0M462.4 310.9h0M462.9 310.6h0M463.4 310.2h0M463.9 311.3h0M464.4 310.7h0M464.9 309.8h0M465.4 308.8h0M465.9 308.9h0M466.4 309.5h0M466.8 308.4h0M467.3 309.1h0M467.8 308.5h0M468.3 308.1h0M468.8 308h0M469.3 307.5h0M469.8 306.4h0M470.3 306.3h0M470.8 307.5h0M471.3 305h0M471.7 305h0M472.2 305.5h0M472.7 304.4h0M473.2 303.5h0M473.7 302.8h0M474.2 303.4h0M474.7 303.2h0M475.2 302.9h0M475.7 301.5h0M476.2 301.5h0M476.6 299.6h0M477.1 299.6h0M477.6 298.4h0M478.1 298.1h0M478.6 297.6h0M479.1 296.7h0M479.6 294.3h0M480.1 294.4h0M480.6 292h0M481.1 290.3h0M481.5 289.4h0M482 287.2h0M482.5 286.7h0M483 285.5h0M483.5 283.9h0M484 283h0M484.5 281.1h0M485 279.9h0M485.5 277.6h0M486 277.1h0M486.4 275.1h0M486.9 273.8h0M487.4 272.5h0M487.9 270.9h0M488.4 268h0M488.9 266.4h0M489.4 265.9h0M489.9 265.3h0M490.4 264.3h0M490.9 264.1h0M491.3 264.5h0M491.8 264.9h0M492.3 265.9h0M492.8 266.9h0M493.3 268.7h0M493.8 271.4h0M494.3 274.8h0M494.8 278h0M495.3 281.1h0M495.8 284h0M496.2 287h0M496.7 289.1h0M497.2 291.6h0M497.7 293.8h0M498.2 295.3h0M498.7 296.7h0M499.2 298.9h0M499.7 300.1h0M500.2 300.9h0M500.7 301.8h0M501.1 304.2h0M501.6 302.9h0M502.1 303.4h0M502.6 303.6h0M503.1 302.6h0M503.6 303.2h0M504.1 303.9h0M504.6 303.1h0M505.1 302.6h0M505.6 302.3h0M506 301.6h0M506.5 301.8h0M507 300.6h0M507.5 299.9h0M508 299.6h0M508.5 299.5h0M509 298.4h0M509.5 297.8h0M510 295.4h0M510.5 296.4h0M510.9 296.2h0M511.4 294.7h0M511.9 292.6h0M512.4 291.1h0M512.9 290.5h0M513.4 288.3h0M513.9 287.7h0M514.4 285.3h0M514.9 284.3h0M515.4 282.3h0M515.8 277.5h0M516.3 275.7h0M516.8 271.5h0M517.3 267.2h0M517.8 263.6h0M518.3 259.5h0M518.8 255.3h0M519.3 248.3h0M519.8 244.6h0M520.3 240.2h0M520.7 234.6h0M521.2 230.1h0M521.7 225.9h0M522.2 221.3h0M522.7 220.5h0M523.2 222.4h0M523.7 227.1h0M524.2 233.2h0M524.7 238.5h0M525.2 245.7h0M525.6 253.7h0M526.1 259.8h0M526.6 267.7h0M527.1 275.2h0M527.6 281.7h0M528.1 288.9h0M528.6 293.7h0M529.1 298.4h0M529.6 300.8h0M530.1 302.4h0M530.5 303.5h0M531 305.6h0M531.5 306.9h0M532 306.8h0M532.5 308.5h0M533 309.5h0M533.5 309.9h0M534 311.4h0M534.5 311.8h0M535 311.1h0M535.4 312.2h0M535.9 312h0M536.4 313.2h0M536.9 312.6h0M537.4 313.9h0M537.9 313.8h0M538.4 314.4h0M538.9 313.9h0M539.4 313.3h0M539.9 315.4h0M540.3 314.4h0M540.8 315.4h0M541.3 315h0M541.8 315.3h0M542.3 316.1h0M542.8 315.3h0M543.3 316h0M543.8 314.4h0M544.3 315.9h0M544.8 315.3h0M545.2 315.5h0M545.7 315.6h0M546.2 315.9h0M546.7 316.8h0M547.2 314.8h0M547.7 316h0M548.2 315.6h0M548.7 316.8h0M549.2 316h0M549.7 316.6h0M550.1 316.1h0M550.6 316.8h0M551.1 317.1h0M551.6 316.4h0M552.1 316.7h0M552.6 315.9h0M553.1 317h0M553.6 317.4h0M554.1 316.6h0M554.6 317.7h0M555 315.8h0M555.5 316h0M556 316.3h0M556.5 316.9h0M557 317.2h0M557.5 317.2h0M558 317.3h0M558.5 317.8h0M559 317.1h0M559.5 316.6h0" stroke="#000" stroke-width="2.2" stroke-linecap="round" fill="none"/><polyline points="410,317.3 411,317.3 412,317.3 413,317.3 414,317.3 415,317.2 416,317.2 417,317.2 418,317.1 419,317.1 420,317.1 421,317 422,317 423,316.9 424,316.8 425,316.8 426,316.7 427,316.7 428,316.6 429,316.5 430,316.4 431,316.4 432,316.3 433,316.2 434,316.1 435,316 436,315.9 437,315.9 438,315.8 439,315.7 440,315.6 441,315.5 442,315.4 443,315.3 444,315.2 445,315 446,314.9 447,314.7 448,314.6 449,314.4 450,314.2 451,314 452,313.8 453,313.6 454,313.4 455,313.2 456,313 457,312.7 458,312.4 459,312.1 460,311.8 461,311.4 462,311.1 463,310.7 464,310.2 465,309.8 466,309.3 467,308.7 468,308.1 469,307.4 470,306.7 471,305.9 472,305.1 473,304.2 474,303.3 475,302.2 476,301 477,299.7 478,298.2 479,296.3 480,293.8 481,291.1 482,288.2 483,285.4 484,282.7 485,279.8 486,276.9 487,273.9 488,270.4 489,267 490,264.8 491,263.5 492,265 493,268.1 494,272.9 495,279.4 496,285.4 497,290.3 498,294.9 499,298.2 500,300.7 501,302.7 502,303.5 503,303.3 504,302.9 505,302.3 506,301.6 507,300.7 508,299.6 509,298.2 510,296.5 511,294.7 512,292.6 513,290 514,286.9 515,283.1 516,277.7 517,270.5 518,262.3 519,252.2 520,241.5 521,231.8 522,223.6 523,221 524,229.9 525,243.1 526,258.5 527,273.9 528,287.4 529,297 530,301.8 531,305.1 532,307.4 533,309.1 534,310.5 535,311.7 536,312.6 537,313.2 538,313.6 539,314 540,314.4 541,314.7 542,314.9 543,315.1 544,315.3 545,315.5 546,315.7 547,315.9 548,316 549,316.2 550,316.4 551,316.5 552,316.7 553,316.8 554,316.9 555,317 556,317.1 557,317.2 558,317.3 559,317.3" fill="none" stroke="#ff0000" stroke-width="1.1" stroke-linejoin="round"/></g><text x="401.2" y="227" font-size="10.6" font-weight="bold" fill="#000" stroke="#000" stroke-width="0.3" textLength="33.1" lengthAdjust="spacingAndGlyphs">Mo 3d</text><g clip-path="url(#c23)"><path d="M562 299.9h0M562.8 304.2h0M563.7 298.4h0M564.5 301.2h0M565.3 303.3h0M566.1 302h0M567 300.3h0M567.8 301.3h0M568.6 302.3h0M569.5 302.7h0M570.3 299.9h0M571.1 301.9h0M571.9 301.1h0M572.8 301.9h0M573.6 302h0M574.4 299.4h0M575.2 297.5h0M576.1 299.6h0M576.9 301h0M577.7 299.2h0M578.6 298.2h0M579.4 300.7h0M580.2 296h0M581 298.3h0M581.9 296.1h0M582.7 296.7h0M583.5 296.5h0M584.4 298.2h0M585.2 294.8h0M586 295.1h0M586.8 293.5h0M587.7 295.9h0M588.5 294.5h0M589.3 295.4h0M590.2 293.2h0M591 293.8h0M591.8 295.3h0M592.6 293.5h0M593.5 294.2h0M594.3 293.8h0M595.1 292.3h0M595.9 290.4h0M596.8 293.4h0M597.6 291.9h0M598.4 292.6h0M599.3 288.3h0M600.1 288.3h0M600.9 287.1h0M601.7 288.1h0M602.6 289.9h0M603.4 288.6h0M604.2 287.1h0M605.1 286.6h0M605.9 286.8h0M606.7 284.9h0M607.5 285.2h0M608.4 284.2h0M609.2 280.5h0M610 282.1h0M610.9 283.3h0M611.7 279.8h0M612.5 278.8h0M613.3 276.9h0M614.2 275.7h0M615 276.5h0M615.8 273.3h0M616.6 271h0M617.5 267h0M618.3 269.1h0M619.1 266.1h0M620 265h0M620.8 267.3h0M621.6 266.3h0M622.4 262.2h0M623.3 265.3h0M624.1 264.4h0M624.9 262.4h0M625.8 264h0M626.6 260.4h0M627.4 260.2h0M628.2 258.9h0M629.1 258.1h0M629.9 259h0M630.7 253.5h0M631.6 250h0M632.4 246.6h0M633.2 244.3h0M634 240.9h0M634.9 240.8h0M635.7 238.2h0M636.5 238.7h0M637.3 241.8h0M638.2 246.6h0M639 249.5h0M639.8 254.7h0M640.7 259.9h0M641.5 258.8h0M642.3 261.1h0M643.1 264.1h0M644 262.6h0M644.8 263.6h0M645.6 264.2h0M646.5 266.1h0M647.3 265.3h0M648.1 262.8h0M648.9 261.3h0M649.8 260.6h0M650.6 257h0M651.4 250.9h0M652.3 249.8h0M653.1 247.4h0M653.9 245.6h0M654.7 241.9h0M655.6 238.8h0M656.4 236.1h0M657.2 232h0M658 233.3h0M658.9 233.3h0M659.7 236.4h0M660.5 236.6h0M661.4 239.4h0M662.2 241.5h0M663 244.3h0M663.8 248.9h0M664.7 249.1h0M665.5 251.7h0M666.3 250.4h0M667.2 251.4h0M668 247h0M668.8 246h0M669.6 243.2h0M670.5 241.3h0M671.3 236.9h0M672.1 232.5h0M673 229.4h0M673.8 224.1h0M674.6 220.4h0M675.4 220.5h0M676.3 224.2h0M677.1 230.2h0M677.9 240.1h0M678.7 249.6h0M679.6 259.7h0M680.4 269.2h0M681.2 273.5h0M682.1 274.6h0M682.9 275.3h0M683.7 278.1h0M684.5 278.6h0M685.4 280.7h0M686.2 279h0M687 279.4h0M687.9 280h0M688.7 277.1h0M689.5 275.8h0M690.3 276.3h0M691.2 273.3h0M692 269h0M692.8 265.5h0M693.7 260.9h0M694.5 259.8h0M695.3 257.3h0M696.1 257.9h0M697 258.6h0M697.8 261.6h0M698.6 264.7h0M699.4 270.6h0M700.3 277.6h0M701.1 282.5h0M701.9 285.3h0M702.8 289.6h0M703.6 291.5h0M704.4 294.7h0M705.2 298.1h0M706.1 299.2h0M706.9 299.1h0M707.7 301.3h0M708.6 300.8h0M709.4 300.6h0M710.2 301h0M711 302h0M711.9 305.2h0M712.7 301.8h0M713.5 305.3h0M714.4 305.5h0M715.2 303.7h0M716 304.1h0M716.8 303.5h0M717.7 304.4h0M718.5 305.4h0M719.3 304.7h0M720.1 306.1h0M721 306.5h0M721.8 305.5h0" stroke="#000" stroke-width="2.4" stroke-linecap="round" fill="none"/></g><text x="563.7" y="228.6" font-size="10.6" font-weight="bold" fill="#000" stroke="#000" stroke-width="0.3" textLength="31.9" lengthAdjust="spacingAndGlyphs">Nb 3d</text><g clip-path="url(#c30)"><path d="M78,422 L78,421.8 80,421.8 82,421.8 84,421.8 86,421.8 88,421.7 90,421.7 92,421.7 94,421.7 96,421.7 98,421.7 100,421.7 102,421.7 104,421.6 106,421.6 108,421.6 110,421.6 112,421.6 114,421.6 116,421.5 118,421.5 120,421.5 122,421.5 124,421.4 126,421.4 128,421.4 130,421.3 132,421.3 134,421.2 136,421.2 138,421.1 140,421 142,421 144,420.9 146,420.8 148,420.7 150,420.6 152,420.4 154,420.3 156,420.1 158,419.9 160,419.7 162,419.4 164,419.1 166,418.7 168,418.2 168.5,418 169,417.9 169.5,417.7 170,417.6 170.5,417.4 171,417.2 171.5,417 172,416.8 172.5,416.6 173,416.4 173.5,416.1 174,415.8 174.5,415.6 175,415.3 175.5,414.9 176,414.6 176.5,414.2 177,413.8 177.5,413.4 178,412.9 178.5,412.4 179,411.9 179.5,411.3 180,410.7 180.5,410 181,409.3 181.5,408.5 182,407.6 182.5,406.6 183,405.5 183.5,404.3 184,403 184.5,401.6 185,400 185.5,398.3 186,396.3 186.5,394.1 187,391.7 187.5,389 188,386 188.5,382.7 189,379 189.5,374.9 190,370.5 190.5,365.6 191,360.4 191.5,354.8 192,349.1 192.5,343.4 193,337.9 193.5,332.9 194,328.8 194.5,326 195,324.5 195.5,324.7 196,326.4 196.5,329.6 197,333.8 197.5,338.9 198,344.5 198.5,350.2 199,355.9 199.5,361.4 200,366.6 200.5,371.4 201,375.8 201.5,379.8 202,383.4 202.5,386.7 203,389.6 203.5,392.2 204,394.6 204.5,396.7 205,398.6 205.5,400.3 206,401.9 206.5,403.3 207,404.6 207.5,405.7 208,406.8 208.5,407.7 209,408.6 209.5,409.4 210,410.2 210.5,410.8 211,411.5 211.5,412 212,412.6 212.5,413 213,413.5 213.5,413.9 214,414.3 214.5,414.7 215,415 215.5,415.3 216,415.6 216.5,415.9 217,416.2 217.5,416.4 218,416.6 218.5,416.8 219,417.1 219.5,417.2 220,417.4 220.5,417.6 221,417.8 221.5,417.9 222,418.1 222.5,418.2 224,418.6 226,419 228,419.3 230,419.6 232,419.9 234,420.1 L234,422" fill="#a6fb3e" stroke="#8ee82c" stroke-width="1.05" stroke-linejoin="round"/><path d="M99.5,422 L99.5,421.9 100,421.9 100.5,421.9 101,421.9 101.5,421.9 102,421.9 102.5,421.9 103,421.9 103.5,421.9 104,421.8 104.5,421.8 105,421.8 105.5,421.8 106,421.8 106.5,421.7 107,421.7 107.5,421.7 108,421.6 108.5,421.6 109,421.6 109.5,421.5 110,421.5 110.5,421.4 111,421.4 111.5,421.3 112,421.3 112.5,421.2 113,421.1 113.5,421.1 114,421 114.5,420.9 115,420.9 115.5,420.8 116,420.7 116.5,420.6 117,420.5 117.5,420.4 118,420.4 118.5,420.3 119,420.2 119.5,420.1 120,420 120.5,419.9 121,419.8 121.5,419.7 122,419.6 122.5,419.5 123,419.4 123.5,419.4 124,419.3 124.5,419.2 125,419.1 125.5,419 126,419 126.5,418.9 127,418.8 127.5,418.8 128,418.7 128.5,418.7 129,418.7 129.5,418.6 130,418.6 130.5,418.6 131,418.6 131.5,418.6 132,418.6 132.5,418.6 133,418.6 133.5,418.7 134,418.7 134.5,418.7 135,418.8 135.5,418.8 136,418.9 136.5,419 137,419 137.5,419.1 138,419.2 138.5,419.3 139,419.3 139.5,419.4 140,419.5 140.5,419.6 141,419.7 141.5,419.8 142,419.9 142.5,420 143,420.1 143.5,420.2 144,420.2 144.5,420.3 145,420.4 145.5,420.5 146,420.6 146.5,420.7 147,420.8 147.5,420.8 148,420.9 148.5,421 149,421.1 149.5,421.1 150,421.2 150.5,421.3 151,421.3 151.5,421.4 152,421.4 152.5,421.5 153,421.5 153.5,421.5 154,421.6 154.5,421.6 155,421.7 155.5,421.7 156,421.7 156.5,421.7 157,421.8 157.5,421.8 158,421.8 158.5,421.8 159,421.9 159.5,421.9 160,421.9 160.5,421.9 161,421.9 161.5,421.9 162,421.9 162.5,421.9 163,421.9 L163,422" fill="#a6fb3e" stroke="#8ee82c" stroke-width="1.05" stroke-linejoin="round"/><path d="M78,422 L78,421.8 78.5,421.8 79,421.8 79.5,421.8 80,421.7 80.5,421.7 81,421.7 81.5,421.7 82,421.7 82.5,421.6 83,421.6 83.5,421.6 84,421.6 84.5,421.5 85,421.5 85.5,421.5 86,421.5 86.5,421.4 87,421.4 87.5,421.4 88,421.3 88.5,421.3 89,421.3 89.5,421.2 90,421.2 90.5,421.1 91,421.1 91.5,421.1 92,421 92.5,421 93,420.9 93.5,420.9 94,420.8 94.5,420.8 95,420.7 95.5,420.7 96,420.6 96.5,420.6 97,420.5 97.5,420.5 98,420.4 98.5,420.3 99,420.3 99.5,420.2 100,420.2 100.5,420.1 101,420.1 101.5,420 102,419.9 102.5,419.9 103,419.8 103.5,419.8 104,419.7 104.5,419.7 105,419.6 105.5,419.6 106,419.5 106.5,419.5 107,419.4 107.5,419.4 108,419.3 108.5,419.3 109,419.2 109.5,419.2 110,419.1 110.5,419.1 111,419.1 111.5,419 112,419 112.5,419 113,418.9 113.5,418.9 114,418.9 114.5,418.9 115,418.8 115.5,418.8 116,418.8 116.5,418.8 117,418.8 117.5,418.8 118,418.8 118.5,418.8 119,418.8 119.5,418.8 120,418.8 120.5,418.8 121,418.8 121.5,418.9 122,418.9 122.5,418.9 123,418.9 123.5,419 124,419 124.5,419 125,419.1 125.5,419.1 126,419.1 126.5,419.2 127,419.2 127.5,419.3 128,419.3 128.5,419.4 129,419.4 129.5,419.5 130,419.5 130.5,419.6 131,419.6 131.5,419.7 132,419.7 132.5,419.8 133,419.8 133.5,419.9 134,419.9 134.5,420 135,420.1 135.5,420.1 136,420.2 136.5,420.2 137,420.3 137.5,420.3 138,420.4 138.5,420.5 139,420.5 139.5,420.6 140,420.6 140.5,420.7 141,420.7 141.5,420.8 142,420.8 142.5,420.9 143,420.9 143.5,421 144,421 144.5,421.1 145,421.1 145.5,421.1 146,421.2 146.5,421.2 147,421.3 147.5,421.3 148,421.3 148.5,421.4 149,421.4 149.5,421.4 150,421.5 150.5,421.5 151,421.5 151.5,421.5 152,421.6 152.5,421.6 153,421.6 153.5,421.6 154,421.7 154.5,421.7 155,421.7 155.5,421.7 156,421.7 156.5,421.8 157,421.8 157.5,421.8 158,421.8 158.5,421.8 159,421.8 159.5,421.8 160,421.8 160.5,421.9 161,421.9 161.5,421.9 162,421.9 162.5,421.9 163,421.9 163.5,421.9 164,421.9 164.5,421.9 165,421.9 165.5,421.9 166,421.9 234,422 L234,422" fill="#a3dcf7" stroke="#1f8fe0" stroke-width="1.05" stroke-linejoin="round"/><path d="M128.5,422 L128.5,421.9 129,421.9 129.5,421.9 130,421.9 130.5,421.9 131,421.9 131.5,421.9 132,421.9 132.5,421.9 133,421.8 133.5,421.8 134,421.8 134.5,421.8 135,421.8 135.5,421.7 136,421.7 136.5,421.7 137,421.7 137.5,421.6 138,421.6 138.5,421.6 139,421.5 139.5,421.5 140,421.5 140.5,421.4 141,421.4 141.5,421.3 142,421.3 142.5,421.2 143,421.1 143.5,421.1 144,421 144.5,420.9 145,420.9 145.5,420.8 146,420.7 146.5,420.6 147,420.6 147.5,420.5 148,420.4 148.5,420.3 149,420.2 149.5,420.1 150,420 150.5,419.9 151,419.8 151.5,419.7 152,419.6 152.5,419.5 153,419.4 153.5,419.3 154,419.2 154.5,419.1 155,419 155.5,418.9 156,418.8 156.5,418.7 157,418.6 157.5,418.5 158,418.4 158.5,418.3 159,418.2 159.5,418.1 160,418.1 160.5,418 161,417.9 161.5,417.9 162,417.8 162.5,417.8 163,417.7 163.5,417.7 164,417.7 164.5,417.6 165,417.6 165.5,417.6 166,417.6 166.5,417.6 167,417.6 167.5,417.6 168,417.7 168.5,417.7 169,417.7 169.5,417.8 170,417.8 170.5,417.9 171,417.9 171.5,418 172,418.1 172.5,418.1 173,418.2 173.5,418.3 174,418.4 174.5,418.5 175,418.6 175.5,418.7 176,418.8 176.5,418.9 177,419 177.5,419.1 178,419.2 178.5,419.3 179,419.4 179.5,419.5 180,419.6 180.5,419.7 181,419.8 181.5,419.9 182,420 182.5,420.1 183,420.2 183.5,420.3 184,420.4 184.5,420.5 185,420.6 185.5,420.6 186,420.7 186.5,420.8 187,420.9 187.5,420.9 188,421 188.5,421.1 189,421.1 189.5,421.2 190,421.3 190.5,421.3 191,421.4 191.5,421.4 192,421.5 192.5,421.5 193,421.5 193.5,421.6 194,421.6 194.5,421.6 195,421.7 195.5,421.7 196,421.7 196.5,421.7 197,421.8 197.5,421.8 198,421.8 198.5,421.8 199,421.8 199.5,421.9 200,421.9 200.5,421.9 201,421.9 201.5,421.9 202,421.9 202.5,421.9 203,421.9 203.5,421.9 L203.5,422" fill="#a3dcf7" stroke="#1f8fe0" stroke-width="1.05" stroke-linejoin="round"/><rect x="72" y="422" width="162.6" height="1.9" fill="#a6fb3e"/><path d="M72.5 422.9h0M73 422.5h0M73.5 422.9h0M74 421.4h0M74.5 422.9h0M75 422.7h0M75.5 421.6h0M76 424.6h0M76.5 421.4h0M77 421.5h0M77.5 422.7h0M78 420.4h0M78.5 421.6h0M79 420.8h0M79.5 421.4h0M79.9 422.2h0M80.4 422.6h0M80.9 423.4h0M81.4 423.1h0M81.9 423.5h0M82.4 422.8h0M82.9 421.8h0M83.4 423.3h0M83.9 421.7h0M84.4 421.6h0M84.9 423.7h0M85.4 422.9h0M85.9 422.3h0M86.4 422.8h0M86.9 422.8h0M87.4 420.5h0M87.9 421.7h0M88.4 420.5h0M88.9 421.7h0M89.4 420.9h0M89.9 422.8h0M90.4 421.8h0M90.9 420.4h0M91.4 421.1h0M91.9 419.8h0M92.4 420.9h0M92.9 421.4h0M93.4 421h0M93.8 418.7h0M94.3 420.2h0M94.8 421h0M95.3 420.7h0M95.8 421.5h0M96.3 419h0M96.8 420.7h0M97.3 419.5h0M97.8 420.3h0M98.3 420.4h0M98.8 420.6h0M99.3 419.3h0M99.8 420h0M100.3 418.6h0M100.8 418.3h0M101.3 420.2h0M101.8 419.6h0M102.3 417.9h0M102.8 418.7h0M103.3 419.5h0M103.8 421h0M104.3 420.4h0M104.8 420.1h0M105.3 417.5h0M105.8 419.1h0M106.3 419.6h0M106.8 419.5h0M107.3 419.5h0M107.8 418.8h0M108.2 420.7h0M108.7 420.4h0M109.2 418.7h0M109.7 417.8h0M110.2 420.8h0M110.7 418.1h0M111.2 419.8h0M111.7 420.5h0M112.2 417.6h0M112.7 418.7h0M113.2 418.1h0M113.7 418.9h0M114.2 418.6h0M114.7 420.2h0M115.2 418.8h0M115.7 418.2h0M116.2 419.2h0M116.7 417.8h0M117.2 417.7h0M117.7 420.2h0M118.2 417.1h0M118.7 417.4h0M119.2 417.9h0M119.7 416.7h0M120.2 415.6h0M120.7 418.7h0M121.2 416.8h0M121.7 417h0M122.1 417.1h0M122.6 416.5h0M123.1 416.3h0M123.6 417.5h0M124.1 419.7h0M124.6 417.9h0M125.1 417.9h0M125.6 415.5h0M126.1 416.9h0M126.6 415.7h0M127.1 417.5h0M127.6 416.4h0M128.1 416.5h0M128.6 416.3h0M129.1 415.7h0M129.6 414.7h0M130.1 416.7h0M130.6 414.7h0M131.1 414.8h0M131.6 415.7h0M132.1 415.2h0M132.6 416.2h0M133.1 417h0M133.6 416.3h0M134.1 416.3h0M134.6 416.2h0M135.1 417.1h0M135.6 414.5h0M136.1 416.8h0M136.5 415.6h0M137 415.4h0M137.5 416.7h0M138 416.4h0M138.5 417.5h0M139 418.1h0M139.5 414.7h0M140 417.1h0M140.5 419.2h0M141 418.2h0M141.5 418.8h0M142 417.5h0M142.5 416.1h0M143 416.5h0M143.5 418.4h0M144 418.7h0M144.5 417h0M145 417.6h0M145.5 418.1h0M146 416.2h0M146.5 417.6h0M147 419.6h0M147.5 420.1h0M148 417.8h0M148.5 419.7h0M149 417.3h0M149.5 416.9h0M150 415.4h0M150.5 418.5h0M150.9 417h0M151.4 419.6h0M151.9 417.5h0M152.4 417.2h0M152.9 415.1h0M153.4 418.3h0M153.9 416.3h0M154.4 416.3h0M154.9 414.2h0M155.4 417.2h0M155.9 417.1h0M156.4 415.3h0M156.9 415.8h0M157.4 415.9h0M157.9 416.3h0M158.4 415.3h0M158.9 416.7h0M159.4 414.5h0M159.9 413.9h0M160.4 413.8h0M160.9 411.6h0M161.4 413.1h0M161.9 414.7h0M162.4 413.8h0M162.9 412.5h0M163.4 413.5h0M163.9 410.9h0M164.4 412.5h0M164.8 413.2h0M165.3 413.3h0M165.8 411.7h0M166.3 413.3h0M166.8 414.2h0M167.3 411.8h0M167.8 412.9h0M168.3 410.5h0M168.8 410h0M169.3 412.5h0M169.8 411.9h0M170.3 411.9h0M170.8 411.1h0M171.3 411.2h0M171.8 412.2h0M172.3 413h0M172.8 410.9h0M173.3 409.3h0M173.8 412h0M174.3 411.1h0M174.8 410.9h0M175.3 410.1h0M175.8 412h0M176.3 409.4h0M176.8 409.5h0M177.3 406.8h0M177.8 407.7h0M178.3 407.2h0M178.8 407.4h0M179.2 407.3h0M179.7 405.7h0M180.2 407.6h0M180.7 404.1h0M181.2 403.9h0M181.7 403.6h0M182.2 401h0M182.7 401.4h0M183.2 399.9h0M183.7 397.2h0M184.2 397.4h0M184.7 392.8h0M185.2 389.8h0M185.7 385.5h0M186.2 382.3h0M186.7 381.4h0M187.2 380h0M187.7 378.2h0M188.2 377.7h0M188.7 372.6h0M189.2 371.4h0M189.7 367.6h0M190.2 366.9h0M190.7 360.7h0M191.2 356.1h0M191.7 350.8h0M192.2 348.1h0M192.7 342.1h0M193.1 337.6h0M193.6 330.6h0M194.1 330.2h0M194.6 326.4h0M195.1 324.9h0M195.6 326.6h0M196.1 328h0M196.6 331.3h0M197.1 336.5h0M197.6 341.3h0M198.1 346h0M198.6 352.5h0M199.1 358.7h0M199.6 366.7h0M200.1 372.9h0M200.6 376.9h0M201.1 383.3h0M201.6 384.1h0M202.1 389.1h0M202.6 394.1h0M203.1 394.7h0M203.6 395.8h0M204.1 400.8h0M204.6 401.7h0M205.1 401.6h0M205.6 405h0M206.1 404.5h0M206.6 405.4h0M207.1 407.6h0M207.5 408h0M208 408.1h0M208.5 409.5h0M209 409.4h0M209.5 411.1h0M210 411.5h0M210.5 412.8h0M211 412.1h0M211.5 411.6h0M212 412.1h0M212.5 413.5h0M213 415.7h0M213.5 415.4h0M214 414.2h0M214.5 416.1h0M215 414.3h0M215.5 416.8h0M216 415.7h0M216.5 417.1h0M217 417.2h0M217.5 416.6h0M218 417.5h0M218.5 416.3h0M219 417.6h0M219.5 419h0M220 422.3h0M220.5 419.1h0M221 418.7h0M221.4 417.8h0M221.9 420.1h0M222.4 417.6h0M222.9 418.7h0M223.4 420h0M223.9 418.6h0M224.4 421.6h0M224.9 421.3h0M225.4 419.7h0M225.9 419.9h0M226.4 419.3h0M226.9 419.3h0M227.4 421.2h0M227.9 421.5h0M228.4 421.3h0M228.9 421.3h0M229.4 420.5h0M229.9 421.5h0M230.4 419.8h0M230.9 421.3h0M231.4 422.8h0M231.9 422.7h0M232.4 421h0M232.9 421.2h0M233.4 422.9h0M233.9 423.3h0" stroke="#000" stroke-width="2.2" stroke-linecap="round" fill="none"/><polyline points="72.5,422.6 73.5,422.6 74.5,422.5 75.5,422.5 76.5,422.5 77.5,422.4 78.5,422.4 79.5,422.4 80.5,422.4 81.5,422.3 82.5,422.3 83.5,422.3 84.5,422.2 85.5,422.2 86.5,422.1 87.5,421.9 88.5,421.7 89.5,421.6 90.5,421.3 91.5,421.1 92.5,420.9 93.5,420.7 94.5,420.6 95.5,420.4 96.5,420.3 97.5,420.2 98.5,420.1 99.5,419.9 100.5,419.8 101.5,419.7 102.5,419.6 103.5,419.5 104.5,419.4 105.5,419.3 106.5,419.2 107.5,419.1 108.5,419 109.5,418.9 110.5,418.7 111.5,418.6 112.5,418.5 113.5,418.4 114.5,418.3 115.5,418.2 116.5,418.1 117.5,418 118.5,417.9 119.5,417.8 120.5,417.7 121.5,417.6 122.5,417.5 123.5,417.4 124.5,417.3 125.5,417.1 126.5,416.9 127.5,416.7 128.5,416.5 129.5,416.3 130.5,416.1 131.5,416 132.5,416 133.5,416.1 134.5,416.2 135.5,416.4 136.5,416.6 137.5,416.8 138.5,417 139.5,417.1 140.5,417.3 141.5,417.4 142.5,417.6 143.5,417.7 144.5,417.8 145.5,417.9 146.5,418 147.5,418 148.5,417.9 149.5,417.8 150.5,417.6 151.5,417.3 152.5,417.1 153.5,416.8 154.5,416.5 155.5,416.3 156.5,415.9 157.5,415.6 158.5,415.2 159.5,414.7 160.5,414.3 161.5,413.9 162.5,413.5 163.5,413.1 164.5,412.8 165.5,412.6 166.5,412.4 167.5,412.2 168.5,412.1 169.5,411.9 170.5,411.7 171.5,411.5 172.5,411.2 173.5,410.9 174.5,410.4 175.5,409.9 176.5,409.2 177.5,408.5 178.5,407.7 179.5,406.8 180.5,405.5 181.5,403.9 182.5,401.5 183.5,398.3 184.5,394 185.5,387.7 186.5,382.8 187.5,379.3 188.5,375.8 189.5,370.6 190.5,362.8 191.5,353.4 192.5,344.1 193.5,334 194.5,326.8 195.5,324.9 196.5,330.6 197.5,339.6 198.5,351 199.5,364.7 200.5,376 201.5,385 202.5,392 203.5,397.1 204.5,401 205.5,404.1 206.5,406.7 207.5,408.5 208.5,409.8 209.5,411 210.5,412.1 211.5,413 212.5,413.8 213.5,414.5 214.5,415.2 215.5,415.8 216.5,416.4 217.5,416.9 218.5,417.5 219.5,418 220.5,418.4 221.5,418.9 222.5,419.3 223.5,419.7 224.5,420.1 225.5,420.4 226.5,420.7 227.5,420.9 228.5,421 229.5,421.2 230.5,421.3 231.5,421.4 232.5,421.5 233.5,421.6" fill="none" stroke="#ff0000" stroke-width="1.1" stroke-linejoin="round"/></g><text x="75.9" y="335.5" font-size="10.6" font-weight="bold" fill="#000" stroke="#000" stroke-width="0.3" textLength="29" lengthAdjust="spacingAndGlyphs">Ni 2p</text><g clip-path="url(#c31)"><path d="M264,419 L264,418.9 264.5,418.9 265,418.9 265.5,418.9 266,418.9 266.5,418.9 267,418.9 267.5,418.9 268,418.8 268.5,418.8 269,418.8 269.5,418.8 270,418.7 270.5,418.7 271,418.7 271.5,418.6 272,418.6 272.5,418.5 273,418.4 273.5,418.4 274,418.3 274.5,418.2 275,418.1 275.5,418 276,417.9 276.5,417.8 277,417.7 277.5,417.5 278,417.4 278.5,417.2 279,417 279.5,416.8 280,416.6 280.5,416.3 281,416.1 281.5,415.8 282,415.5 282.5,415.1 283,414.8 283.5,414.4 284,414 284.5,413.5 285,413.1 285.5,412.6 286,412 286.5,411.4 287,410.8 287.5,410.2 288,409.5 288.5,408.8 289,408 289.5,407.2 290,406.3 290.5,405.4 291,404.5 291.5,403.5 292,402.5 292.5,401.4 293,400.3 293.5,399.1 294,397.9 294.5,396.7 295,395.4 295.5,394 296,392.7 296.5,391.3 297,389.8 297.5,388.3 298,386.8 298.5,385.3 299,383.7 299.5,382.1 300,380.5 300.5,378.9 301,377.3 301.5,375.6 302,374 302.5,372.4 303,370.7 303.5,369.1 304,367.5 304.5,365.9 305,364.3 305.5,362.8 306,361.3 306.5,359.8 307,358.4 307.5,357 308,355.7 308.5,354.5 309,353.3 309.5,352.1 310,351.1 310.5,350.1 311,349.2 311.5,348.4 312,347.7 312.5,347.1 313,346.5 313.5,346.1 314,345.7 314.5,345.5 315,345.3 315.5,345.3 316,345.3 316.5,345.5 317,345.7 317.5,346.1 318,346.5 318.5,347.1 319,347.7 319.5,348.4 320,349.2 320.5,350.1 321,351.1 321.5,352.1 322,353.3 322.5,354.5 323,355.7 323.5,357 324,358.4 324.5,359.8 325,361.3 325.5,362.8 326,364.3 326.5,365.9 327,367.5 327.5,369.1 328,370.7 328.5,372.4 329,374 329.5,375.6 330,377.3 330.5,378.9 331,380.5 331.5,382.1 332,383.7 332.5,385.3 333,386.8 333.5,388.3 334,389.8 334.5,391.3 335,392.7 335.5,394 336,395.4 336.5,396.7 337,397.9 337.5,399.1 338,400.3 338.5,401.4 339,402.5 339.5,403.5 340,404.5 340.5,405.4 341,406.3 341.5,407.2 342,408 342.5,408.8 343,409.5 343.5,410.2 344,410.8 344.5,411.4 345,412 345.5,412.6 346,413.1 346.5,413.5 347,414 347.5,414.4 348,414.8 348.5,415.1 349,415.5 349.5,415.8 350,416.1 350.5,416.3 351,416.6 351.5,416.8 352,417 352.5,417.2 353,417.4 353.5,417.5 354,417.7 354.5,417.8 355,417.9 355.5,418 356,418.1 356.5,418.2 357,418.3 357.5,418.4 358,418.4 358.5,418.5 359,418.6 359.5,418.6 360,418.7 360.5,418.7 361,418.7 361.5,418.8 362,418.8 362.5,418.8 363,418.8 363.5,418.9 364,418.9 364.5,418.9 365,418.9 365.5,418.9 366,418.9 366.5,418.9 367,418.9 L367,419" fill="#ff8282" stroke="#ff1a1a" stroke-width="1.05" stroke-linejoin="round"/><path d="M258,419 L258,418.3 258.5,418.2 259,418.1 259.5,418.1 260,418 260.5,417.9 261,417.8 261.5,417.7 262,417.6 262.5,417.4 263,417.3 263.5,417.2 264,417 264.5,416.8 265,416.7 265.5,416.5 266,416.3 266.5,416.1 267,415.9 267.5,415.7 268,415.4 268.5,415.2 269,414.9 269.5,414.6 270,414.3 270.5,414 271,413.7 271.5,413.4 272,413.1 272.5,412.7 273,412.3 273.5,411.9 274,411.5 274.5,411.1 275,410.7 275.5,410.3 276,409.8 276.5,409.4 277,408.9 277.5,408.4 278,408 278.5,407.5 279,407 279.5,406.4 280,405.9 280.5,405.4 281,404.9 281.5,404.4 282,403.8 282.5,403.3 283,402.8 283.5,402.3 284,401.7 284.5,401.2 285,400.7 285.5,400.2 286,399.7 286.5,399.3 287,398.8 287.5,398.3 288,397.9 288.5,397.5 289,397.1 289.5,396.7 290,396.3 290.5,396 291,395.7 291.5,395.4 292,395.1 292.5,394.8 293,394.6 293.5,394.4 294,394.3 294.5,394.1 295,394 295.5,394 296,393.9 296.5,393.9 297,393.9 297.5,394 298,394 298.5,394.1 299,394.3 299.5,394.4 300,394.6 300.5,394.8 301,395.1 301.5,395.4 302,395.7 302.5,396 303,396.3 303.5,396.7 304,397.1 304.5,397.5 305,397.9 305.5,398.3 306,398.8 306.5,399.3 307,399.7 307.5,400.2 308,400.7 308.5,401.2 309,401.7 309.5,402.3 310,402.8 310.5,403.3 311,403.8 311.5,404.4 312,404.9 312.5,405.4 313,405.9 313.5,406.4 314,407 314.5,407.5 315,408 315.5,408.4 316,408.9 316.5,409.4 317,409.8 317.5,410.3 318,410.7 318.5,411.1 319,411.5 319.5,411.9 320,412.3 320.5,412.7 321,413.1 321.5,413.4 322,413.7 322.5,414 323,414.3 323.5,414.6 324,414.9 324.5,415.2 325,415.4 325.5,415.7 326,415.9 326.5,416.1 327,416.3 327.5,416.5 328,416.7 328.5,416.8 329,417 329.5,417.2 330,417.3 330.5,417.4 331,417.6 331.5,417.7 332,417.8 332.5,417.9 333,418 333.5,418.1 334,418.1 334.5,418.2 335,418.3 335.5,418.3 336,418.4 336.5,418.5 337,418.5 337.5,418.6 338,418.6 338.5,418.6 339,418.7 339.5,418.7 340,418.7 340.5,418.8 341,418.8 341.5,418.8 342,418.8 342.5,418.8 343,418.9 343.5,418.9 344,418.9 344.5,418.9 345,418.9 345.5,418.9 346,418.9 346.5,418.9 347,418.9 387,419 L387,419" fill="#a3dcf7" stroke="#1f8fe0" stroke-width="1.05" stroke-linejoin="round"/><path d="M258,419 L258,415.6 259.5,415.5 260,415.5 260.5,415.5 261,415.5 261.5,415.5 262,415.5 262.5,415.4 263,415.4 263.5,415.4 264,415.4 264.5,415.4 265,415.4 265.5,415.3 266,415.3 266.5,415.3 267,415.3 267.5,415.3 268,415.3 268.5,415.2 269,415.2 269.5,415.2 270,415.2 270.5,415.2 271,415.2 271.5,415.1 272,415.1 272.5,415.1 273,415.1 273.5,415.1 274,415 274.5,415 275,415 275.5,415 276,415 276.5,415 277,414.9 277.5,414.9 278,414.9 278.5,414.9 279,414.9 279.5,414.8 280,414.8 280.5,414.8 281,414.8 281.5,414.8 282,414.7 282.5,414.7 283,414.7 283.5,414.7 284,414.7 284.5,414.6 285,414.6 285.5,414.6 286,414.6 286.5,414.6 287,414.5 287.5,414.5 288,414.5 288.5,414.5 289,414.4 289.5,414.4 290,414.4 290.5,414.4 291,414.3 291.5,414.3 292,414.3 292.5,414.3 293,414.2 293.5,414.2 294,414.2 294.5,414.1 295,414.1 295.5,414 296,414 296.5,414 297,413.9 297.5,413.9 298,413.8 298.5,413.8 299,413.7 299.5,413.7 300,413.6 300.5,413.5 301,413.4 301.5,413.4 302,413.3 302.5,413.2 303,413.1 303.5,413 304,412.9 304.5,412.8 305,412.7 305.5,412.5 306,412.4 306.5,412.2 307,412.1 307.5,411.9 308,411.7 308.5,411.5 309,411.3 309.5,411.1 310,410.9 310.5,410.7 311,410.4 311.5,410.1 312,409.8 312.5,409.5 313,409.2 313.5,408.9 314,408.5 314.5,408.2 315,407.8 315.5,407.4 316,406.9 316.5,406.5 317,406 317.5,405.5 318,405 318.5,404.5 319,404 319.5,403.4 320,402.8 320.5,402.3 321,401.6 321.5,401 322,400.4 322.5,399.7 323,399 323.5,398.3 324,397.6 324.5,396.9 325,396.2 325.5,395.5 326,394.7 326.5,394 327,393.3 327.5,392.5 328,391.8 328.5,391 329,390.3 329.5,389.5 330,388.8 330.5,388.1 331,387.4 331.5,386.7 332,386 332.5,385.3 333,384.7 333.5,384 334,383.4 334.5,382.9 335,382.3 335.5,381.8 336,381.3 336.5,380.9 337,380.4 337.5,380.1 338,379.7 338.5,379.4 339,379.1 339.5,378.9 340,378.7 340.5,378.6 341,378.5 341.5,378.4 342,378.4 342.5,378.6 343,378.8 343.5,379.2 344,379.7 344.5,380.2 345,380.9 345.5,381.6 346,382.4 346.5,383.3 347,384.3 347.5,385.3 348,386.4 348.5,387.5 349,388.7 349.5,389.9 350,391.1 350.5,392.3 351,393.6 351.5,394.8 352,396 352.5,397.3 353,398.5 353.5,399.6 354,400.8 354.5,401.9 355,403 355.5,404.1 356,405.1 356.5,406.1 357,407 357.5,407.9 358,408.7 358.5,409.5 359,410.3 359.5,411 360,411.7 360.5,412.3 361,412.9 361.5,413.4 362,413.9 362.5,414.4 363,414.8 363.5,415.2 364,415.5 364.5,415.8 365,416.1 365.5,416.4 366,416.6 366.5,416.9 367,417.1 367.5,417.2 368,417.4 368.5,417.5 369,417.7 369.5,417.8 370,417.9 370.5,418 371,418.1 371.5,418.1 372,418.2 372.5,418.3 373,418.3 373.5,418.4 374,418.4 374.5,418.4 375,418.5 375.5,418.5 376,418.5 376.5,418.5 377,418.6 377.5,418.6 378,418.6 378.5,418.6 379,418.6 379.5,418.6 380,418.6 380.5,418.7 381,418.7 381.5,418.7 382,418.7 382.5,418.7 383,418.7 383.5,418.7 384,418.7 384.5,418.7 385,418.7 385.5,418.7 386,418.7 386.5,418.7 387,418.8 L387,419" fill="#a6fb3e" stroke="#8ee82c" stroke-width="1.05" stroke-linejoin="round"/><path d="M243 416h0M243.7 417.2h0M244.4 417.9h0M245.2 418.9h0M245.9 416.6h0M246.6 418.1h0M247.3 417h0M248.1 419.9h0M248.8 417.6h0M249.5 416.9h0M250.2 416.5h0M250.9 417.9h0M251.7 417.3h0M252.4 415.2h0M253.1 416.5h0M253.8 414.6h0M254.6 415.1h0M255.3 414.4h0M256 414.1h0M256.7 414.6h0M257.4 414h0M258.2 415.3h0M258.9 415.3h0M259.6 413.8h0M260.3 412.4h0M261.1 414.1h0M261.8 410.6h0M262.5 410.2h0M263.2 412.7h0M264 412.2h0M264.7 412h0M265.4 410.2h0M266.1 408.5h0M266.8 408.8h0M267.6 409.3h0M268.3 407.2h0M269 406.6h0M269.7 405.1h0M270.5 404.6h0M271.2 406h0M271.9 404.8h0M272.6 402.2h0M273.3 401.4h0M274.1 401.2h0M274.8 401.6h0M275.5 398.9h0M276.2 399.1h0M277 396.1h0M277.7 396.2h0M278.4 397.2h0M279.1 396.8h0M279.8 393.6h0M280.6 393.1h0M281.3 393.8h0M282 391.4h0M282.7 390.2h0M283.5 390.2h0M284.2 388.6h0M284.9 388.3h0M285.6 386.6h0M286.3 383.7h0M287.1 382.7h0M287.8 381.2h0M288.5 378.3h0M289.2 377.1h0M290 377.6h0M290.7 373.1h0M291.4 374.2h0M292.1 371.5h0M292.9 369.2h0M293.6 367.9h0M294.3 365.9h0M295 364.7h0M295.7 360.9h0M296.5 359.1h0M297.2 357.2h0M297.9 357.5h0M298.6 354.5h0M299.4 350.3h0M300.1 348.9h0M300.8 346.5h0M301.5 345.4h0M302.2 343.8h0M303 344.4h0M303.7 338.2h0M304.4 339.8h0M305.1 337.6h0M305.9 334.9h0M306.6 334.1h0M307.3 332.4h0M308 331.8h0M308.7 331.7h0M309.5 327.9h0M310.2 329.9h0M310.9 326.9h0M311.6 327.9h0M312.4 325.9h0M313.1 326.1h0M313.8 325.1h0M314.5 325.7h0M315.2 324.8h0M316 324.2h0M316.7 326.4h0M317.4 327.1h0M318.1 329.4h0M318.9 325.6h0M319.6 328.4h0M320.3 330.6h0M321 329h0M321.8 331.2h0M322.5 335.1h0M323.2 335.6h0M323.9 334.5h0M324.6 338.4h0M325.4 339.6h0M326.1 340.5h0M326.8 341.4h0M327.5 342.6h0M328.3 342.8h0M329 344.7h0M329.7 347.5h0M330.4 348.2h0M331.1 351.5h0M331.9 350.5h0M332.6 349.5h0M333.3 353h0M334 354.9h0M334.8 356.3h0M335.5 357.2h0M336.2 357.4h0M336.9 361.2h0M337.6 360.1h0M338.4 362.9h0M339.1 363.1h0M339.8 363.5h0M340.5 367.7h0M341.3 364.7h0M342 368h0M342.7 370.8h0M343.4 371.5h0M344.1 374.2h0M344.9 375h0M345.6 376.3h0M346.3 381h0M347 380.3h0M347.8 382.2h0M348.5 383.1h0M349.2 385.3h0M349.9 388.6h0M350.7 390.3h0M351.4 391.4h0M352.1 392.5h0M352.8 395.8h0M353.5 394.9h0M354.3 398h0M355 399.7h0M355.7 400.5h0M356.4 403h0M357.2 403.4h0M357.9 404.6h0M358.6 408.7h0M359.3 408.7h0M360 410.3h0M360.8 410h0M361.5 411.9h0M362.2 412.3h0M362.9 413.4h0M363.7 415.2h0M364.4 412.9h0M365.1 413.9h0M365.8 414h0M366.5 410.6h0M367.3 413.3h0M368 415.2h0M368.7 416.2h0M369.4 415.1h0M370.2 417.2h0M370.9 417.5h0M371.6 415.8h0M372.3 418h0M373 418.5h0M373.8 417.2h0M374.5 415.7h0M375.2 418.5h0M375.9 416.8h0M376.7 416.6h0M377.4 417.2h0M378.1 416.6h0M378.8 418.5h0M379.6 418.2h0M380.3 418.8h0M381 418.2h0M381.7 416.8h0M382.4 417.7h0M383.2 419h0M383.9 417.7h0M384.6 421.6h0M385.3 418.4h0M386.1 418.4h0M386.8 420.6h0M387.5 420.6h0" stroke="#000" stroke-width="2.2" stroke-linecap="round" fill="none"/><polyline points="243,417.7 244,417.7 245,417.6 246,417.6 247,417.4 248,417.3 249,417.2 250,417 251,416.8 252,416.6 253,416.4 254,416.1 255,415.9 256,415.6 257,415.3 258,414.9 259,414.4 260,413.9 261,413.3 262,412.7 263,412.1 264,411.5 265,410.8 266,410.1 267,409.3 268,408.4 269,407.4 270,406.4 271,405.3 272,404.2 273,403.1 274,401.9 275,400.8 276,399.7 277,398.5 278,397.3 279,396 280,394.7 281,393.4 282,391.9 283,390.4 284,388.7 285,387 286,385 287,383 288,380.9 289,378.7 290,376.5 291,374.1 292,371.6 293,369 294,366.2 295,363.5 296,360.7 297,358 298,355.3 299,352.4 300,349.6 301,346.8 302,344.2 303,341.8 304,339.6 305,337.5 306,335.4 307,333.6 308,331.8 309,330.3 310,328.8 311,327.2 312,325.9 313,324.9 314,324.5 315,324.7 316,325.2 317,326 318,327 319,328 320,329.1 321,330.4 322,331.9 323,333.7 324,335.7 325,337.6 326,339.5 327,341.4 328,343.3 329,345.3 330,347.3 331,349.2 332,351.1 333,352.9 334,354.6 335,356.3 336,358 337,359.7 338,361.5 339,363.3 340,365.2 341,367 342,369 343,371 344,373.1 345,375.4 346,377.9 347,380.4 348,383 349,385.6 350,388.1 351,390.5 352,393 353,395.5 354,397.8 355,400 356,402 357,403.9 358,405.7 359,407.4 360,409 361,410.3 362,411.3 363,412.1 364,412.9 365,413.6 366,414.2 367,414.7 368,415.2 369,415.6 370,415.9 371,416.1 372,416.4 373,416.5 374,416.7 375,416.8 376,416.9 377,417.1 378,417.2 379,417.3 380,417.4 381,417.6 382,417.8 383,418 384,418.2 385,418.5 386,419 387,419.5 388,420" fill="none" stroke="#ff0000" stroke-width="1.1" stroke-linejoin="round"/></g><text x="236.8" y="333.6" font-size="10.6" font-weight="bold" fill="#000" stroke="#000" stroke-width="0.3" textLength="29" lengthAdjust="spacingAndGlyphs">Cr 2p</text><g clip-path="url(#c32)"><path d="M401.5,420.9 L401.5,420.8 402,420.8 402.5,420.8 403,420.8 403.5,420.8 404,420.8 404.5,420.8 405,420.7 405.5,420.7 406,420.7 406.5,420.7 407,420.6 407.5,420.6 408,420.5 408.5,420.5 409,420.4 409.5,420.3 410,420.3 410.5,420.2 411,420.1 411.5,420 412,419.9 412.5,419.8 413,419.7 413.5,419.5 414,419.4 414.5,419.2 415,419 415.5,418.8 416,418.6 416.5,418.4 417,418.2 417.5,417.9 418,417.7 418.5,417.4 419,417.1 419.5,416.8 420,416.5 420.5,416.1 421,415.8 421.5,415.4 422,415 422.5,414.7 423,414.3 423.5,413.9 424,413.5 424.5,413.1 425,412.6 425.5,412.2 426,411.8 426.5,411.4 427,411 427.5,410.6 428,410.2 428.5,409.8 429,409.5 429.5,409.1 430,408.8 430.5,408.5 431,408.2 431.5,408 432,407.8 432.5,407.6 433,407.4 433.5,407.2 434,407.1 434.5,407.1 435,407 435.5,407 436,407 436.5,407.1 437,407.2 437.5,407.3 438,407.4 438.5,407.6 439,407.8 439.5,408.1 440,408.3 440.5,408.6 441,408.9 441.5,409.3 442,409.6 442.5,410 443,410.4 443.5,410.8 444,411.2 444.5,411.6 445,412 445.5,412.4 446,412.8 446.5,413.2 447,413.6 447.5,414 448,414.4 448.5,414.8 449,415.2 449.5,415.6 450,415.9 450.5,416.3 451,416.6 451.5,416.9 452,417.2 452.5,417.5 453,417.8 453.5,418 454,418.3 454.5,418.5 455,418.7 455.5,418.9 456,419.1 456.5,419.3 457,419.4 457.5,419.6 458,419.7 458.5,419.8 459,419.9 459.5,420.1 460,420.1 460.5,420.2 461,420.3 461.5,420.4 462,420.4 462.5,420.5 463,420.5 463.5,420.6 464,420.6 464.5,420.7 465,420.7 465.5,420.7 466,420.7 466.5,420.8 467,420.8 467.5,420.8 468,420.8 468.5,420.8 469,420.8 469.5,420.8 L469.5,420.9" fill="#a3dcf7" stroke="#1f8fe0" stroke-width="1.05" stroke-linejoin="round"/><path d="M398,420.9 L398,420.8 400,420.8 402,420.8 404,420.8 406,420.8 408,420.8 410,420.8 412,420.8 414,420.7 416,420.7 418,420.7 420,420.7 422,420.7 424,420.7 426,420.6 428,420.6 430,420.6 430.5,420.6 431,420.6 431.5,420.5 432,420.5 432.5,420.5 433,420.5 433.5,420.5 434,420.5 434.5,420.5 435,420.5 435.5,420.5 436,420.4 436.5,420.4 437,420.4 437.5,420.4 438,420.4 438.5,420.4 439,420.3 439.5,420.3 440,420.3 440.5,420.3 441,420.2 441.5,420.2 442,420.2 442.5,420.2 443,420.1 443.5,420.1 444,420.1 444.5,420 445,420 445.5,419.9 446,419.9 446.5,419.8 447,419.7 447.5,419.6 448,419.5 448.5,419.4 449,419.3 449.5,419.2 450,419 450.5,418.8 451,418.6 451.5,418.3 452,418.1 452.5,417.7 453,417.4 453.5,417 454,416.5 454.5,416 455,415.5 455.5,414.8 456,414.2 456.5,413.4 457,412.7 457.5,411.8 458,410.9 458.5,410 459,409 459.5,408 460,407 460.5,406 461,405 461.5,404 462,403.1 462.5,402.2 463,401.4 463.5,400.7 464,400.2 464.5,399.8 465,399.6 465.5,399.5 466,399.6 466.5,399.9 467,400.4 467.5,401 468,401.7 468.5,402.5 469,403.4 469.5,404.4 470,405.4 470.5,406.4 471,407.4 471.5,408.4 472,409.4 472.5,410.4 473,411.3 473.5,412.2 474,413 474.5,413.7 475,414.4 475.5,415.1 476,415.7 476.5,416.2 477,416.7 477.5,417.1 478,417.5 478.5,417.9 479,418.2 479.5,418.4 480,418.7 480.5,418.9 481,419.1 481.5,419.2 482,419.3 482.5,419.5 483,419.6 483.5,419.7 484,419.7 484.5,419.8 485,419.9 485.5,419.9 486,420 486.5,420 487,420.1 487.5,420.1 488,420.1 488.5,420.2 489,420.2 489.5,420.2 490,420.3 490.5,420.3 491,420.3 491.5,420.3 492,420.3 492.5,420.4 493,420.4 493.5,420.4 494,420.4 494.5,420.4 495,420.4 495.5,420.5 496,420.5 496.5,420.5 497,420.5 497.5,420.5 498,420.5 498.5,420.5 499,420.5 499.5,420.6 500,420.6 502,420.6 504,420.6 506,420.7 508,420.7 510,420.7 512,420.7 514,420.7 516,420.7 518,420.8 520,420.8 522,420.8 524,420.8 526,420.8 528,420.8 530,420.8 532,420.8 534,420.8 536,420.8 538,420.8 540,420.8 542,420.8 544,420.8 546,420.8 548,420.8 560,420.9 L560,420.9" fill="#a3dcf7" stroke="#1f8fe0" stroke-width="1.05" stroke-linejoin="round"/><path d="M398,420.9 L398,420.8 400,420.8 402,420.8 404,420.8 406,420.8 408,420.8 410,420.8 412,420.8 414,420.8 416,420.8 418,420.8 420,420.8 422,420.8 424,420.8 426,420.8 428,420.8 430,420.7 432,420.7 434,420.7 436,420.7 438,420.7 440,420.7 442,420.6 444,420.6 446,420.6 448,420.5 450,420.5 451,420.5 451.5,420.5 452,420.4 452.5,420.4 453,420.4 453.5,420.4 454,420.4 454.5,420.4 455,420.4 455.5,420.3 456,420.3 456.5,420.3 457,420.3 457.5,420.2 458,420.2 458.5,420.2 459,420.2 459.5,420.1 460,420.1 460.5,420.1 461,420 461.5,420 462,420 462.5,419.9 463,419.9 463.5,419.8 464,419.7 464.5,419.7 465,419.6 465.5,419.5 466,419.4 466.5,419.2 467,419.1 467.5,418.9 468,418.7 468.5,418.5 469,418.2 469.5,417.9 470,417.5 470.5,417 471,416.5 471.5,415.9 472,415.2 472.5,414.4 473,413.5 473.5,412.5 474,411.3 474.5,410.1 475,408.7 475.5,407.3 476,405.7 476.5,404 477,402.2 477.5,400.4 478,398.5 478.5,396.6 479,394.7 479.5,392.9 480,391.1 480.5,389.4 481,387.9 481.5,386.6 482,385.6 482.5,384.8 483,384.4 483.5,384.3 484,384.5 484.5,385.1 485,386 485.5,387.1 486,388.5 486.5,390.1 487,391.8 487.5,393.6 488,395.5 488.5,397.4 489,399.3 489.5,401.1 490,403 490.5,404.7 491,406.3 491.5,407.9 492,409.3 492.5,410.6 493,411.8 493.5,412.9 494,413.8 494.5,414.7 495,415.5 495.5,416.1 496,416.7 496.5,417.2 497,417.6 497.5,418 498,418.3 498.5,418.6 499,418.8 499.5,419 500,419.2 500.5,419.3 501,419.4 501.5,419.5 502,419.6 502.5,419.7 503,419.8 503.5,419.8 504,419.9 504.5,419.9 505,420 505.5,420 506,420.1 506.5,420.1 507,420.1 507.5,420.2 508,420.2 508.5,420.2 509,420.2 509.5,420.3 510,420.3 510.5,420.3 511,420.3 511.5,420.3 512,420.4 512.5,420.4 513,420.4 513.5,420.4 514,420.4 514.5,420.4 515,420.5 515.5,420.5 516,420.5 518,420.5 520,420.6 522,420.6 524,420.6 526,420.7 528,420.7 530,420.7 532,420.7 534,420.7 536,420.7 538,420.7 540,420.8 542,420.8 544,420.8 546,420.8 548,420.8 550,420.8 552,420.8 554,420.8 556,420.8 558,420.8 560,420.8 L560,420.9" fill="#fcd596" stroke="#f5ad42" stroke-width="1.05" stroke-linejoin="round"/><path d="M398,420.9 L398,420.8 400,420.8 402,420.8 404,420.8 406,420.8 408,420.8 410,420.8 412,420.8 414,420.8 416,420.8 418,420.8 420,420.8 422,420.8 424,420.8 426,420.7 428,420.7 430,420.7 432,420.7 434,420.7 436,420.7 438,420.7 440,420.7 442,420.7 444,420.7 446,420.6 448,420.6 450,420.6 452,420.6 454,420.6 456,420.5 458,420.5 460,420.5 462,420.5 464,420.4 466,420.4 468,420.3 470,420.3 472,420.2 474,420.2 474.5,420.1 475,420.1 475.5,420.1 476,420.1 476.5,420.1 477,420 477.5,420 478,420 478.5,420 479,419.9 479.5,419.9 480,419.9 480.5,419.9 481,419.8 481.5,419.8 482,419.8 482.5,419.7 483,419.7 483.5,419.7 484,419.6 484.5,419.6 485,419.5 485.5,419.5 486,419.4 486.5,419.4 487,419.3 487.5,419.3 488,419.2 488.5,419.1 489,419 489.5,419 490,418.9 490.5,418.8 491,418.6 491.5,418.5 492,418.4 492.5,418.2 493,418 493.5,417.8 494,417.5 494.5,417.3 495,416.9 495.5,416.6 496,416.2 496.5,415.7 497,415.2 497.5,414.5 498,413.9 498.5,413.1 499,412.2 499.5,411.3 500,410.2 500.5,409 501,407.7 501.5,406.2 502,404.7 502.5,403 503,401.1 503.5,399.2 504,397.1 504.5,394.9 505,392.6 505.5,390.1 506,387.6 506.5,385.1 507,382.4 507.5,379.8 508,377.2 508.5,374.6 509,372 509.5,369.6 510,367.3 510.5,365.2 511,363.3 511.5,361.6 512,360.3 512.5,359.3 513,358.7 513.5,358.4 514,358.5 514.5,359 515,359.9 515.5,361.1 516,362.6 516.5,364.4 517,366.4 517.5,368.6 518,371 518.5,373.5 519,376.1 519.5,378.7 520,381.4 520.5,384 521,386.6 521.5,389.2 522,391.6 522.5,394 523,396.2 523.5,398.4 524,400.4 524.5,402.3 525,404 525.5,405.6 526,407.1 526.5,408.5 527,409.7 527.5,410.8 528,411.8 528.5,412.8 529,413.6 529.5,414.3 530,414.9 530.5,415.5 531,416 531.5,416.4 532,416.8 532.5,417.1 533,417.4 533.5,417.7 534,417.9 534.5,418.1 535,418.3 535.5,418.4 536,418.6 536.5,418.7 537,418.8 537.5,418.9 538,419 538.5,419.1 539,419.2 539.5,419.2 540,419.3 540.5,419.4 541,419.4 541.5,419.5 542,419.5 542.5,419.6 543,419.6 543.5,419.6 544,419.7 544.5,419.7 545,419.8 545.5,419.8 546,419.8 546.5,419.9 547,419.9 547.5,419.9 548,419.9 548.5,420 549,420 549.5,420 550,420 550.5,420.1 551,420.1 551.5,420.1 552,420.1 552.5,420.1 553,420.2 553.5,420.2 554,420.2 556,420.3 558,420.3 560,420.4 L560,420.9" fill="#fcd596" stroke="#f5ad42" stroke-width="1.05" stroke-linejoin="round"/><path d="M398,420.9 L398,420.8 400,420.8 402,420.8 404,420.8 406,420.8 408,420.8 410,420.8 412,420.8 414,420.7 416,420.7 418,420.7 420,420.7 422,420.7 424,420.7 426,420.6 428,420.6 430,420.6 432,420.5 433,420.5 433.5,420.5 434,420.5 434.5,420.5 435,420.5 435.5,420.5 436,420.4 436.5,420.4 437,420.4 437.5,420.4 438,420.4 438.5,420.4 439,420.3 439.5,420.3 440,420.3 440.5,420.3 441,420.2 441.5,420.2 442,420.2 442.5,420.2 443,420.1 443.5,420.1 444,420.1 444.5,420 445,420 445.5,419.9 446,419.9 446.5,419.8 447,419.8 447.5,419.7 448,419.6 448.5,419.5 449,419.4 449.5,419.3 450,419.2 450.5,419 451,418.9 451.5,418.7 452,418.5 452.5,418.2 453,417.9 453.5,417.6 454,417.3 454.5,416.8 455,416.4 455.5,415.9 456,415.3 456.5,414.7 457,414 457.5,413.3 458,412.5 458.5,411.6 459,410.7 459.5,409.8 460,408.8 460.5,407.8 461,406.8 461.5,405.9 462,404.9 462.5,404 463,403.2 463.5,402.5 464,401.9 464.5,401.5 465,401.3 465.5,401.3 466,401.5 466.5,401.9 467,402.4 467.5,403.1 468,403.8 468.5,404.7 469,405.7 469.5,406.6 470,407.6 470.5,408.6 471,409.6 471.5,410.6 472,411.5 472.5,412.3 473,413.1 473.5,413.9 474,414.6 474.5,415.2 475,415.8 475.5,416.3 476,416.8 476.5,417.2 477,417.6 477.5,417.9 478,418.2 478.5,418.4 479,418.6 479.5,418.8 480,419 480.5,419.2 481,419.3 481.5,419.4 482,419.5 482.5,419.6 483,419.7 483.5,419.7 484,419.8 484.5,419.9 485,419.9 485.5,420 486,420 486.5,420.1 487,420.1 487.5,420.1 488,420.2 488.5,420.2 489,420.2 489.5,420.2 490,420.3 490.5,420.3 491,420.3 491.5,420.3 492,420.4 492.5,420.4 493,420.4 493.5,420.4 494,420.4 494.5,420.4 495,420.5 495.5,420.5 496,420.5 496.5,420.5 497,420.5 497.5,420.5 498,420.5 500,420.6 502,420.6 504,420.6 506,420.7 508,420.7 510,420.7 512,420.7 514,420.7 516,420.7 518,420.8 520,420.8 522,420.8 524,420.8 526,420.8 528,420.8 530,420.8 532,420.8 534,420.8 536,420.8 538,420.8 540,420.8 542,420.8 544,420.8 546,420.8 548,420.8 560,420.9 L560,420.9" fill="#ff8282" stroke="#ff1a1a" stroke-width="1.05" stroke-linejoin="round"/><path d="M398,420.9 L398,420.8 400,420.8 402,420.8 404,420.8 406,420.8 408,420.8 410,420.8 412,420.8 414,420.8 416,420.8 418,420.8 420,420.8 422,420.7 424,420.7 426,420.7 428,420.7 430,420.7 432,420.7 434,420.7 436,420.7 438,420.6 440,420.6 442,420.6 444,420.6 446,420.6 448,420.5 449.5,420.5 450,420.5 450.5,420.5 451,420.5 451.5,420.5 452,420.5 452.5,420.4 453,420.4 453.5,420.4 454,420.4 454.5,420.4 455,420.4 455.5,420.4 456,420.4 456.5,420.4 457,420.3 457.5,420.3 458,420.3 458.5,420.3 459,420.3 459.5,420.3 460,420.2 460.5,420.2 461,420.2 461.5,420.2 462,420.2 462.5,420.1 463,420.1 463.5,420.1 464,420.1 464.5,420 465,420 465.5,420 466,419.9 466.5,419.9 467,419.8 467.5,419.8 468,419.8 468.5,419.7 469,419.6 469.5,419.6 470,419.5 470.5,419.4 471,419.3 471.5,419.2 472,419.1 472.5,419 473,418.8 473.5,418.6 474,418.4 474.5,418.2 475,418 475.5,417.7 476,417.4 476.5,417.1 477,416.7 477.5,416.3 478,415.9 478.5,415.4 479,414.8 479.5,414.2 480,413.6 480.5,412.9 481,412.1 481.5,411.3 482,410.4 482.5,409.5 483,408.5 483.5,407.5 484,406.4 484.5,405.3 485,404.1 485.5,403 486,401.7 486.5,400.5 487,399.2 487.5,398 488,396.7 488.5,395.5 489,394.3 489.5,393.1 490,392.1 490.5,391.1 491,390.1 491.5,389.3 492,388.7 492.5,388.1 493,387.7 493.5,387.5 494,387.4 494.5,387.5 495,387.7 495.5,388.1 496,388.7 496.5,389.3 497,390.1 497.5,391.1 498,392.1 498.5,393.1 499,394.3 499.5,395.5 500,396.7 500.5,398 501,399.2 501.5,400.5 502,401.7 502.5,403 503,404.1 503.5,405.3 504,406.4 504.5,407.5 505,408.5 505.5,409.5 506,410.4 506.5,411.3 507,412.1 507.5,412.9 508,413.6 508.5,414.2 509,414.8 509.5,415.4 510,415.9 510.5,416.3 511,416.7 511.5,417.1 512,417.4 512.5,417.7 513,418 513.5,418.2 514,418.4 514.5,418.6 515,418.8 515.5,419 516,419.1 516.5,419.2 517,419.3 517.5,419.4 518,419.5 518.5,419.6 519,419.6 519.5,419.7 520,419.8 520.5,419.8 521,419.8 521.5,419.9 522,419.9 522.5,420 523,420 523.5,420 524,420.1 524.5,420.1 525,420.1 525.5,420.1 526,420.2 526.5,420.2 527,420.2 527.5,420.2 528,420.2 528.5,420.3 529,420.3 529.5,420.3 530,420.3 530.5,420.3 531,420.3 531.5,420.4 532,420.4 532.5,420.4 533,420.4 533.5,420.4 534,420.4 534.5,420.4 535,420.4 535.5,420.4 536,420.5 536.5,420.5 537,420.5 537.5,420.5 538,420.5 538.5,420.5 540,420.5 542,420.6 544,420.6 546,420.6 548,420.6 550,420.6 552,420.7 554,420.7 556,420.7 558,420.7 560,420.7 L560,420.9" fill="#ff8282" stroke="#ff1a1a" stroke-width="1.05" stroke-linejoin="round"/><path d="M398,420.9 L398,420.8 400,420.8 402,420.8 404,420.8 406,420.8 408,420.8 410,420.8 412,420.8 414,420.8 416,420.7 418,420.7 420,420.7 422,420.7 424,420.6 424.5,420.6 425,420.6 425.5,420.6 426,420.6 426.5,420.6 427,420.6 427.5,420.5 428,420.5 428.5,420.5 429,420.5 429.5,420.5 430,420.5 430.5,420.4 431,420.4 431.5,420.4 432,420.4 432.5,420.3 433,420.3 433.5,420.3 434,420.2 434.5,420.2 435,420.1 435.5,420.1 436,420 436.5,419.9 437,419.9 437.5,419.7 438,419.6 438.5,419.4 439,419.3 439.5,419 440,418.8 440.5,418.4 441,418 441.5,417.6 442,417.1 442.5,416.5 443,415.8 443.5,415.1 444,414.2 444.5,413.3 445,412.3 445.5,411.2 446,410.1 446.5,408.9 447,407.7 447.5,406.5 448,405.4 448.5,404.3 449,403.4 449.5,402.6 450,402 450.5,401.6 451,401.5 451.5,401.6 452,402 452.5,402.6 453,403.4 453.5,404.3 454,405.4 454.5,406.5 455,407.7 455.5,408.9 456,410.1 456.5,411.2 457,412.3 457.5,413.3 458,414.2 458.5,415.1 459,415.8 459.5,416.5 460,417.1 460.5,417.6 461,418 461.5,418.4 462,418.8 462.5,419 463,419.3 463.5,419.4 464,419.6 464.5,419.7 465,419.9 465.5,419.9 466,420 466.5,420.1 467,420.1 467.5,420.2 468,420.2 468.5,420.3 469,420.3 469.5,420.3 470,420.4 470.5,420.4 471,420.4 471.5,420.4 472,420.5 472.5,420.5 473,420.5 473.5,420.5 474,420.5 474.5,420.5 475,420.6 475.5,420.6 476,420.6 476.5,420.6 477,420.6 477.5,420.6 478,420.6 480,420.7 482,420.7 484,420.7 486,420.7 488,420.8 490,420.8 492,420.8 494,420.8 496,420.8 498,420.8 500,420.8 502,420.8 504,420.8 506,420.8 508,420.8 560,420.9 L560,420.9" fill="#a3a3f7" stroke="#2222ee" stroke-width="1.05" stroke-linejoin="round"/><path d="M410,420.9 L410,420.8 412,420.8 414,420.8 416,420.8 418,420.8 420,420.8 422,420.8 424,420.8 426,420.8 428,420.8 430,420.8 432,420.8 434,420.8 436,420.8 438,420.7 440,420.7 442,420.7 444,420.7 446,420.7 448,420.6 450,420.6 452,420.6 454,420.5 455,420.5 455.5,420.5 456,420.5 456.5,420.4 457,420.4 457.5,420.4 458,420.4 458.5,420.4 459,420.3 459.5,420.3 460,420.3 460.5,420.3 461,420.2 461.5,420.2 462,420.2 462.5,420.1 463,420.1 463.5,420.1 464,420 464.5,420 465,419.9 465.5,419.8 466,419.8 466.5,419.7 467,419.6 467.5,419.4 468,419.3 468.5,419.1 469,418.9 469.5,418.7 470,418.4 470.5,418.1 471,417.6 471.5,417.1 472,416.6 472.5,415.9 473,415.1 473.5,414.2 474,413.2 474.5,412 475,410.7 475.5,409.3 476,407.8 476.5,406.1 477,404.4 477.5,402.7 478,400.9 478.5,399.1 479,397.3 479.5,395.7 480,394.3 480.5,393.1 481,392.2 481.5,391.6 482,391.4 482.5,391.6 483,392.2 483.5,393.1 484,394.3 484.5,395.7 485,397.3 485.5,399.1 486,400.9 486.5,402.7 487,404.4 487.5,406.1 488,407.8 488.5,409.3 489,410.7 489.5,412 490,413.2 490.5,414.2 491,415.1 491.5,415.9 492,416.6 492.5,417.1 493,417.6 493.5,418.1 494,418.4 494.5,418.7 495,418.9 495.5,419.1 496,419.3 496.5,419.4 497,419.6 497.5,419.7 498,419.8 498.5,419.8 499,419.9 499.5,420 500,420 500.5,420.1 501,420.1 501.5,420.1 502,420.2 502.5,420.2 503,420.2 503.5,420.3 504,420.3 504.5,420.3 505,420.3 505.5,420.4 506,420.4 506.5,420.4 507,420.4 507.5,420.4 508,420.5 508.5,420.5 509,420.5 510,420.5 512,420.6 514,420.6 516,420.6 518,420.7 520,420.7 522,420.7 524,420.7 526,420.7 528,420.8 530,420.8 532,420.8 534,420.8 536,420.8 538,420.8 540,420.8 542,420.8 544,420.8 546,420.8 548,420.8 550,420.8 552,420.8 554,420.8 L554,420.9" fill="#a3a3f7" stroke="#2222ee" stroke-width="1.05" stroke-linejoin="round"/><path d="M483,420.9 L483,420.9 483.5,420.8 484,420.7 484.5,420.6 485,420.3 485.5,419.9 486,419.3 486.5,418.4 487,417.1 487.5,415.4 488,413.3 488.5,410.6 489,407.6 489.5,404.3 490,401 490.5,398 491,395.5 491.5,393.8 492,393 492.5,393.3 493,394.7 493.5,396.9 494,399.8 494.5,403 495,406.3 495.5,409.4 496,412.3 496.5,414.6 497,416.5 497.5,417.9 498,419 498.5,419.7 499,420.2 499.5,420.5 500,420.7 500.5,420.8 501,420.8 501.5,420.9 L501.5,420.9" fill="#a6fb3e" stroke="#8ee82c" stroke-width="1.05" stroke-linejoin="round"/><path d="M512.5,420.9 L512.5,420.9 513,420.8 513.5,420.8 514,420.6 514.5,420.4 515,420.1 515.5,419.6 516,418.8 516.5,417.7 517,416.1 517.5,413.9 518,411.1 518.5,407.7 519,403.5 519.5,398.8 520,393.7 520.5,388.6 521,383.7 521.5,379.4 522,376.1 522.5,374.2 523,373.7 523.5,374.8 524,377.3 524.5,381 525,385.6 525.5,390.6 526,395.8 526.5,400.7 527,405.2 527.5,409.1 528,412.3 528.5,414.9 529,416.8 529.5,418.2 530,419.2 530.5,419.8 531,420.3 531.5,420.5 532,420.7 532.5,420.8 533,420.8 L533,420.9" fill="#a6fb3e" stroke="#8ee82c" stroke-width="1.05" stroke-linejoin="round"/><rect x="398" y="420.9" width="162" height="1.6" fill="#a6fb3e"/><path d="M399 421.8h0M399.5 421.1h0M400 421.5h0M400.5 421.7h0M401 421.4h0M401.5 420.1h0M401.9 420.7h0M402.4 421h0M402.9 420.8h0M403.4 416.4h0M403.9 418.7h0M404.4 418.7h0M404.9 419.2h0M405.4 419.6h0M405.9 420.3h0M406.4 419.9h0M406.8 419h0M407.3 419h0M407.8 420.8h0M408.3 418.1h0M408.8 419h0M409.3 420.2h0M409.8 418.7h0M410.3 416h0M410.8 418.5h0M411.3 417.5h0M411.7 417.6h0M412.2 418.7h0M412.7 417.9h0M413.2 416.9h0M413.7 418h0M414.2 417.4h0M414.7 416.8h0M415.2 416.9h0M415.7 416.6h0M416.2 415.8h0M416.6 415.4h0M417.1 415.8h0M417.6 414.5h0M418.1 413.9h0M418.6 416.5h0M419.1 414.6h0M419.6 414.6h0M420.1 414.2h0M420.6 414.1h0M421.1 413.9h0M421.5 413.6h0M422 412.4h0M422.5 414h0M423 411.9h0M423.5 413.4h0M424 409.8h0M424.5 410.4h0M425 412.3h0M425.5 410.7h0M426 409.7h0M426.4 410.5h0M426.9 408.6h0M427.4 409.4h0M427.9 406.5h0M428.4 408h0M428.9 407.4h0M429.4 408.3h0M429.9 408.3h0M430.4 406h0M430.9 408.3h0M431.3 405.4h0M431.8 403.4h0M432.3 402.6h0M432.8 406.5h0M433.3 404.3h0M433.8 403.3h0M434.3 402.7h0M434.8 401.9h0M435.3 404.1h0M435.8 402.1h0M436.2 403.7h0M436.7 401h0M437.2 398.1h0M437.7 401.1h0M438.2 399.2h0M438.7 398.9h0M439.2 400.3h0M439.7 397.7h0M440.2 398.7h0M440.7 396.8h0M441.1 395.3h0M441.6 395.9h0M442.1 393.9h0M442.6 395.2h0M443.1 394.1h0M443.6 392.2h0M444.1 392h0M444.6 391.2h0M445.1 389.4h0M445.6 389.9h0M446 387.9h0M446.5 388.1h0M447 385.7h0M447.5 386.2h0M448 385.9h0M448.5 383.9h0M449 383.7h0M449.5 382.9h0M450 383.7h0M450.5 381.4h0M450.9 382.1h0M451.4 382.8h0M451.9 381h0M452.4 378.3h0M452.9 379.8h0M453.4 380.4h0M453.9 378.6h0M454.4 379.8h0M454.9 379h0M455.4 378.4h0M455.8 377.4h0M456.3 376.9h0M456.8 376.9h0M457.3 377h0M457.8 377.2h0M458.3 376.8h0M458.8 375.8h0M459.3 375.9h0M459.8 376h0M460.3 373.5h0M460.7 374.1h0M461.2 373.8h0M461.7 374.2h0M462.2 373.9h0M462.7 373.6h0M463.2 372.7h0M463.7 374.1h0M464.2 373.4h0M464.7 371h0M465.2 372.5h0M465.6 370.9h0M466.1 373.7h0M466.6 371h0M467.1 370.7h0M467.6 370.9h0M468.1 370.2h0M468.6 369.9h0M469.1 371.3h0M469.6 369.4h0M470.1 369.6h0M470.5 369.4h0M471 366.5h0M471.5 368.7h0M472 366.9h0M472.5 366.1h0M473 362.7h0M473.5 362.8h0M474 360.5h0M474.5 357.4h0M475 358.4h0M475.4 354.3h0M475.9 350.7h0M476.4 348.3h0M476.9 346.2h0M477.4 343.8h0M477.9 341.1h0M478.4 340.1h0M478.9 338.6h0M479.4 334h0M479.9 333.3h0M480.3 331.5h0M480.8 331.5h0M481.3 332.2h0M481.8 331h0M482.3 329.1h0M482.8 330.1h0M483.3 331.8h0M483.8 330.4h0M484.3 331.1h0M484.8 331.7h0M485.2 329.4h0M485.7 332.1h0M486.2 331.3h0M486.7 331.1h0M487.2 328.9h0M487.7 328.6h0M488.2 328.3h0M488.7 328.4h0M489.2 327.2h0M489.7 326.3h0M490.1 327.2h0M490.6 326.1h0M491.1 323.8h0M491.6 324.9h0M492.1 329.6h0M492.6 330.2h0M493.1 335.3h0M493.6 338.8h0M494.1 339.2h0M494.6 342.4h0M495 345.8h0M495.5 347.8h0M496 350.6h0M496.5 354h0M497 357.8h0M497.5 358.4h0M498 360.7h0M498.5 362.4h0M499 363.1h0M499.5 367.7h0M499.9 364.5h0M500.4 367.2h0M500.9 369.4h0M501.4 368h0M501.9 370.8h0M502.4 371.9h0M502.9 369.8h0M503.4 370.9h0M503.9 369.3h0M504.4 370.7h0M504.8 369.8h0M505.3 369.5h0M505.8 370.2h0M506.3 368.6h0M506.8 369h0M507.3 367.5h0M507.8 364.6h0M508.3 365.1h0M508.8 364.2h0M509.3 360.7h0M509.7 362.5h0M510.2 359.7h0M510.7 358.8h0M511.2 356.2h0M511.7 356.3h0M512.2 355.8h0M512.7 354.4h0M513.2 354.2h0M513.7 351.2h0M514.2 354.5h0M514.6 351.3h0M515.1 349.6h0M515.6 350.4h0M516.1 350h0M516.6 351h0M517.1 348.9h0M517.6 349.8h0M518.1 348h0M518.6 351h0M519.1 348.6h0M519.5 349.4h0M520 345.2h0M520.5 345.4h0M521 341.2h0M521.5 340.2h0M522 338h0M522.5 333.3h0M523 332.5h0M523.5 333.4h0M524 335.8h0M524.4 340.5h0M524.9 344.7h0M525.4 350.1h0M525.9 360.4h0M526.4 370.1h0M526.9 376h0M527.4 382.5h0M527.9 388.1h0M528.4 392.3h0M528.9 395.5h0M529.3 400.4h0M529.8 403.6h0M530.3 406.3h0M530.8 407.9h0M531.3 412.4h0M531.8 413.7h0M532.3 412.4h0M532.8 413.6h0M533.3 415.8h0M533.8 414.3h0M534.2 416.2h0M534.7 416.4h0M535.2 416.1h0M535.7 417h0M536.2 415.9h0M536.7 417.3h0M537.2 416h0M537.7 421h0M538.2 420.4h0M538.7 420.3h0M539.1 419.5h0M539.6 420.5h0M540.1 421h0M540.6 421h0M541.1 421h0M541.6 419.2h0M542.1 420.8h0M542.6 419.9h0M543.1 419.3h0M543.6 419.4h0M544 421.3h0M544.5 422h0M545 419.4h0M545.5 422.9h0M546 422.6h0M546.5 420.6h0M547 420.6h0M547.5 421h0M548 422.2h0M548.5 420.8h0M548.9 420h0M549.4 421.6h0M549.9 419h0M550.4 421.5h0M550.9 422.6h0M551.4 421.7h0M551.9 422.2h0M552.4 422h0M552.9 422.2h0M553.4 421.6h0M553.8 420.6h0M554.3 421.2h0M554.8 421.4h0M555.3 422.9h0M555.8 423.3h0M556.3 422h0M556.8 420.7h0M557.3 420.8h0M557.8 421.4h0M558.3 423.1h0M558.7 422h0M559.2 421.5h0" stroke="#000" stroke-width="2.2" stroke-linecap="round" fill="none"/><polyline points="399,421.8 400,421 401,420.6 402,420.2 403,419.9 404,419.7 405,419.5 406,419.3 407,419.1 408,418.8 409,418.6 410,418.3 411,418 412,417.6 413,417.3 414,417 415,416.6 416,416.2 417,415.8 418,415.4 419,414.9 420,414.4 421,413.9 422,413.3 423,412.6 424,411.9 425,411.2 426,410.4 427,409.6 428,408.8 429,408 430,407.2 431,406.4 432,405.5 433,404.7 434,403.8 435,402.9 436,401.9 437,400.9 438,399.9 439,398.8 440,397.6 441,396.3 442,394.8 443,393.2 444,391.5 445,389.8 446,388.2 447,386.8 448,385.4 449,384.1 450,382.8 451,381.6 452,380.5 453,379.6 454,378.8 455,378.2 456,377.6 457,377 458,376.5 459,376 460,375.4 461,374.8 462,374.3 463,373.7 464,373.2 465,372.6 466,371.9 467,371.2 468,370.4 469,369.6 470,368.7 471,367.6 472,366.1 473,363.6 474,359.9 475,355.7 476,350.5 477,344.7 478,340 479,336.6 480,333.4 481,331.1 482,330.2 483,330.5 484,331.1 485,331.4 486,331 487,330.2 488,329.1 489,327.5 490,325.5 491,324.5 492,327.2 493,333.2 494,339.5 495,345.4 496,351.6 497,356.8 498,361 499,364.7 500,367.2 501,368.9 502,370.2 503,370.7 504,370.4 505,369.6 506,368.4 507,367.2 508,365.5 509,363 510,360.3 511,357.7 512,355.7 513,354.3 514,353.2 515,352.1 516,351 517,350 518,349.1 519,348 520,346.4 521,342.3 522,337.2 523,333.7 524,337.8 525,346.4 526,361.9 527,378.8 528,389.3 529,397.3 530,403.7 531,409 532,412.3 533,414.1 534,415.5 535,416.6 536,417.5 537,418.1 538,418.6 539,419.1 540,419.6 541,420 542,420.3 543,420.6 544,420.8 545,420.9 546,421 547,421.1 548,421.1 549,421.2 550,421.3 551,421.3 552,421.4 553,421.4 554,421.5 555,421.5 556,421.5 557,421.6 558,421.6 559,421.6" fill="none" stroke="#ff0000" stroke-width="1.1" stroke-linejoin="round"/></g><text x="401.2" y="332.7" font-size="10.6" font-weight="bold" fill="#000" stroke="#000" stroke-width="0.3" textLength="33.1" lengthAdjust="spacingAndGlyphs">Mo 3d</text><g clip-path="url(#c33)"><path d="M596,421.6 L596,421.5 596.5,421.5 597,421.5 597.5,421.5 598,421.4 598.5,421.4 599,421.3 599.5,421.2 600,421.1 600.5,421 601,420.9 601.5,420.7 602,420.5 602.5,420.3 603,420 603.5,419.6 604,419.2 604.5,418.7 605,418.2 605.5,417.5 606,416.8 606.5,416 607,415.1 607.5,414 608,412.9 608.5,411.7 609,410.3 609.5,408.9 610,407.4 610.5,405.8 611,404.1 611.5,402.3 612,400.5 612.5,398.7 613,396.8 613.5,395 614,393.2 614.5,391.5 615,389.9 615.5,388.4 616,387.1 616.5,385.9 617,384.9 617.5,384.1 618,383.5 618.5,383.1 619,383 619.5,383.1 620,383.5 620.5,384.1 621,384.9 621.5,385.9 622,387.1 622.5,388.4 623,389.9 623.5,391.5 624,393.2 624.5,395 625,396.8 625.5,398.7 626,400.5 626.5,402.3 627,404.1 627.5,405.8 628,407.4 628.5,408.9 629,410.3 629.5,411.7 630,412.9 630.5,414 631,415.1 631.5,416 632,416.8 632.5,417.5 633,418.2 633.5,418.7 634,419.2 634.5,419.6 635,420 635.5,420.3 636,420.5 636.5,420.7 637,420.9 637.5,421 638,421.1 638.5,421.2 639,421.3 639.5,421.4 640,421.4 640.5,421.5 641,421.5 641.5,421.5 642,421.5 L642,421.6" fill="#c2a777" stroke="#977424" stroke-width="1.05" stroke-linejoin="round"/><path d="M631,421.6 L631,421.5 631.5,421.5 632,421.5 632.5,421.5 633,421.4 633.5,421.4 634,421.3 634.5,421.3 635,421.2 635.5,421.1 636,420.9 636.5,420.8 637,420.6 637.5,420.4 638,420.1 638.5,419.8 639,419.4 639.5,418.9 640,418.4 640.5,417.8 641,417.1 641.5,416.3 642,415.4 642.5,414.3 643,413.2 643.5,411.9 644,410.5 644.5,409 645,407.3 645.5,405.5 646,403.5 646.5,401.4 647,399.2 647.5,396.9 648,394.5 648.5,392.1 649,389.5 649.5,387 650,384.5 650.5,381.9 651,379.5 651.5,377.1 652,374.9 652.5,372.8 653,370.9 653.5,369.1 654,367.7 654.5,366.5 655,365.5 655.5,364.9 656,364.6 656.5,364.5 657,364.8 657.5,365.4 658,366.3 658.5,367.4 659,368.8 659.5,370.5 660,372.4 660.5,374.4 661,376.6 661.5,379 662,381.4 662.5,383.9 663,386.5 663.5,389 664,391.6 664.5,394 665,396.4 665.5,398.8 666,401 666.5,403.1 667,405.1 667.5,406.9 668,408.6 668.5,410.2 669,411.6 669.5,412.9 670,414.1 670.5,415.2 671,416.1 671.5,416.9 672,417.6 672.5,418.3 673,418.8 673.5,419.3 674,419.7 674.5,420 675,420.3 675.5,420.5 676,420.7 676.5,420.9 677,421 677.5,421.2 678,421.3 678.5,421.3 679,421.4 679.5,421.4 680,421.5 680.5,421.5 681,421.5 681.5,421.5 L681.5,421.6" fill="#c2a777" stroke="#977424" stroke-width="1.05" stroke-linejoin="round"/><path d="M573.5,421.6 L573.5,421.5 574,421.5 574.5,421.5 575,421.5 575.5,421.5 576,421.5 576.5,421.5 577,421.5 577.5,421.4 578,421.4 578.5,421.4 579,421.3 579.5,421.3 580,421.3 580.5,421.2 581,421.2 581.5,421.1 582,421.1 582.5,421 583,420.9 583.5,420.8 584,420.7 584.5,420.6 585,420.5 585.5,420.4 586,420.3 586.5,420.1 587,420 587.5,419.8 588,419.6 588.5,419.4 589,419.2 589.5,418.9 590,418.7 590.5,418.4 591,418.1 591.5,417.8 592,417.5 592.5,417.1 593,416.8 593.5,416.4 594,416 594.5,415.5 595,415.1 595.5,414.6 596,414.1 596.5,413.6 597,413.1 597.5,412.5 598,412 598.5,411.4 599,410.8 599.5,410.2 600,409.6 600.5,408.9 601,408.3 601.5,407.7 602,407 602.5,406.4 603,405.8 603.5,405.1 604,404.5 604.5,403.9 605,403.3 605.5,402.7 606,402.1 606.5,401.5 607,401 607.5,400.5 608,400 608.5,399.6 609,399.2 609.5,398.8 610,398.5 610.5,398.2 611,397.9 611.5,397.7 612,397.5 612.5,397.4 613,397.3 613.5,397.3 614,397.3 614.5,397.4 615,397.5 615.5,397.6 616,397.8 616.5,398.1 617,398.3 617.5,398.7 618,399 618.5,399.4 619,399.9 619.5,400.3 620,400.8 620.5,401.3 621,401.9 621.5,402.4 622,403 622.5,403.6 623,404.2 623.5,404.9 624,405.5 624.5,406.1 625,406.8 625.5,407.4 626,408.1 626.5,408.7 627,409.3 627.5,409.9 628,410.6 628.5,411.2 629,411.7 629.5,412.3 630,412.9 630.5,413.4 631,413.9 631.5,414.4 632,414.9 632.5,415.4 633,415.8 633.5,416.2 634,416.6 634.5,417 635,417.3 635.5,417.7 636,418 636.5,418.3 637,418.6 637.5,418.8 638,419.1 638.5,419.3 639,419.5 639.5,419.7 640,419.9 640.5,420 641,420.2 641.5,420.3 642,420.5 642.5,420.6 643,420.7 643.5,420.8 644,420.9 644.5,421 645,421 645.5,421.1 646,421.2 646.5,421.2 647,421.3 647.5,421.3 648,421.3 648.5,421.4 649,421.4 649.5,421.4 650,421.4 650.5,421.5 651,421.5 651.5,421.5 652,421.5 652.5,421.5 653,421.5 653.5,421.5 L653.5,421.6" fill="#ff8282" stroke="#ff1a1a" stroke-width="1.05" stroke-linejoin="round"/><path d="M610.5,421.6 L610.5,421.5 611,421.5 611.5,421.5 612,421.5 612.5,421.5 613,421.5 613.5,421.5 614,421.4 614.5,421.4 615,421.4 615.5,421.4 616,421.3 616.5,421.3 617,421.2 617.5,421.2 618,421.1 618.5,421 619,421 619.5,420.9 620,420.8 620.5,420.7 621,420.5 621.5,420.4 622,420.3 622.5,420.1 623,419.9 623.5,419.7 624,419.5 624.5,419.2 625,419 625.5,418.7 626,418.4 626.5,418 627,417.7 627.5,417.3 628,416.9 628.5,416.4 629,415.9 629.5,415.4 630,414.8 630.5,414.2 631,413.6 631.5,412.9 632,412.2 632.5,411.5 633,410.7 633.5,409.9 634,409.1 634.5,408.2 635,407.3 635.5,406.4 636,405.4 636.5,404.4 637,403.4 637.5,402.4 638,401.3 638.5,400.3 639,399.2 639.5,398.1 640,397 640.5,396 641,394.9 641.5,393.8 642,392.8 642.5,391.8 643,390.8 643.5,389.8 644,388.9 644.5,388 645,387.2 645.5,386.4 646,385.7 646.5,385 647,384.4 647.5,383.9 648,383.5 648.5,383.1 649,382.8 649.5,382.5 650,382.4 650.5,382.3 651,382.3 651.5,382.4 652,382.6 652.5,382.8 653,383.1 653.5,383.5 654,384 654.5,384.6 655,385.2 655.5,385.8 656,386.6 656.5,387.4 657,388.2 657.5,389.1 658,390 658.5,391 659,392 659.5,393 660,394 660.5,395.1 661,396.2 661.5,397.2 662,398.3 662.5,399.4 663,400.5 663.5,401.5 664,402.6 664.5,403.6 665,404.6 665.5,405.6 666,406.6 666.5,407.5 667,408.4 667.5,409.3 668,410.1 668.5,410.9 669,411.6 669.5,412.4 670,413.1 670.5,413.7 671,414.3 671.5,414.9 672,415.5 672.5,416 673,416.5 673.5,416.9 674,417.4 674.5,417.8 675,418.1 675.5,418.4 676,418.8 676.5,419 677,419.3 677.5,419.5 678,419.8 678.5,419.9 679,420.1 679.5,420.3 680,420.4 680.5,420.6 681,420.7 681.5,420.8 682,420.9 682.5,421 683,421.1 683.5,421.1 684,421.2 684.5,421.2 685,421.3 685.5,421.3 686,421.4 686.5,421.4 687,421.4 687.5,421.4 688,421.5 688.5,421.5 689,421.5 689.5,421.5 690,421.5 690.5,421.5 L690.5,421.6" fill="#ff8282" stroke="#ff1a1a" stroke-width="1.05" stroke-linejoin="round"/><path d="M572,421.6 L572,420.1 572.5,420 573,419.9 573.5,419.8 574,419.7 574.5,419.6 575,419.5 575.5,419.4 576,419.3 576.5,419.2 577,419 577.5,418.9 578,418.8 578.5,418.7 579,418.6 579.5,418.4 580,418.3 580.5,418.2 581,418 581.5,417.9 582,417.8 582.5,417.7 583,417.6 583.5,417.4 584,417.3 584.5,417.2 585,417.1 585.5,417 586,416.9 586.5,416.8 587,416.8 587.5,416.7 588,416.6 588.5,416.5 589,416.5 589.5,416.4 590,416.4 590.5,416.4 591,416.3 591.5,416.3 592,416.3 592.5,416.3 593,416.3 593.5,416.3 594,416.3 594.5,416.4 595,416.4 595.5,416.5 596,416.5 596.5,416.6 597,416.6 597.5,416.7 598,416.8 598.5,416.9 599,417 599.5,417.1 600,417.2 600.5,417.3 601,417.4 601.5,417.5 602,417.6 602.5,417.7 603,417.9 603.5,418 604,418.1 604.5,418.2 605,418.4 605.5,418.5 606,418.6 606.5,418.7 607,418.9 607.5,419 608,419.1 608.5,419.2 609,419.3 609.5,419.4 610,419.6 610.5,419.7 611,419.8 611.5,419.9 612,420 612.5,420.1 613,420.2 613.5,420.3 614,420.3 614.5,420.4 615,420.5 615.5,420.6 616,420.6 616.5,420.7 617,420.8 617.5,420.8 618,420.9 618.5,421 619,421 619.5,421 620,421.1 620.5,421.1 621,421.2 621.5,421.2 622,421.2 622.5,421.3 623,421.3 623.5,421.3 624,421.4 624.5,421.4 625,421.4 625.5,421.4 626,421.4 626.5,421.5 627,421.5 627.5,421.5 628,421.5 628.5,421.5 629,421.5 629.5,421.5 630,421.5 630.5,421.5 631,421.5 718,421.6 L718,421.6" fill="#a3dcf7" stroke="#1f8fe0" stroke-width="1.05" stroke-linejoin="round"/><path d="M609.5,421.6 L609.5,421.5 610,421.5 610.5,421.5 611,421.5 611.5,421.5 612,421.5 612.5,421.5 613,421.4 613.5,421.4 614,421.4 614.5,421.3 615,421.3 615.5,421.2 616,421.2 616.5,421.1 617,421 617.5,420.9 618,420.9 618.5,420.8 619,420.6 619.5,420.5 620,420.4 620.5,420.3 621,420.1 621.5,419.9 622,419.8 622.5,419.6 623,419.4 623.5,419.2 624,418.9 624.5,418.7 625,418.5 625.5,418.2 626,418 626.5,417.7 627,417.4 627.5,417.2 628,416.9 628.5,416.6 629,416.3 629.5,416.1 630,415.8 630.5,415.6 631,415.3 631.5,415.1 632,414.9 632.5,414.7 633,414.6 633.5,414.4 634,414.3 634.5,414.2 635,414.1 635.5,414 636,414 636.5,414 637,414 637.5,414.1 638,414.2 638.5,414.3 639,414.4 639.5,414.5 640,414.7 640.5,414.9 641,415.1 641.5,415.3 642,415.5 642.5,415.8 643,416 643.5,416.3 644,416.6 644.5,416.8 645,417.1 645.5,417.4 646,417.6 646.5,417.9 647,418.2 647.5,418.4 648,418.7 648.5,418.9 649,419.1 649.5,419.3 650,419.5 650.5,419.7 651,419.9 651.5,420.1 652,420.2 652.5,420.4 653,420.5 653.5,420.6 654,420.7 654.5,420.8 655,420.9 655.5,421 656,421.1 656.5,421.2 657,421.2 657.5,421.3 658,421.3 658.5,421.4 659,421.4 659.5,421.4 660,421.4 660.5,421.5 661,421.5 661.5,421.5 662,421.5 662.5,421.5 663,421.5 L663,421.6" fill="#a3dcf7" stroke="#1f8fe0" stroke-width="1.05" stroke-linejoin="round"/><path d="M646,421.6 L646,421.6 646.5,421.5 647,421.5 647.5,421.5 648,421.4 648.5,421.4 649,421.3 649.5,421.2 650,421.1 650.5,420.9 651,420.7 651.5,420.5 652,420.2 652.5,419.9 653,419.5 653.5,419 654,418.5 654.5,417.9 655,417.3 655.5,416.7 656,415.9 656.5,415.2 657,414.5 657.5,413.7 658,413 658.5,412.3 659,411.7 659.5,411.1 660,410.7 660.5,410.3 661,410.1 661.5,410 662,410 662.5,410.2 663,410.5 663.5,410.9 664,411.4 664.5,412 665,412.7 665.5,413.4 666,414.2 666.5,414.9 667,415.7 667.5,416.4 668,417.1 668.5,417.7 669,418.3 669.5,418.8 670,419.3 670.5,419.7 671,420.1 671.5,420.4 672,420.6 672.5,420.8 673,421 673.5,421.1 674,421.3 674.5,421.3 675,421.4 675.5,421.5 676,421.5 676.5,421.5 677,421.5 L677,421.6" fill="#fcd596" stroke="#f5ad42" stroke-width="1.05" stroke-linejoin="round"/><path d="M681,421.6 L681,421.6 681.5,421.5 682,421.5 682.5,421.5 683,421.4 683.5,421.4 684,421.3 684.5,421.2 685,421.1 685.5,420.9 686,420.7 686.5,420.5 687,420.2 687.5,419.9 688,419.5 688.5,419 689,418.5 689.5,417.8 690,417.1 690.5,416.4 691,415.5 691.5,414.6 692,413.6 692.5,412.6 693,411.5 693.5,410.4 694,409.3 694.5,408.2 695,407.2 695.5,406.2 696,405.4 696.5,404.6 697,404 697.5,403.5 698,403.2 698.5,403.1 699,403.2 699.5,403.4 700,403.8 700.5,404.3 701,405 701.5,405.9 702,406.8 702.5,407.8 703,408.9 703.5,409.9 704,411 704.5,412.1 705,413.2 705.5,414.2 706,415.2 706.5,416 707,416.8 707.5,417.6 708,418.2 708.5,418.8 709,419.3 709.5,419.7 710,420.1 710.5,420.4 711,420.6 711.5,420.8 712,421 712.5,421.2 713,421.3 713.5,421.3 714,421.4 714.5,421.5 715,421.5 715.5,421.5 716,421.5 L716,421.6" fill="#fcd596" stroke="#f5ad42" stroke-width="1.05" stroke-linejoin="round"/><rect x="575" y="420.2" width="143" height="1.6" fill="#fcd596"/><path d="M562 419.4h0M562.7 421h0M563.4 420.3h0M564.1 420h0M564.8 420.4h0M565.5 422.3h0M566.1 420.5h0M566.8 422.8h0M567.5 422.5h0M568.2 421.4h0M568.9 422.5h0M569.6 421.4h0M570.3 420.7h0M571 421.3h0M571.7 420.5h0M572.4 422h0M573 421.4h0M573.7 421.9h0M574.4 422.1h0M575.1 417.6h0M575.8 421.3h0M576.5 418.8h0M577.2 420.8h0M577.9 419.5h0M578.6 420.4h0M579.3 421.7h0M579.9 418.1h0M580.6 420.1h0M581.3 419.6h0M582 417.4h0M582.7 419.9h0M583.4 419h0M584.1 418.1h0M584.8 417.6h0M585.5 421.7h0M586.2 417.4h0M586.8 415.5h0M587.5 416.1h0M588.2 416.4h0M588.9 416h0M589.6 415.9h0M590.3 414.5h0M591 415.8h0M591.7 414.2h0M592.4 412.8h0M593.1 412.8h0M593.7 412.8h0M594.4 413.5h0M595.1 412.5h0M595.8 410.9h0M596.5 410.6h0M597.2 410h0M597.9 411.2h0M598.6 407.3h0M599.3 407.5h0M600 406.6h0M600.6 403.5h0M601.3 403.5h0M602 402h0M602.7 399.8h0M603.4 399.1h0M604.1 397.6h0M604.8 395.6h0M605.5 392h0M606.2 390.1h0M606.9 389.9h0M607.5 383.2h0M608.2 381.7h0M608.9 379.5h0M609.6 375.9h0M610.3 373.8h0M611 370.4h0M611.7 368.3h0M612.4 366.6h0M613.1 363.5h0M613.8 362.9h0M614.4 361.7h0M615.1 360.7h0M615.8 360.8h0M616.5 359.6h0M617.2 362h0M617.9 363.5h0M618.6 364.1h0M619.3 364.4h0M620 363.5h0M620.7 368.6h0M621.3 368.7h0M622 371.9h0M622.7 376.6h0M623.4 376.1h0M624.1 381.1h0M624.8 383.2h0M625.5 385.2h0M626.2 386.4h0M626.9 389.6h0M627.6 390.4h0M628.2 393.6h0M628.9 395.1h0M629.6 393.2h0M630.3 394.6h0M631 395.2h0M631.7 394.5h0M632.4 394.8h0M633.1 396.2h0M633.8 395.7h0M634.5 393.8h0M635.1 394.5h0M635.8 394.9h0M636.5 392.3h0M637.2 391.7h0M637.9 393.1h0M638.6 391h0M639.3 385.6h0M640 383.5h0M640.7 382.8h0M641.4 378.4h0M642 376.2h0M642.7 372.3h0M643.4 369.6h0M644.1 362.3h0M644.8 358.9h0M645.5 356.4h0M646.2 355.3h0M646.9 350.4h0M647.6 345.2h0M648.3 344.4h0M648.9 341.6h0M649.6 337.8h0M650.3 335h0M651 333.4h0M651.7 332.2h0M652.4 329.6h0M653.1 328.6h0M653.8 326.7h0M654.5 325.2h0M655.2 323.9h0M655.8 324.8h0M656.5 324.4h0M657.2 325.4h0M657.9 328.2h0M658.6 329.6h0M659.3 332.2h0M660 332.9h0M660.7 339.8h0M661.4 343.5h0M662.1 348.1h0M662.7 352.9h0M663.4 360.3h0M664.1 365h0M664.8 368.5h0M665.5 373.3h0M666.2 380h0M666.9 384.9h0M667.6 392h0M668.3 392.5h0M669 395.5h0M669.6 400.5h0M670.3 403.6h0M671 406.2h0M671.7 408.9h0M672.4 412h0M673.1 410.7h0M673.8 411.9h0M674.5 411.7h0M675.2 415h0M675.9 416.4h0M676.5 415.7h0M677.2 417.6h0M677.9 416.5h0M678.6 418.2h0M679.3 417h0M680 415.6h0M680.7 416.1h0M681.4 415.2h0M682.1 415h0M682.8 417.1h0M683.4 417.6h0M684.1 418.4h0M684.8 415.8h0M685.5 415.2h0M686.2 413.7h0M686.9 415.5h0M687.6 414.3h0M688.3 412.6h0M689 413.4h0M689.7 412.5h0M690.3 409h0M691 410.9h0M691.7 409.4h0M692.4 407.9h0M693.1 407h0M693.8 408.6h0M694.5 407.7h0M695.2 407.2h0M695.9 403.2h0M696.6 403.1h0M697.2 404.3h0M697.9 401.8h0M698.6 402.6h0M699.3 402.3h0M700 407.6h0M700.7 408.3h0M701.4 409.2h0M702.1 410.4h0M702.8 411.3h0M703.5 413.3h0M704.1 416.4h0M704.8 416.7h0M705.5 420.1h0M706.2 418.8h0M706.9 418.7h0M707.6 421.3h0M708.3 419.9h0M709 420.9h0M709.7 420h0M710.4 418.1h0M711 421.3h0M711.7 419.4h0M712.4 422.2h0M713.1 419.4h0M713.8 419.2h0M714.5 421.7h0M715.2 422h0M715.9 421.7h0" stroke="#000" stroke-width="2.2" stroke-linecap="round" fill="none"/><polyline points="562,420.2 563,420 564,420.1 565,420.3 566,420.6 567,421 568,421.3 569,421.5 570,421.6 571,421.6 572,421.5 573,421.4 574,421.3 575,421.1 576,420.9 577,420.7 578,420.5 579,420.2 580,420 581,419.7 582,419.4 583,419.1 584,418.7 585,418.3 586,417.9 587,417.4 588,416.9 589,416.4 590,415.8 591,415.2 592,414.5 593,413.8 594,413 595,412.1 596,411.1 597,410 598,408.8 599,407.4 600,405.7 601,403.9 602,401.9 603,399.6 604,396.8 605,393.7 606,390.4 607,386.7 608,382.5 609,378.2 610,374.2 611,370.2 612,366.4 613,363.8 614,362.3 615,361.2 616,360.8 617,361 618,361.7 619,362.6 620,364.7 621,368.2 622,371.9 623,375.7 624,379.8 625,383.7 626,386.9 627,389.5 628,392 629,393.9 630,395 631,395.6 632,395.9 633,396.1 634,395.8 635,395.2 636,394.2 637,393 638,391.2 639,388.3 640,384.9 641,381.1 642,376.7 643,371.3 644,365.7 645,360.3 646,355.1 647,349.9 648,345 649,340.6 650,336.6 651,332.9 652,330.2 653,328.2 654,326.3 655,325 656,324.5 657,325.3 658,327.4 659,330.2 660,334.8 661,341.6 662,348.7 663,355.8 664,363.2 665,370.7 666,378.5 667,386.3 668,392.7 669,397.8 670,402.3 671,406 672,408.8 673,410.9 674,412.9 675,414.5 676,415.6 677,416.2 678,416.4 679,416.6 680,416.8 681,416.9 682,416.9 683,416.8 684,416.4 685,415.8 686,415.1 687,414.3 688,413.5 689,412.6 690,411.4 691,410.2 692,408.8 693,407.6 694,406.5 695,405.4 696,404.3 697,403.4 698,403.1 699,403.8 700,405.6 701,407.8 702,410 703,412.4 704,415.3 705,417.8 706,419.2 707,419.7 708,420 709,420.3 710,420.5 711,420.7 712,420.9 713,421.1 714,421.3 715,421.5 716,421.6" fill="none" stroke="#ff0000" stroke-width="1.1" stroke-linejoin="round"/></g><text x="563.7" y="333.6" font-size="10.6" font-weight="bold" fill="#000" stroke="#000" stroke-width="0.3" textLength="31.9" lengthAdjust="spacingAndGlyphs">Nb 3d</text><text x="569.7" y="374.2" font-size="10.3" fill="#161616" stroke="#161616" stroke-width="0.15" textLength="14.6" lengthAdjust="spacingAndGlyphs">Nb</text><text x="584.8" y="370" font-size="10.3" fill="#161616" stroke="#161616" stroke-width="0.15" textLength="12.2" lengthAdjust="spacingAndGlyphs">+5</text><text x="570.4" y="386.9" font-size="10.3" fill="#161616" stroke="#161616" stroke-width="0.15" textLength="26.6" lengthAdjust="spacingAndGlyphs">oxide</text><line x1="594.7" y1="390.4" x2="602.1" y2="403.1" stroke="#222" stroke-width="1"/><text x="674.3" y="345.3" font-size="10.3" fill="#161616" stroke="#161616" stroke-width="0.15" textLength="14.5" lengthAdjust="spacingAndGlyphs">Nb</text><text x="689.3" y="341.2" font-size="10.3" fill="#161616" stroke="#161616" stroke-width="0.15" textLength="12.7" lengthAdjust="spacingAndGlyphs">+4</text><text x="674.8" y="358" font-size="10.3" fill="#161616" stroke="#161616" stroke-width="0.15" textLength="26.8" lengthAdjust="spacingAndGlyphs">oxide</text><line x1="674.3" y1="353.4" x2="659.3" y2="362.1" stroke="#222" stroke-width="1"/><path d="M71.5 7.5V426.5M234.8 7.5V426.5M397.5 7.5V426.5M560.5 7.5V426.5M723.5 7.5V426.5M71.5 7.5H723.5M71.5 112H723.5M71.5 216.5H723.5M71.5 321.5H723.5M71.5 426.5H723.5M83.7 1.1V7.5M83.7 106V118M83.7 210.5V222.5M83.7 315.5V327.5M83.7 426.5V432.8M123.4 1.1V7.5M123.4 106V118M123.4 210.5V222.5M123.4 315.5V327.5M123.4 426.5V432.8M163.1 1.1V7.5M163.1 106V118M163.1 210.5V222.5M163.1 315.5V327.5M163.1 426.5V432.8M202.9 1.1V7.5M202.9 106V118M202.9 210.5V222.5M202.9 315.5V327.5M202.9 426.5V432.8M103.6 4.1V7.5M103.6 109V115M103.6 213.5V219.5M103.6 318.5V324.5M103.6 426.5V430.1M143.3 4.1V7.5M143.3 109V115M143.3 213.5V219.5M143.3 318.5V324.5M143.3 426.5V430.1M183 4.1V7.5M183 109V115M183 213.5V219.5M183 318.5V324.5M183 426.5V430.1M222.7 4.1V7.5M222.7 109V115M222.7 213.5V219.5M222.7 318.5V324.5M222.7 426.5V430.1M258.1 1.1V7.5M258.1 106V118M258.1 210.5V222.5M258.1 315.5V327.5M258.1 426.5V432.8M287 1.1V7.5M287 106V118M287 210.5V222.5M287 315.5V327.5M287 426.5V432.8M315.9 1.1V7.5M315.9 106V118M315.9 210.5V222.5M315.9 315.5V327.5M315.9 426.5V432.8M344.8 1.1V7.5M344.8 106V118M344.8 210.5V222.5M344.8 315.5V327.5M344.8 426.5V432.8M373.7 1.1V7.5M373.7 106V118M373.7 210.5V222.5M373.7 315.5V327.5M373.7 426.5V432.8M405.6 1.1V7.5M405.6 106V118M405.6 210.5V222.5M405.6 315.5V327.5M405.6 426.5V432.8M444.8 1.1V7.5M444.8 106V118M444.8 210.5V222.5M444.8 315.5V327.5M444.8 426.5V432.8M484 1.1V7.5M484 106V118M484 210.5V222.5M484 315.5V327.5M484 426.5V432.8M523.2 1.1V7.5M523.2 106V118M523.2 210.5V222.5M523.2 315.5V327.5M523.2 426.5V432.8M425.2 4.1V7.5M425.2 109V115M425.2 213.5V219.5M425.2 318.5V324.5M425.2 426.5V430.1M464.4 4.1V7.5M464.4 109V115M464.4 213.5V219.5M464.4 318.5V324.5M464.4 426.5V430.1M503.6 4.1V7.5M503.6 109V115M503.6 213.5V219.5M503.6 318.5V324.5M503.6 426.5V430.1M542.8 4.1V7.5M542.8 109V115M542.8 213.5V219.5M542.8 318.5V324.5M542.8 426.5V430.1M576.1 1.1V7.5M576.1 106V118M576.1 210.5V222.5M576.1 315.5V327.5M576.1 426.5V432.8M603.7 1.1V7.5M603.7 106V118M603.7 210.5V222.5M603.7 315.5V327.5M603.7 426.5V432.8M631.3 1.1V7.5M631.3 106V118M631.3 210.5V222.5M631.3 315.5V327.5M631.3 426.5V432.8M658.9 1.1V7.5M658.9 106V118M658.9 210.5V222.5M658.9 315.5V327.5M658.9 426.5V432.8M686.5 1.1V7.5M686.5 106V118M686.5 210.5V222.5M686.5 315.5V327.5M686.5 426.5V432.8M714.1 1.1V7.5M714.1 106V118M714.1 210.5V222.5M714.1 315.5V327.5M714.1 426.5V432.8" stroke="#262626" stroke-width="1.2" fill="none" stroke-linecap="square"/><path d="M71.5 112H723.5 M234.8 7.5V426.5" stroke="#262626" stroke-width="1.7" fill="none"/><text x="83.7" y="443.7" font-size="8.3" font-weight="normal" fill="#333" text-anchor="middle" textLength="13.3" lengthAdjust="spacingAndGlyphs">864</text><text x="123.4" y="443.7" font-size="8.3" font-weight="normal" fill="#333" text-anchor="middle" textLength="13.3" lengthAdjust="spacingAndGlyphs">860</text><text x="163.1" y="443.7" font-size="8.3" font-weight="normal" fill="#333" text-anchor="middle" textLength="13.3" lengthAdjust="spacingAndGlyphs">856</text><text x="202.9" y="443.7" font-size="8.3" font-weight="normal" fill="#333" text-anchor="middle" textLength="13.3" lengthAdjust="spacingAndGlyphs">852</text><text x="153" y="454.9" font-size="8.3" font-weight="normal" fill="#333" text-anchor="middle" textLength="70.6" lengthAdjust="spacingAndGlyphs">Binding Energy [eV]</text><text x="258.1" y="443.7" font-size="8.3" font-weight="normal" fill="#333" text-anchor="middle" textLength="13.3" lengthAdjust="spacingAndGlyphs">580</text><text x="287" y="443.7" font-size="8.3" font-weight="normal" fill="#333" text-anchor="middle" textLength="13.3" lengthAdjust="spacingAndGlyphs">578</text><text x="315.9" y="443.7" font-size="8.3" font-weight="normal" fill="#333" text-anchor="middle" textLength="13.3" lengthAdjust="spacingAndGlyphs">576</text><text x="344.8" y="443.7" font-size="8.3" font-weight="normal" fill="#333" text-anchor="middle" textLength="13.3" lengthAdjust="spacingAndGlyphs">574</text><text x="373.7" y="443.7" font-size="8.3" font-weight="normal" fill="#333" text-anchor="middle" textLength="13.3" lengthAdjust="spacingAndGlyphs">572</text><text x="316.1" y="454.9" font-size="8.3" font-weight="normal" fill="#333" text-anchor="middle" textLength="70.6" lengthAdjust="spacingAndGlyphs">Binding Energy [eV]</text><text x="405.6" y="443.7" font-size="8.3" font-weight="normal" fill="#333" text-anchor="middle" textLength="13.3" lengthAdjust="spacingAndGlyphs">240</text><text x="444.8" y="443.7" font-size="8.3" font-weight="normal" fill="#333" text-anchor="middle" textLength="13.3" lengthAdjust="spacingAndGlyphs">236</text><text x="484" y="443.7" font-size="8.3" font-weight="normal" fill="#333" text-anchor="middle" textLength="13.3" lengthAdjust="spacingAndGlyphs">232</text><text x="523.2" y="443.7" font-size="8.3" font-weight="normal" fill="#333" text-anchor="middle" textLength="13.3" lengthAdjust="spacingAndGlyphs">228</text><text x="478.6" y="454.9" font-size="8.3" font-weight="normal" fill="#333" text-anchor="middle" textLength="70.6" lengthAdjust="spacingAndGlyphs">Binding Energy [eV]</text><text x="576.1" y="443.7" font-size="8.3" font-weight="normal" fill="#333" text-anchor="middle" textLength="13.3" lengthAdjust="spacingAndGlyphs">212</text><text x="603.7" y="443.7" font-size="8.3" font-weight="normal" fill="#333" text-anchor="middle" textLength="13.3" lengthAdjust="spacingAndGlyphs">210</text><text x="631.3" y="443.7" font-size="8.3" font-weight="normal" fill="#333" text-anchor="middle" textLength="13.3" lengthAdjust="spacingAndGlyphs">208</text><text x="658.9" y="443.7" font-size="8.3" font-weight="normal" fill="#333" text-anchor="middle" textLength="13.3" lengthAdjust="spacingAndGlyphs">206</text><text x="686.5" y="443.7" font-size="8.3" font-weight="normal" fill="#333" text-anchor="middle" textLength="13.3" lengthAdjust="spacingAndGlyphs">204</text><text x="714.1" y="443.7" font-size="8.3" font-weight="normal" fill="#333" text-anchor="middle" textLength="13.3" lengthAdjust="spacingAndGlyphs">202</text><text x="641.7" y="454.9" font-size="8.3" font-weight="normal" fill="#333" text-anchor="middle" textLength="70.6" lengthAdjust="spacingAndGlyphs">Binding Energy [eV]</text><text x="1" y="13.6" font-size="10.6" font-weight="bold" fill="#000" text-anchor="start" textLength="65.4" lengthAdjust="spacingAndGlyphs" stroke="#000" stroke-width="0.3">Comparison</text><text x="29" y="118.6" font-size="9.9" font-weight="bold" fill="#000" text-anchor="start" textLength="27" lengthAdjust="spacingAndGlyphs" stroke="#000" stroke-width="0.3">Aged</text><text x="4.8" y="224.5" font-size="10.6" font-weight="bold" fill="#000" text-anchor="start" textLength="59.4" lengthAdjust="spacingAndGlyphs" stroke="#000" stroke-width="0.3">Sputtered</text><text x="10.6" y="331" font-size="10.6" font-weight="bold" fill="#000" text-anchor="start" textLength="47.3" lengthAdjust="spacingAndGlyphs" stroke="#000" stroke-width="0.3">Oxidized</text><text x="10.6" y="343.9" font-size="10.6" font-weight="bold" fill="#000" text-anchor="start" textLength="55" lengthAdjust="spacingAndGlyphs" stroke="#000" stroke-width="0.3">5 minutes</text><text transform="translate(48.7,57.1) rotate(-90)" font-size="7.9" fill="#222" text-anchor="middle" textLength="52.2" lengthAdjust="spacingAndGlyphs">Intensity [a.u.]</text><text transform="translate(48.7,161.9) rotate(-90)" font-size="7.9" fill="#222" text-anchor="middle" textLength="52.2" lengthAdjust="spacingAndGlyphs">Intensity [a.u.]</text><text transform="translate(48.7,266.5) rotate(-90)" font-size="7.9" fill="#222" text-anchor="middle" textLength="52.2" lengthAdjust="spacingAndGlyphs">Intensity [a.u.]</text><text transform="translate(48.7,371.9) rotate(-90)" font-size="7.9" fill="#222" text-anchor="middle" textLength="52.2" lengthAdjust="spacingAndGlyphs">Intensity [a.u.]</text><text transform="translate(221.4,373.4) rotate(-90)" font-size="7.9" fill="#222" text-anchor="middle" textLength="47.7" lengthAdjust="spacingAndGlyphs">Counts [a.u.]</text></svg></body></html>
